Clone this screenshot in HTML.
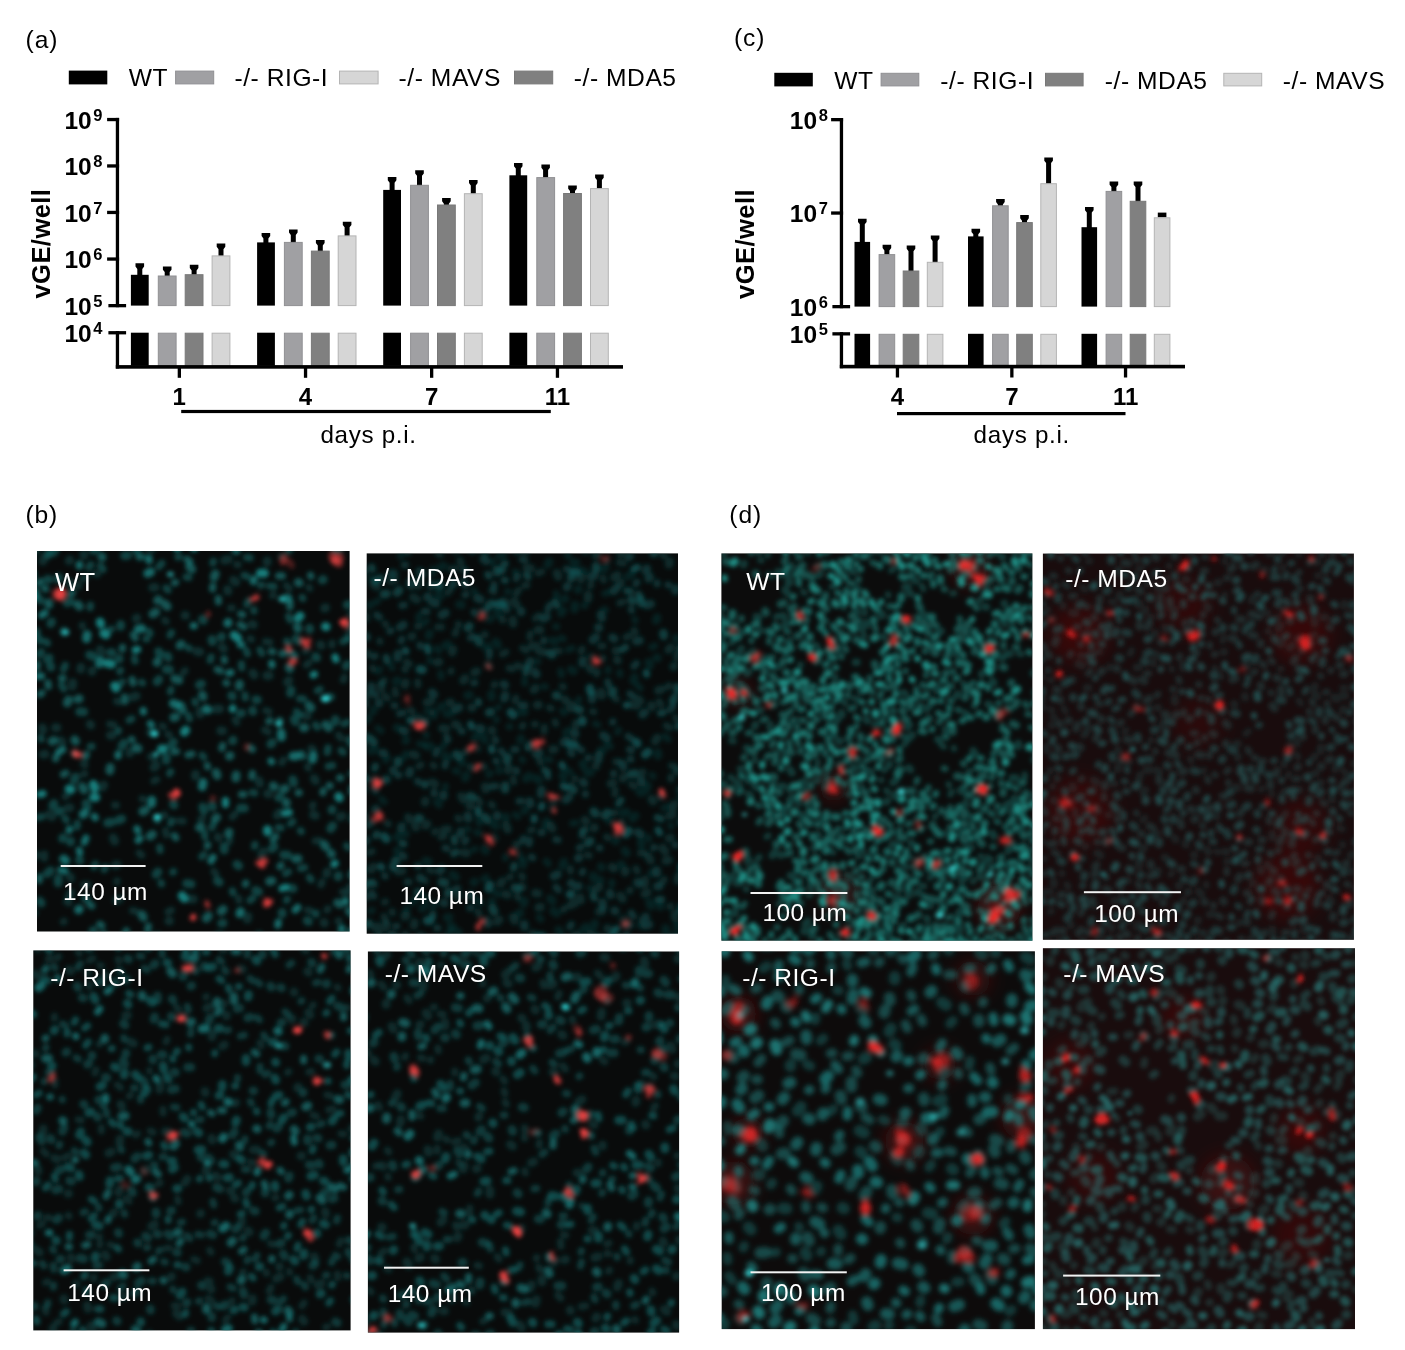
<!DOCTYPE html>
<html lang="en">
<head>
<meta charset="utf-8">
<title>Figure</title>
<style>
html,body{margin:0;padding:0;background:#fff;}
svg{display:block;}
svg text{font-family:"Liberation Sans", Arial, Helvetica, sans-serif;}
</style>
</head>
<body>
<svg width="1405" height="1350" viewBox="0 0 1405 1350">
<defs>
<filter id="f20" x="-5%" y="-5%" width="110%" height="110%"><feGaussianBlur stdDeviation="2"/></filter>
<filter id="f22" x="-5%" y="-5%" width="110%" height="110%"><feGaussianBlur stdDeviation="2.2"/></filter>
<filter id="f23" x="-5%" y="-5%" width="110%" height="110%"><feGaussianBlur stdDeviation="2.3"/></filter>
<filter id="f25" x="-5%" y="-5%" width="110%" height="110%"><feGaussianBlur stdDeviation="2.5"/></filter>
<filter id="f90" x="-5%" y="-5%" width="110%" height="110%"><feGaussianBlur stdDeviation="9"/></filter>
</defs>
<rect width="1405" height="1350" fill="#fff"/>
<rect x="68.8" y="70.6" width="38.5" height="13.8" fill="#000000"/>
<rect x="175.6" y="71.1" width="38.1" height="12.8" fill="#a0a0a3" stroke="#909093" stroke-width="1"/>
<rect x="339.5" y="71.1" width="38.6" height="12.8" fill="#d6d6d6" stroke="#b4b4b4" stroke-width="1"/>
<rect x="514.5" y="71.1" width="38.2" height="12.8" fill="#808080" stroke="#787878" stroke-width="1"/>
<text x="128.8" y="86.2" font-size="24.6" font-weight="normal" text-anchor="start" fill="#000" letter-spacing="0.55">WT</text>
<text x="234.5" y="86.2" font-size="24.6" font-weight="normal" text-anchor="start" fill="#000" letter-spacing="0.55">-/- RIG-I</text>
<text x="398.6" y="86.2" font-size="24.6" font-weight="normal" text-anchor="start" fill="#000" letter-spacing="0.55">-/- MAVS</text>
<text x="573.8" y="86.2" font-size="24.6" font-weight="normal" text-anchor="start" fill="#000" letter-spacing="0.55">-/- MDA5</text>
<text x="25.6" y="48.3" font-size="24.6" font-weight="normal" text-anchor="start" fill="#000" letter-spacing="0.9">(a)</text>
<polygon points="135.5,263.3 144.1,263.3 144.1,266.5 142.3,268.9 142.3,275.8 137.3,275.8 137.3,268.9 135.5,266.5" fill="#000"/>
<rect x="130.9" y="274.8" width="17.8" height="30.8" fill="#000000"/>
<rect x="130.9" y="332.7" width="17.8" height="33.1" fill="#000000"/>
<polygon points="162.9,266.5 171.5,266.5 171.5,269.7 169.7,272.1 169.7,276.5 164.7,276.5 164.7,272.1 162.9,269.7" fill="#000"/>
<rect x="158.3" y="276" width="17.8" height="29.6" fill="#a0a0a3" stroke="#909093" stroke-width="1"/>
<rect x="158.3" y="333.2" width="17.8" height="32.6" fill="#a0a0a3" stroke="#909093" stroke-width="1"/>
<polygon points="189.8,264.8 198.4,264.8 198.4,268 196.6,270.4 196.6,275.2 191.6,275.2 191.6,270.4 189.8,268" fill="#000"/>
<rect x="185.2" y="274.7" width="17.8" height="30.9" fill="#808080" stroke="#787878" stroke-width="1"/>
<rect x="185.2" y="333.2" width="17.8" height="32.6" fill="#808080" stroke="#787878" stroke-width="1"/>
<polygon points="216.7,243.6 225.3,243.6 225.3,246.8 223.5,249.2 223.5,256.4 218.5,256.4 218.5,249.2 216.7,246.8" fill="#000"/>
<rect x="212.1" y="255.9" width="17.8" height="49.7" fill="#d6d6d6" stroke="#b4b4b4" stroke-width="1"/>
<rect x="212.1" y="333.2" width="17.8" height="32.6" fill="#d6d6d6" stroke="#b4b4b4" stroke-width="1"/>
<polygon points="261.6,232.9 270.2,232.9 270.2,236.1 268.4,238.5 268.4,243.4 263.4,243.4 263.4,238.5 261.6,236.1" fill="#000"/>
<rect x="257.1" y="242.4" width="17.8" height="63.2" fill="#000000"/>
<rect x="257.1" y="332.7" width="17.8" height="33.1" fill="#000000"/>
<polygon points="289,229.4 297.6,229.4 297.6,232.6 295.8,235 295.8,242.9 290.8,242.9 290.8,235 289,232.6" fill="#000"/>
<rect x="284.4" y="242.4" width="17.8" height="63.2" fill="#a0a0a3" stroke="#909093" stroke-width="1"/>
<rect x="284.4" y="333.2" width="17.8" height="32.6" fill="#a0a0a3" stroke="#909093" stroke-width="1"/>
<polygon points="315.9,239.9 324.6,239.9 324.6,243.1 322.8,245.5 322.8,251.6 317.8,251.6 317.8,245.5 315.9,243.1" fill="#000"/>
<rect x="311.4" y="251.1" width="17.8" height="54.5" fill="#808080" stroke="#787878" stroke-width="1"/>
<rect x="311.4" y="333.2" width="17.8" height="32.6" fill="#808080" stroke="#787878" stroke-width="1"/>
<polygon points="342.8,221.7 351.4,221.7 351.4,224.9 349.6,227.3 349.6,236.4 344.6,236.4 344.6,227.3 342.8,224.9" fill="#000"/>
<rect x="338.2" y="235.9" width="17.8" height="69.7" fill="#d6d6d6" stroke="#b4b4b4" stroke-width="1"/>
<rect x="338.2" y="333.2" width="17.8" height="32.6" fill="#d6d6d6" stroke="#b4b4b4" stroke-width="1"/>
<polygon points="387.8,177.1 396.4,177.1 396.4,180.3 394.6,182.7 394.6,190.9 389.6,190.9 389.6,182.7 387.8,180.3" fill="#000"/>
<rect x="383.2" y="189.9" width="17.8" height="115.7" fill="#000000"/>
<rect x="383.2" y="332.7" width="17.8" height="33.1" fill="#000000"/>
<polygon points="415.2,170.2 423.8,170.2 423.8,173.4 422,175.8 422,185.8 417,185.8 417,175.8 415.2,173.4" fill="#000"/>
<rect x="410.6" y="185.3" width="17.8" height="120.3" fill="#a0a0a3" stroke="#909093" stroke-width="1"/>
<rect x="410.6" y="333.2" width="17.8" height="32.6" fill="#a0a0a3" stroke="#909093" stroke-width="1"/>
<polygon points="442.1,198.1 450.7,198.1 450.7,201.3 448.9,203.7 448.9,205.5 443.9,205.5 443.9,203.7 442.1,201.3" fill="#000"/>
<rect x="437.5" y="205" width="17.8" height="100.6" fill="#808080" stroke="#787878" stroke-width="1"/>
<rect x="437.5" y="333.2" width="17.8" height="32.6" fill="#808080" stroke="#787878" stroke-width="1"/>
<polygon points="469,179.9 477.6,179.9 477.6,183.1 475.8,185.5 475.8,194.2 470.8,194.2 470.8,185.5 469,183.1" fill="#000"/>
<rect x="464.4" y="193.7" width="17.8" height="111.9" fill="#d6d6d6" stroke="#b4b4b4" stroke-width="1"/>
<rect x="464.4" y="333.2" width="17.8" height="32.6" fill="#d6d6d6" stroke="#b4b4b4" stroke-width="1"/>
<polygon points="514,163 522.5,163 522.5,166.2 520.8,168.6 520.8,176.3 515.8,176.3 515.8,168.6 514,166.2" fill="#000"/>
<rect x="509.4" y="175.3" width="17.8" height="130.3" fill="#000000"/>
<rect x="509.4" y="332.7" width="17.8" height="33.1" fill="#000000"/>
<polygon points="541.4,164.5 549.9,164.5 549.9,167.7 548.1,170.1 548.1,178.1 543.1,178.1 543.1,170.1 541.4,167.7" fill="#000"/>
<rect x="536.8" y="177.6" width="17.8" height="128" fill="#a0a0a3" stroke="#909093" stroke-width="1"/>
<rect x="536.8" y="333.2" width="17.8" height="32.6" fill="#a0a0a3" stroke="#909093" stroke-width="1"/>
<polygon points="568.2,185.5 576.8,185.5 576.8,188.7 575,191.1 575,194 570,194 570,191.1 568.2,188.7" fill="#000"/>
<rect x="563.6" y="193.5" width="17.8" height="112.1" fill="#808080" stroke="#787878" stroke-width="1"/>
<rect x="563.6" y="333.2" width="17.8" height="32.6" fill="#808080" stroke="#787878" stroke-width="1"/>
<polygon points="595.1,174.5 603.7,174.5 603.7,177.7 601.9,180.1 601.9,189.1 596.9,189.1 596.9,180.1 595.1,177.7" fill="#000"/>
<rect x="590.5" y="188.6" width="17.8" height="117" fill="#d6d6d6" stroke="#b4b4b4" stroke-width="1"/>
<rect x="590.5" y="333.2" width="17.8" height="32.6" fill="#d6d6d6" stroke="#b4b4b4" stroke-width="1"/>
<rect x="115.8" y="117.9" width="3.3" height="189.3" fill="#000"/>
<rect x="115.8" y="331.1" width="3.3" height="37.4" fill="#000"/>
<rect x="107.1" y="117.9" width="12" height="3.3" fill="#000"/>
<text x="64.4" y="128.9" font-size="24.5" font-weight="bold" text-anchor="start" fill="#000">10<tspan font-size="16.5" dy="-8.2" dx="1.6">9</tspan></text>
<rect x="107.1" y="164.3" width="12" height="3.3" fill="#000"/>
<text x="64.4" y="175.3" font-size="24.5" font-weight="bold" text-anchor="start" fill="#000">10<tspan font-size="16.5" dy="-8.2" dx="1.6">8</tspan></text>
<rect x="107.1" y="210.8" width="12" height="3.3" fill="#000"/>
<text x="64.4" y="221.8" font-size="24.5" font-weight="bold" text-anchor="start" fill="#000">10<tspan font-size="16.5" dy="-8.2" dx="1.6">7</tspan></text>
<rect x="107.1" y="257.4" width="12" height="3.3" fill="#000"/>
<text x="64.4" y="268.3" font-size="24.5" font-weight="bold" text-anchor="start" fill="#000">10<tspan font-size="16.5" dy="-8.2" dx="1.6">6</tspan></text>
<rect x="108.4" y="304" width="17.7" height="3.3" fill="#000"/>
<text x="64.4" y="314.9" font-size="24.5" font-weight="bold" text-anchor="start" fill="#000">10<tspan font-size="16.5" dy="-8.2" dx="1.6">5</tspan></text>
<rect x="108.4" y="331.1" width="17.7" height="3.3" fill="#000"/>
<text x="64.4" y="342" font-size="24.5" font-weight="bold" text-anchor="start" fill="#000">10<tspan font-size="16.5" dy="-8.2" dx="1.6">4</tspan></text>
<rect x="115.8" y="365.1" width="507.2" height="3.6" fill="#000"/>
<rect x="177.7" y="366.8" width="3.3" height="11" fill="#000"/>
<text x="179.3" y="405" font-size="24" font-weight="bold" text-anchor="middle" fill="#000">1</text>
<rect x="303.9" y="366.8" width="3.3" height="11" fill="#000"/>
<text x="305.5" y="405" font-size="24" font-weight="bold" text-anchor="middle" fill="#000">4</text>
<rect x="430" y="366.8" width="3.3" height="11" fill="#000"/>
<text x="431.6" y="405" font-size="24" font-weight="bold" text-anchor="middle" fill="#000">7</text>
<rect x="555.8" y="366.8" width="3.3" height="11" fill="#000"/>
<text x="557.4" y="405" font-size="24" font-weight="bold" text-anchor="middle" fill="#000">11</text>
<rect x="181.2" y="409.9" width="369.6" height="3.2" fill="#000"/>
<text x="368.6" y="442.6" font-size="24.2" font-weight="normal" text-anchor="middle" fill="#000" letter-spacing="0.7">days p.i.</text>
<text transform="translate(50.1 243.6) rotate(-90)" font-size="25.6" font-weight="bold" text-anchor="middle" letter-spacing="0.4">vGE/well</text>
<rect x="774.3" y="72.8" width="38.5" height="13.6" fill="#000000"/>
<rect x="881.1" y="73.3" width="37.7" height="12.6" fill="#a0a0a3" stroke="#909093" stroke-width="1"/>
<rect x="1045.5" y="73.3" width="37.6" height="12.6" fill="#808080" stroke="#787878" stroke-width="1"/>
<rect x="1223.8" y="73.3" width="37.9" height="12.6" fill="#d6d6d6" stroke="#b4b4b4" stroke-width="1"/>
<text x="834.3" y="88.6" font-size="24.6" font-weight="normal" text-anchor="start" fill="#000" letter-spacing="0.55">WT</text>
<text x="940.3" y="88.6" font-size="24.6" font-weight="normal" text-anchor="start" fill="#000" letter-spacing="0.55">-/- RIG-I</text>
<text x="1104.8" y="88.6" font-size="24.6" font-weight="normal" text-anchor="start" fill="#000" letter-spacing="0.55">-/- MDA5</text>
<text x="1282.8" y="88.6" font-size="24.6" font-weight="normal" text-anchor="start" fill="#000" letter-spacing="0.55">-/- MAVS</text>
<text x="734" y="45.8" font-size="24.6" font-weight="normal" text-anchor="start" fill="#000" letter-spacing="0.9">(c)</text>
<polygon points="858,218.7 866.6,218.7 866.6,221.9 864.8,224.3 864.8,242.9 859.8,242.9 859.8,224.3 858,221.9" fill="#000"/>
<rect x="854.5" y="241.9" width="15.6" height="64.7" fill="#000000"/>
<rect x="854.5" y="333.8" width="15.6" height="31.7" fill="#000000"/>
<polygon points="882.6,244.8 891.2,244.8 891.2,248 889.4,250.4 889.4,255.1 884.4,255.1 884.4,250.4 882.6,248" fill="#000"/>
<rect x="879.1" y="254.6" width="15.6" height="52" fill="#a0a0a3" stroke="#909093" stroke-width="1"/>
<rect x="879.1" y="334.3" width="15.6" height="31.2" fill="#a0a0a3" stroke="#909093" stroke-width="1"/>
<polygon points="906.7,245.6 915.3,245.6 915.3,248.8 913.5,251.2 913.5,271.5 908.5,271.5 908.5,251.2 906.7,248.8" fill="#000"/>
<rect x="903.2" y="271" width="15.6" height="35.6" fill="#808080" stroke="#787878" stroke-width="1"/>
<rect x="903.2" y="334.3" width="15.6" height="31.2" fill="#808080" stroke="#787878" stroke-width="1"/>
<polygon points="930.8,235.4 939.4,235.4 939.4,238.6 937.6,241 937.6,262.8 932.6,262.8 932.6,241 930.8,238.6" fill="#000"/>
<rect x="927.3" y="262.3" width="15.6" height="44.3" fill="#d6d6d6" stroke="#b4b4b4" stroke-width="1"/>
<rect x="927.3" y="334.3" width="15.6" height="31.2" fill="#d6d6d6" stroke="#b4b4b4" stroke-width="1"/>
<polygon points="971.5,228.7 980.1,228.7 980.1,231.9 978.3,234.3 978.3,237.4 973.3,237.4 973.3,234.3 971.5,231.9" fill="#000"/>
<rect x="968" y="236.4" width="15.6" height="70.2" fill="#000000"/>
<rect x="968" y="333.8" width="15.6" height="31.7" fill="#000000"/>
<polygon points="996.1,198.9 1004.7,198.9 1004.7,202.1 1002.9,204.5 1002.9,206.3 997.9,206.3 997.9,204.5 996.1,202.1" fill="#000"/>
<rect x="992.6" y="205.8" width="15.6" height="100.8" fill="#a0a0a3" stroke="#909093" stroke-width="1"/>
<rect x="992.6" y="334.3" width="15.6" height="31.2" fill="#a0a0a3" stroke="#909093" stroke-width="1"/>
<polygon points="1020.2,215.1 1028.8,215.1 1028.8,218.3 1027,220.7 1027,223.1 1022,223.1 1022,220.7 1020.2,218.3" fill="#000"/>
<rect x="1016.7" y="222.6" width="15.6" height="84" fill="#808080" stroke="#787878" stroke-width="1"/>
<rect x="1016.7" y="334.3" width="15.6" height="31.2" fill="#808080" stroke="#787878" stroke-width="1"/>
<polygon points="1044.3,157.5 1052.9,157.5 1052.9,160.7 1051.1,163.1 1051.1,184.2 1046.1,184.2 1046.1,163.1 1044.3,160.7" fill="#000"/>
<rect x="1040.8" y="183.7" width="15.6" height="122.9" fill="#d6d6d6" stroke="#b4b4b4" stroke-width="1"/>
<rect x="1040.8" y="334.3" width="15.6" height="31.2" fill="#d6d6d6" stroke="#b4b4b4" stroke-width="1"/>
<polygon points="1085,207 1093.6,207 1093.6,210.2 1091.8,212.6 1091.8,228.2 1086.8,228.2 1086.8,212.6 1085,210.2" fill="#000"/>
<rect x="1081.5" y="227.2" width="15.6" height="79.4" fill="#000000"/>
<rect x="1081.5" y="333.8" width="15.6" height="31.7" fill="#000000"/>
<polygon points="1109.6,181.5 1118.2,181.5 1118.2,184.7 1116.4,187.1 1116.4,191.9 1111.4,191.9 1111.4,187.1 1109.6,184.7" fill="#000"/>
<rect x="1106.1" y="191.4" width="15.6" height="115.2" fill="#a0a0a3" stroke="#909093" stroke-width="1"/>
<rect x="1106.1" y="334.3" width="15.6" height="31.2" fill="#a0a0a3" stroke="#909093" stroke-width="1"/>
<polygon points="1133.7,181.5 1142.3,181.5 1142.3,184.7 1140.5,187.1 1140.5,201.8 1135.5,201.8 1135.5,187.1 1133.7,184.7" fill="#000"/>
<rect x="1130.2" y="201.3" width="15.6" height="105.3" fill="#808080" stroke="#787878" stroke-width="1"/>
<rect x="1130.2" y="334.3" width="15.6" height="31.2" fill="#808080" stroke="#787878" stroke-width="1"/>
<rect x="1157.8" y="212.6" width="8.6" height="4.7" fill="#000"/>
<rect x="1154.3" y="217.8" width="15.6" height="88.8" fill="#d6d6d6" stroke="#b4b4b4" stroke-width="1"/>
<rect x="1154.3" y="334.3" width="15.6" height="31.2" fill="#d6d6d6" stroke="#b4b4b4" stroke-width="1"/>
<rect x="839.8" y="118" width="3.3" height="190.2" fill="#000"/>
<rect x="839.8" y="332.2" width="3.3" height="36" fill="#000"/>
<rect x="831.1" y="118" width="12" height="3.3" fill="#000"/>
<text x="789.8" y="129" font-size="24.5" font-weight="bold" text-anchor="start" fill="#000">10<tspan font-size="16.5" dy="-8.2" dx="1.6">8</tspan></text>
<rect x="831.1" y="211.4" width="12" height="3.3" fill="#000"/>
<text x="789.8" y="222.4" font-size="24.5" font-weight="bold" text-anchor="start" fill="#000">10<tspan font-size="16.5" dy="-8.2" dx="1.6">7</tspan></text>
<rect x="832.4" y="305" width="17.7" height="3.3" fill="#000"/>
<text x="789.8" y="315.9" font-size="24.5" font-weight="bold" text-anchor="start" fill="#000">10<tspan font-size="16.5" dy="-8.2" dx="1.6">6</tspan></text>
<rect x="832.4" y="332.2" width="17.7" height="3.3" fill="#000"/>
<text x="789.8" y="343.1" font-size="24.5" font-weight="bold" text-anchor="start" fill="#000">10<tspan font-size="16.5" dy="-8.2" dx="1.6">5</tspan></text>
<rect x="839.8" y="364.8" width="345.2" height="3.6" fill="#000"/>
<rect x="895.8" y="366.5" width="3.3" height="11" fill="#000"/>
<text x="897.4" y="404.7" font-size="24" font-weight="bold" text-anchor="middle" fill="#000">4</text>
<rect x="1010.2" y="366.5" width="3.3" height="11" fill="#000"/>
<text x="1011.9" y="404.7" font-size="24" font-weight="bold" text-anchor="middle" fill="#000">7</text>
<rect x="1123.9" y="366.5" width="3.3" height="11" fill="#000"/>
<text x="1125.6" y="404.7" font-size="24" font-weight="bold" text-anchor="middle" fill="#000">11</text>
<rect x="897" y="412" width="228.5" height="3.2" fill="#000"/>
<text x="1021.8" y="443.2" font-size="24.2" font-weight="normal" text-anchor="middle" fill="#000" letter-spacing="0.7">days p.i.</text>
<text transform="translate(754.2 244) rotate(-90)" font-size="25.6" font-weight="bold" text-anchor="middle" letter-spacing="0.4">vGE/well</text>
<clipPath id="cbwt"><rect x="37" y="551" width="312.6" height="380.5"/></clipPath>
<rect x="37" y="551" width="312.6" height="380.5" fill="#090b0b"/>
<g clip-path="url(#cbwt)">
<g filter="url(#f20)"><rect x="7" y="521" width="1" height="1" fill="#090b0b"/><rect x="379.6" y="961.5" width="1" height="1" fill="#090b0b"/>
<g fill="none" stroke="#1c9896" stroke-linecap="round" stroke-width="7.2">
<path opacity="0.26" d="M338.6 735.1l2.4 3M322.1 882l-1.2 2.8M307.5 766.6l0.9 1.4M235 719.7l1.7 2.7M229.8 839.4l-0.5 2.5M185.1 670.5l-1.8 2.2M283.1 556.1l-1.9 0.5M164.2 814.6l0.5 0.9M95.3 573.6l2.1 0.8M116.6 701.1l2.2 0.9M167.9 734.3l1.5 0.6M264.5 729.9l3.7 2M265.6 641.4l4.2 0.9M153.8 732.1l-4.3 0.3M328 908.7l-1.1 1.3M309 662.8l-2.7 2.2M150.5 756.6l4 1.7M78.3 585.4l0.1 0.7M142.2 798.7l1 0.5M236.9 564.7l1.3 0M234.9 814.4l-2.6 2.5M82.3 625.2l0.2 1M84.7 773.6l-1.1 0.7M114.7 805.1l1.6 0.2M250.1 638.5l1.4 1M344.3 677.1l-1 2.9M88.1 884.7l-4.3 0M332.1 643l-0.1 2.2M259.3 933.9l-0.9 0.8M66.7 901.5l2.1 1.4M265.8 710.5l3.2 1.2M307.5 910l3.4 1M319.7 840.6l-4.4 0.2M44.5 854.2l-0.2 4.2M164.6 620.2l1.6 1.3M283.5 759.8l-1.8 2.9M117.1 881.1l-0.3 0.7M171.3 910.2l-3.2 1.5M306.6 649.9l-1 1.4M32.9 911.5l1.8 1.4M165.4 830.6l0.9 4.2M232.2 607.9l-1.6 0.2M309 587.4l0.7 0.9M179.4 820.8l3.8 0.3M139.2 853l2.5 2.2M202.8 818.2l-2.2 1.2M156.7 779.6l-2.9 1.4M312.9 804.8l-0.4 1.6M353.3 613.2l-2.9 1.3M339.1 920.8l-1.1 0.3M213.9 871.4l1.9 2.5M109.7 724.2l4 0.6M238.5 898.2l0.5 2.4M132.6 910.6l2.8 0.6M342.4 891.7l0.8 0.8M83.3 764l1.8 0.6M64 921.3l-0.6 0.5M273.2 594.8l-0.5 0.7M162 725.9l1.6 0.8M66.8 795.8l-1.8 0.9M86 576.9l-3.7 2M286.4 585.6l2.9 3M157.8 934.9l-1.8 1.4"/>
<path opacity="0.4" d="M92 746.4l-1.7 0.1M65.3 665.3l-1.8 3.9M173.5 871.5l-0.7 0.7M299.8 698.7l3.9 0.3M37.1 631.1l-2.5 0.5M288.5 616.2l1.6 3.7M90.5 605.2l-0.4 2.5M166.1 588.1l1.9 2M287.2 899.1l-0.7 1.3M347.5 722.2l-3.6 1.6M179.2 556.7l-1.3 0.3M122.2 681.8l-2 2.4M203.9 854.7l-2.1 1.9M341.1 750.5l2.1 1.9M118.5 730.3l-0.4 1.1M103.8 933.5l-0.9 2.4M296.6 711.5l2.6 3.2M252.8 898.2l-2.8 2.1M255 844.4l-0.5 2M346.8 639.7l-4 1.8M171 689.5l-0.7 2.3M304.6 867.5l-4.1 1M261.6 584.9l-1 0.4M77.3 823.4l-0.3 3.5M241.4 663.9l0.3 3.9M248.3 601.1l-1.4 3.2M194.8 701.1l0.5 1.7M286.7 641.2l1.4 1.8M148.9 631.2l1.2 2.3M46.4 641.9l1.1 1.3M315.6 724.9l1.6 2.4M131.8 718.8l-2.6 1.4M259.9 649.9l1.9 3.5M278.2 827.6l2.9 0.3M65 818.3l1.3 1.9M288.4 871.7l-2.8 1.8M232.3 890.6l0.7 2.3M161 882.7l0.5 1.2M353.5 815.6l-0.8 3.9M329 696.3l2.6 0.7M61.4 685l2.3 3.8M202.1 755.4l1.7 1.8M269.7 586l4.3 0.5M244 575.4l3.2 1M186.2 577l2.7 0.3M40.5 737.8l0.8 1.4M141.6 682.3l0.9 0.6M111.4 629.2l-3.3 1.6M41.5 816.8l-3.6 0.8M156.6 819.1l0.8 1.4M100.5 565.9l2.5 3.5M346.7 845.8l1.8 1.7M316.1 913.3l-0.2 0.9M159.7 847.3l0.4 3M170.7 771.6l-1.1 2M351.3 773.6l2.1 0.7M252.3 792.5l2.4 0.5M211.2 656.9l-1.1 3.4M332.5 765.5l-4.2 0.8M145.9 639l1 0M320.1 689.2l-2.7 1.4M309.4 877.3l1.6 2.2M328 747.9l-0.7 4.4M213.4 824.1l-1.7 3.5M161.9 563.4l-2.9 3.3M171.8 820.6l-1 2.7M213.4 561.1l-0.6 1.9M292.8 821.5l-2.3 2.1M246.6 557.4l3.6 0.5M245 695.2l0.3 2.6M302.2 597.6l0.6 0.9M90.8 564.6l-2 2.6M171.5 632.6l-1.5 2.6M134.5 658.4l0.5 2.6M246.2 650.4l1.2 3.5M204.3 833l0.6 4.1M188.4 715.4l1.1 3.5M120.5 670.4l-0.8 1M300.4 830.6l0.9 0.9M188.2 647.8l0.9 0.5M48 552.7l0.3 2.4M253.9 609.8l0.1 1.3M105.3 867.3l-1.1 2.2M95.4 864l-1.5 2.9M290 549l-1.2 1.8"/>
<path opacity="0.53" d="M133.3 634.9l2 3.2M285 653l-3 0.6M61.6 678.1l1.4 0M65.8 773l-2.4 1.4M224.2 659.1l0.2 1.5M218.2 598.7l0.3 3.1M252.4 773.5l-0.6 3.2M56.3 756.4l-0.7 2.5M217.2 669.5l3.4 1.4M240.2 624.6l3.6 2.2M207.8 844.8l-0.5 1.2M186.9 559.4l2.9 2.1M278.6 575.8l3.8 0.1M207.2 765.5l0.4 1.3M191.9 754l-3.9 0.9M44.4 588.2l1.2 0.7M281 865.3l-1.1 1.2M340.6 777.8l-1 0M275.7 836.4l-2.7 3.2M245.9 883l-0.5 1.2M131.5 739.3l0.6 0.5M176.6 751.5l-2.8 0.1M250.8 747.9l1.6 1.5M141.6 556.8l-2.3 0.3M290.2 603.2l-0.4 3.9M39.5 877l-0.3 3.3M86.4 754.4l-0.9 2.2M72.3 593l-1.3 1M222.6 745.5l-0.9 2.9M37.2 664l-0.2 3.5M148.4 926.1l-0.6 3.8M212.8 586.2l-0.3 2.7M226 682.7l0.8 0.5M352.3 787.8l-0.6 3.8M291.3 653.2l3.3 2.5M279.9 720.5l-0.6 3.1M301.4 753.9l1.3 2.2M240.8 614l1.9 0.6M310.5 575.2l0.4 1.2M323.3 790.8l-0.5 1.8M122.5 647.3l-0.3 1.7M126.4 930.8l-1.2 2.5M47.9 683l0.5 3.3M132.1 679.4l0.9 3.8M174.4 835.7l1.5 2.1M271.3 651.4l1.4 0.4M99.8 924.2l2 1.5M175.7 582.4l-1.3 0.4M89.8 904.4l2 1.5M329.3 785.4l0.8 0.4M41.9 693.1l-2.1 1.2M124.5 697.1l0.5 4.1M241.6 794.3l2.2 0.1M299.2 792.6l-1 0.2M270 720.8l-1.3 0.5M40.4 581.5l-1.9 1.5"/>
<path opacity="0.67" d="M150.3 723.7l1.2 1.4M79.5 564.5l-0.2 1.4M69.5 829.2l-0.4 1.2M86 838.1l-1.7 4M241.7 644.6l-1.4 0.1M118.2 754l-0.2 2M41.5 676l-3.6 0.3M271.7 663.4l0.3 1.6M74.6 753.6l1 0.5M213.1 857.4l-2.1 3.5M143.2 710.5l0.2 1.4M139.8 838.5l-1.7 1.9M45 613l-3.4 2.3M271 761l0.5 0.7M193.3 625.8l0.8 0.1M79.2 850.3l0.6 2.4M136.9 828.8l1 2M278.3 922.3l-0.5 2.8M254 579.3l-0.7 2.2M345.6 900.4l0.4 1.3M94.3 816.6l1 1M297.8 907.4l-2.6 2.5M230.9 672.5l-2.2 0.6M60.7 869.9l4.3 1.2M62.7 749.7l-3.9 2.1M341.7 928l-0.2 2.1M148.9 558.2l0.2 2.4"/>
<path opacity="0.81" d="M43 793.7l-3.2 0.6M137.6 649.4l-2.4 0.6M32.1 572.8l0.3 1.5M335 657.1l1 2.4M285.9 887.3l-3.9 1.1M232.7 708.1l-0.2 0.9M225.5 800.6l0 3.7M194.5 545.7l-0.5 2.8M314.4 674.3l-1.2 0.6M289.2 812.4l-4.3 0.9M335.2 863.4l-1.3 0.9"/>
</g>
<g fill="none" stroke="#1c9896" stroke-linecap="round" stroke-width="8.8">
<path opacity="0.26" d="M195.6 774.2l-0.3 2.1M83.8 553.9l0.1 1.8M42.4 727.8l0.6 2.2M100.2 649.4l1.1 2.8M314.1 778.4l1.4 2.4M117.2 864.7l-2.1 0.6M349.9 887.4l-0.6 4.1M252.1 624.1l1.4 0.7M184.9 615.5l0.7 0M156.2 765.5l-2.4 2M136.3 695.9l-3.8 1.3M228.5 559.3l-4.1 1M252.8 673l1.3 2M199.7 711.4l0.4 2.7M90.1 724.1l0.6 1.1M119.2 899.2l-2.8 0.9M155.2 587.4l-2.6 0.2M227.5 589.3l0.4 2M219.9 708.8l-4.2 0.3M70.8 893l-1.6 3M258.6 780.3l1.2 3.1M311.6 748.9l1.3 1.4M266.7 675.6l2.7 0M196.7 651.4l3.3 0.6M48.7 814.7l3.2 2.2M323.9 922.4l0.5 0.7M110.2 735.4l1.9 0.1M80.9 667.1l-0.3 2M248 916.4l-0.7 2.9M233.5 580.1l2.4 2M220.6 730.7l2.2 0.1M136.9 617.9l-0.8 0.7M168.9 920.9l0.7 0M320.5 644.7l0.6 0.8M57 727.7l-1.7 0M190.6 899l2.8 0.1M44.6 557.2l-1.8 4M60.9 740.6l1.2 1.9M217.9 837l0.5 0.9M103.8 785l-1.2 2.2M113.2 837.7l1.5 3.6M267.2 560.9l-0.1 1.4M72.8 682.6l-0.5 3.7M92.3 670.6l-0.3 0.8M69.7 559.9l-0.4 0.9M327.2 872l-0.6 1.9M148.4 547.8l3.4 1.3M36.4 855l-3.3 0.9M45.2 754.1l-2.3 0.4M342.1 816l-2.1 0.9M325.7 607.7l-1.2 0.6M70.1 807.6l-2.4 0.5M63.8 630.6l0.1 1M279.5 812.4l-2.4 3M313.3 814.8l2.1 0.8M304.9 715.7l2.6 0.2M70.3 877l0.4 1.2M263.5 851.7l-2.1 2.9M267.4 793.7l1.2 0.4M222.1 647.1l1.6 1.9M288.9 680.3l-1.6 1.8M349.4 633.7l-0.8 3.3M130.7 751.5l-1.2 1.9M219.6 935.1l-1.7 0.7M69.9 582.4l0.6 2.5"/>
<path opacity="0.4" d="M338.4 875.5l-0.3 1.2M217.4 880.9l1.9 1.3M111.3 822.2l-3.8 0.7M40.8 652.4l-1.5 1.7M39.6 901l1.6 2.1M231.6 695.5l0.8 1M63 837.7l-0.5 0.8M233 740l-0.4 0.9M39.2 598.9l1.1 1.4M296.1 638.8l2.8 2.2M323.3 579.5l-1.1 0.4M332.6 825.9l-2 2.8M274.1 846.6l-2.1 2M51.6 621.8l-0.9 1.8M127.6 555.4l-3.1 0.3M173.3 804.1l0.6 1M60.2 811.1l-1.8 0.1M291.1 690.1l-0.7 3.1M58.9 577.5l-1 1.6M315.6 656.7l1 1.1M158.9 679.5l-1.8 2.1M50.4 665.8l0.5 1.5M221.7 636.5l-0.5 0.7M89.5 654.9l3.7 1.5M292.8 779.6l0.8 3.3M339.1 548.9l-3.9 0.5M283.5 854.8l4.2 0.4M350.2 604.6l-3 0.1M157.9 872l-1.9 2.3M309.6 628.1l0.1 1.2M347.6 664.5l-1.4 1.5M86 803.4l1.4 4.2M252.6 710.2l0.3 1.2M70.2 601.7l-3.1 1.2M307.1 920.6l1.4 0.9M50.4 870.7l-3.1 2.8M119.3 658.4l-0.3 0.8M124 743.1l-2.2 3.1M202.6 619.1l0.8 1.3M201.5 683.8l-2.1 1M280 796.1l-1.4 1.5M244.5 808.1l-4.2 0.1M211.8 639.4l0.6 2.2M58.3 878.5l-0.2 4.5M35.2 549.9l-2.1 1.1M166.1 669.3l3.5 0.3M79.6 711.7l4.2 0.1M352.2 624.7l-1.1 1.4M166.2 756.9l-0 3.4M272.3 742.6l-1.6 1.6M75.5 777.1l-1.4 3.2M120.7 624.4l-0.1 2.2M223 923l-1.4 0.3M255.6 890.3l3 1.4M332.1 809.3l-0.2 0.7M202.6 807l1.3 3.6M70.7 841.2l-0.3 0.9M291 888l2.2 0.5M86.2 898.6l-0.8 0.2M241.5 713.1l-1.1 0.3M349.5 739.8l2.2 3.7M49.2 658l-1.8 1.5M93.4 930.5l-0.6 0.5M236.9 864.4l1.8 1.5M294.1 719.2l1.3 2.5M55.1 549.7l-1.6 2.8M224 846.7l0.3 3.3M212 805.4l0.6 1.6M255.9 699.7l1.6 0.1M186.7 883.5l4.4 0.5M53.9 803.4l-1.3 2.4M167.3 655.8l1 1.8M282.1 912.4l-0 1.4M110.6 652.5l1.4 0.2M121.8 818.8l-3.5 1.5M158.5 651.6l1.6 2.3M335.4 719.5l-0.3 2.3M37.6 637.7l2.1 2.6M79.3 860.1l0.5 0.6M135.6 546.9l1.1 4.3M47.6 579.4l1.2 0.1M173.6 742.1l-2.2 2.8M95.9 548.6l-2.4 2.1"/>
<path opacity="0.53" d="M325.7 724.6l3 3M352 930.9l-0.9 0.8M145.4 810.1l-2.7 1.4M74.7 739.7l0.9 1.5M77.9 604.7l1.6 1.7M200.8 826.7l-1.5 0.7M337.6 902.9l2.3 1.1M285.1 788.6l-1.3 0.5M289 667.4l0.8 1.2M164.6 603.8l2.7 2.6M155.8 612.1l-3 1.8M208.4 915.8l-2.1 2.5M297.2 626.6l0.7 2.1M68.5 699.8l-1.3 3.2M298.3 582.4l0.9 0.4M216.8 817.5l-1.3 0.9M110.2 767.3l-0.4 3.5M349.2 910.9l2.9 2.7M79.3 698.6l-1.6 0.5M181.2 705.8l1.2 4.2M157.5 661.4l-0.6 1.1M53.9 740.4l-1.8 0.9M82.4 786.7l1.5 3.2M223.2 909.3l-2 2.1M175.8 717l-2.1 0.6M230.2 755.6l-0.8 0.6M158.3 599.6l-0.8 0.8M304.8 727.6l-1.4 0.2M101.7 556.5l0.5 0.7M141.9 914.7l1.4 2.7M272 880.8l-2.5 0.6M353.2 872.8l-1.1 2.5M273.2 785.9l1.1 0.8M215.4 573.8l-1.3 3.4M229.1 832.1l-0.6 1.9M235.2 546.9l1 4M181.2 644.1l-1.4 1.3M239.6 683.9l-0.4 2.2M136 747.7l2.2 0.8M174.7 678.8l4.2 1.4M331 853.2l0.5 0.9M152.5 834.3l-2.5 2M48.7 602.8l0.2 1.9M308.9 705.5l2.1 2.3M236.2 774.9l-0.4 3.2M298.2 858.7l-2.8 0.2M286.2 802.2l0.2 1.2M202.4 694.9l0.7 2M216.1 772.5l1.1 3M189.4 566.7l2.5 2.4M324.2 844.6l1.5 2.1"/>
<path opacity="0.67" d="M63.6 858.9l2.1 1.8M206.3 708.8l1.3 1.1M288 598.3l-2.5 0.4M151.8 800.1l-0.3 3.5M84.4 813.3l-1.4 1M281.1 732.7l0.4 4.3M240.5 911.7l-0.7 1.9M228 622.4l-0.3 0.8M87.1 634.6l-0.6 4.1M173.2 703.3l3.8 1.5M150.6 572l-2.9 1.4M79.2 909.2l-0.7 0.6M296.4 756l-3.6 0.2M203.1 782.5l-0.9 4.2M34.8 592.2l-1 4.2M141.7 628.5l-3.5 0.5M313.2 755.8l-0.6 3.5M100.2 660.7l-0.9 2.9"/>
<path opacity="0.81" d="M325.4 626.6l0.8 0.2M93.4 784.3l1.2 4M260.2 573.1l4.3 0.1M114.6 685.8l1.4 2.4M338.5 796.5l0.9 1.3M185.8 730.1l-1.5 1.9M107.3 663.3l4.2 0.8M100.1 622l0.6 2.1M163.5 748.8l-2.2 0.4M267.4 829.6l0.2 2.2M300.2 615.9l-2.2 2M69 788.9l2.1 0.6M93.5 797.3l2.3 0.1M234.1 635.2l3.5 2.7M103.6 633.4l2.4 1.4M182.1 895.6l2.2 2.8M177 546l0.2 1.4"/>
</g>
<g fill="#ee4444">
<ellipse cx="58.7" cy="593.6" rx="6.5" ry="5.9" opacity="0.64" transform="rotate(158 58.7 593.6)"/>
<ellipse cx="60.7" cy="595.1" rx="6.2" ry="5.4" opacity="0.64" transform="rotate(117 60.7 595.1)"/>
<ellipse cx="61.3" cy="593.4" rx="5.5" ry="5.1" opacity="0.64" transform="rotate(83 61.3 593.4)"/>
<ellipse cx="290.1" cy="563.3" rx="6.3" ry="3.8" opacity="0.28" transform="rotate(55 290.1 563.3)"/>
<ellipse cx="283.7" cy="559.3" rx="5.9" ry="4.1" opacity="0.28" transform="rotate(96 283.7 559.3)"/>
<ellipse cx="283.2" cy="560.3" rx="5.2" ry="3.7" opacity="0.28" transform="rotate(106 283.2 560.3)"/>
<ellipse cx="338.3" cy="558.6" rx="6.3" ry="5.2" opacity="0.48" transform="rotate(139 338.3 558.6)"/>
<ellipse cx="336.9" cy="561.9" rx="6.8" ry="4.7" opacity="0.48" transform="rotate(36 336.9 561.9)"/>
<ellipse cx="333.6" cy="557.9" rx="6.7" ry="5" opacity="0.48" transform="rotate(66 333.6 557.9)"/>
<ellipse cx="253" cy="599.1" rx="3.6" ry="2.6" opacity="0.6" transform="rotate(171 253 599.1)"/>
<ellipse cx="256.4" cy="597.3" rx="3.5" ry="3.3" opacity="0.6" transform="rotate(13 256.4 597.3)"/>
<ellipse cx="345.4" cy="623.5" rx="4.8" ry="4" opacity="0.68" transform="rotate(103 345.4 623.5)"/>
<ellipse cx="342.9" cy="621.7" rx="4.1" ry="2.7" opacity="0.68" transform="rotate(168 342.9 621.7)"/>
<ellipse cx="343.9" cy="621.8" rx="4.5" ry="3.1" opacity="0.68" transform="rotate(131 343.9 621.8)"/>
<ellipse cx="306.9" cy="645.7" rx="4.1" ry="2.8" opacity="0.64" transform="rotate(0 306.9 645.7)"/>
<ellipse cx="303.3" cy="641.2" rx="3.7" ry="3.2" opacity="0.64" transform="rotate(94 303.3 641.2)"/>
<ellipse cx="307.8" cy="641.3" rx="4.3" ry="2.6" opacity="0.64" transform="rotate(142 307.8 641.3)"/>
<ellipse cx="288.2" cy="648.3" rx="3.7" ry="2.8" opacity="0.56" transform="rotate(42 288.2 648.3)"/>
<ellipse cx="289.8" cy="649.9" rx="3.1" ry="1.8" opacity="0.56" transform="rotate(101 289.8 649.9)"/>
<ellipse cx="291.4" cy="662.3" rx="3.9" ry="3.4" opacity="0.6" transform="rotate(76 291.4 662.3)"/>
<ellipse cx="294.5" cy="661.1" rx="3.4" ry="2.9" opacity="0.6" transform="rotate(172 294.5 661.1)"/>
<ellipse cx="78.2" cy="754.8" rx="4.2" ry="3.4" opacity="0.68" transform="rotate(168 78.2 754.8)"/>
<ellipse cx="75" cy="753.4" rx="3.9" ry="3.3" opacity="0.68" transform="rotate(82 75 753.4)"/>
<ellipse cx="176.9" cy="792.8" rx="4.7" ry="3.8" opacity="0.68" transform="rotate(76 176.9 792.8)"/>
<ellipse cx="176.4" cy="792.9" rx="4.2" ry="3.4" opacity="0.68" transform="rotate(23 176.4 792.9)"/>
<ellipse cx="172.6" cy="795.8" rx="4.8" ry="3.1" opacity="0.68" transform="rotate(24 172.6 795.8)"/>
<ellipse cx="262.2" cy="864.6" rx="4.2" ry="3.8" opacity="0.64" transform="rotate(75 262.2 864.6)"/>
<ellipse cx="259.2" cy="863.8" rx="4.4" ry="2.8" opacity="0.64" transform="rotate(30 259.2 863.8)"/>
<ellipse cx="264" cy="860.6" rx="4.7" ry="3" opacity="0.64" transform="rotate(10 264 860.6)"/>
<ellipse cx="265.9" cy="903.4" rx="4.4" ry="3.2" opacity="0.64" transform="rotate(90 265.9 903.4)"/>
<ellipse cx="269.5" cy="902.7" rx="4.7" ry="3" opacity="0.64" transform="rotate(131 269.5 902.7)"/>
<ellipse cx="267.4" cy="901.2" rx="4.1" ry="2.5" opacity="0.64" transform="rotate(68 267.4 901.2)"/>
<ellipse cx="193.8" cy="917.1" rx="3.5" ry="2.6" opacity="0.6" transform="rotate(85 193.8 917.1)"/>
<ellipse cx="192.6" cy="917.7" rx="3.4" ry="3.1" opacity="0.6" transform="rotate(114 192.6 917.7)"/>
<ellipse cx="207.8" cy="905.2" rx="3.8" ry="2.8" opacity="0.36" transform="rotate(74 207.8 905.2)"/>
<ellipse cx="206.9" cy="903.4" rx="4" ry="2.8" opacity="0.36" transform="rotate(81 206.9 903.4)"/>
<ellipse cx="208.5" cy="613.8" rx="3.4" ry="2.6" opacity="0.35" transform="rotate(75 208.5 613.8)"/>
<ellipse cx="246.5" cy="746.9" rx="4" ry="2.6" opacity="0.3" transform="rotate(94 246.5 746.9)"/>
<ellipse cx="212.9" cy="798.1" rx="3.3" ry="2.8" opacity="0.3" transform="rotate(12 212.9 798.1)"/>
</g>
<ellipse cx="325.5" cy="698.6" rx="4.7" ry="3.7" fill="#30d8d8" opacity="0.9"/>
<ellipse cx="154.3" cy="733.7" rx="4.1" ry="3.3" fill="#30d8d8" opacity="0.85"/>
<ellipse cx="155.8" cy="754.2" rx="2.9" ry="2.3" fill="#30d8d8" opacity="0.7"/>
<ellipse cx="157.3" cy="817.1" rx="3.8" ry="3" fill="#30d8d8" opacity="0.9"/>
<ellipse cx="65.1" cy="632.2" rx="4.1" ry="3.3" fill="#30d8d8" opacity="0.7"/>
<ellipse cx="278.7" cy="723.5" rx="3.5" ry="2.8" fill="#30d8d8" opacity="0.7"/>
<ellipse cx="170.4" cy="574.3" rx="3.5" ry="2.8" fill="#30d8d8" opacity="0.6"/>
<ellipse cx="281.6" cy="599.1" rx="3.5" ry="2.8" fill="#30d8d8" opacity="0.6"/>
</g>
</g>
<text x="54.9" y="590.8" font-size="25.6" font-weight="normal" text-anchor="start" fill="#fff" letter-spacing="0.5">WT</text>
<rect x="60.7" y="865" width="84.9" height="2" fill="#f2f2f2"/>
<text x="63" y="900.4" font-size="24.4" font-weight="normal" text-anchor="start" fill="#fff" letter-spacing="0.5">140 µm</text>
<clipPath id="cbmda"><rect x="366.7" y="553.4" width="311.3" height="380.3"/></clipPath>
<rect x="366.7" y="553.4" width="311.3" height="380.3" fill="#080b0b"/>
<g clip-path="url(#cbmda)">
<g filter="url(#f22)"><rect x="336.7" y="523.4" width="1" height="1" fill="#080b0b"/><rect x="708" y="963.7" width="1" height="1" fill="#080b0b"/>
<g fill="none" stroke="#166c6e" stroke-linecap="round" stroke-width="7">
<path opacity="0.23" d="M476 747l2.4 2.1M377.8 728.2l3.3 2.5M429.8 659.9l-0.1 1.1M405.6 753.5l-1.3 4.2M440.7 673.3l0.4 3.6M435.1 903.4l-1.8 3.6M476.7 832.4l2.9 0.6M569 730.1l-3.7 1.9M498.7 707.3l-0.6 0.4M552 807.1l-0.1 2.2M575.9 822.7l-3.4 0.7M612.2 821.3l-3.5 0M406.9 908.8l-1.7 2.6M419.3 743.8l4.2 0.9M514.7 571.8l1.8 0.3M467.7 828.7l0.6 0.6M372.3 910.2l-2.1 0.8M586.1 551.2l-0.5 0.6M506 856.5l-0.7 1.7M611.8 881.9l-0 2.3M491 900.6l1.6 0.6M560.6 671l0.9 3.9M607.2 560.5l-0.1 0.8M498.9 768.9l0.3 2.5M524.5 680.1l0.2 3.1M555.9 593.4l1 1.7M380.1 669.1l-2.2 2.5M561 638l2.4 1M515.2 814.6l2.5 2M509.1 726.4l1 0M370 578.3l3.9 1.8M381.7 799.3l2.6 2.4M445.4 786l0.3 0.7M638 685.6l2.2 2.7M654.9 645.9l-3.2 1.1M634.7 619.3l0.6 1.5M436.5 648.5l2.1 2.5M598.7 936.2l0.8 1.4M639.5 925.3l1.8 0.7M496.6 719.4l-0.3 0.7M432.7 569.1l0.2 4.2M546.7 759.2l3.6 0.7M426.7 620.8l-1.7 2M507.3 591.3l1.2 0.3M595.3 723.7l2.5 1.2M368.4 604.3l1.3 2.2M450.9 930.9l-3 2.7M555.6 626.5l1.1 0.1M426 734.4l0.4 1.1M474.9 849.1l-1.2 0.4M455 770.7l2.7 0.8M495.3 892.4l3 2.1M519.4 854.2l1.6 3.5M608.2 669.1l-0.1 1.9M456.3 550.8l-0.5 0.5M546.3 861.3l2 2.4M608.8 592.1l-4.1 1.4M401.3 552.6l-0.7 4M667.3 806.5l-3.8 1.6M652 775.3l1.2 0.9M490.5 773.3l-1.9 1.4M521.9 759.1l0.8 1.2M486.4 877.5l-2.8 1.4M567.5 770.5l2.7 1.4M390.5 664.8l1.7 3.4M478.6 819.7l0.7 3.7M377.8 601.1l-3.3 1.6M459.2 931.9l-0.3 1.2M589.4 888.1l2.3 1.6M670.6 825.1l0.3 1.4M387.9 758l-2.2 2.4M619.7 672.3l0.3 2M572.1 648.4l-4 1.4M567.8 553.7l0.5 2.6M543.9 686.4l1.6 0.3M444.9 743.9l-2.1 2.7M579 699.2l-0.3 1M607.5 744.3l3 2M562.3 710.6l1.5 2.4M603.8 609.4l1.9 0.5M406.6 833.5l-0.4 1.3M539.2 917.2l1.7 2M537.9 661.2l-0.5 0.6M618.7 729.9l-1.2 2.1M426.8 711l4.1 1.1M419.1 615.2l-0.4 3.6M648.6 837.6l0.2 1.7M473.7 590.4l0.8 1.2M493.1 561.2l-0.7 1.4M584.2 605.7l0.8 0.1M665 736.2l3.2 2.9"/>
<path opacity="0.33" d="M367.6 695.6l-2.2 0.1M385.5 901.7l-1.2 0.4M526.8 585.1l-2.1 0.4M404.4 669l1.1 0.8M438.1 553l1.9 1.5M595.1 766l1.4 0.8M502.6 619l0.1 1.3M662.8 554.8l1.6 1.4M635.9 868.7l1.3 2.5M671.3 765.5l3.8 1.2M597.3 671.6l-0.7 2.5M631.4 784.1l2.5 2.1M555.8 650.7l3.6 0.4M372.6 667.8l0.5 1.2M365.9 615.8l0.5 3M458.3 624l0.3 1M535.5 724.2l-1.2 0.3M523.1 725.2l-1.1 1.4M437.5 626.9l4.1 0M666.2 725.7l3.6 1.9M659 701.4l1.9 3.2M459.9 560.2l1.2 3.2M539.4 759.8l1.1 2.9M602.8 658.1l-0 0.7M562.3 686.2l1.2 0.8M533.3 933.2l-1.7 0.2M517.2 896.7l1.1 1.2M538.7 615.7l-3.5 2.6M392 911.4l0.5 1.5M517.4 550.3l-0.7 1.2M532.4 829.6l-2 0.8M421 764.8l-2.2 1.4M384 916.5l1.5 3.9M483.4 766.1l0.9 1M487.5 664.7l1.7 1.5M592.4 711.4l1.5 0.3M509.1 668.3l3.7 0.4M433.1 765.1l1.2 1M541.8 571.8l-3.6 1.3M530.3 633.8l-0.5 3.3M522.6 648.2l3.4 2.1M521.3 875.6l1.5 1.8M405.5 934.1l-0.3 1.8M384.8 695.9l2.6 2.3M587.4 854.6l1.9 1M450.1 589.8l-2.3 2.9M505.9 652.2l-3.6 1.9M621.6 821.6l1 4M384.3 680.3l-1.9 2.2M494.8 684.3l-0.8 0.8M429.2 869.6l2.5 1.2M582.3 649l-1.2 2.2M375.3 778.8l-3.2 0.9M642.4 771.7l0.8 0.3M435.3 831.1l-0.8 1M363.5 815.2l1.9 1.7M516 844.3l0.4 2.4M630.2 890l-0.7 1M549.5 707.7l1.8 0.7M385.1 623.6l0.6 0.9M590.9 585.1l-0.6 0.7M419.3 626l-1.8 0.2M443.9 836.6l-2.9 0.5M676.7 655.2l0.2 2.7M491.1 804.2l1.7 1.5M606.6 837l1.6 0.9M456 631.2l-0.9 2.6M372.3 851.3l-4 1.4M622.7 601.9l-3.1 1.1M602.9 577.8l0.8 2.3M516 697.9l-1.1 2.9M603.2 646l-2.5 0.1M478 911.8l1.2 2.1M564.2 908.8l-0.8 0.9M570.4 868.5l0.1 2.7M451.1 670.7l-0.2 0.9M387.1 823.2l1.2 0.8M544.4 727.2l-0.3 4M424.9 880.1l0.7 0.9M555.1 721.5l0.7 2.3M407.4 551.8l0.4 1M466.4 751.3l-1.6 1.6M634.2 630.1l1 2.1M379.7 640.9l0.3 0.8M575.6 722.8l-0.1 3.8M615.4 790.2l-0.8 3.7M621.9 553.7l-1.7 0.9M366.9 735.8l-2.3 0.8M619.3 562.4l4.1 1M395 690.1l0.7 4M518.4 590.2l-2.2 3.3M491.7 590.7l2.2 1.3M406.5 662l3 2M379.4 933.4l-0.9 2M457.8 817.9l1.4 1.3M670.6 906.2l-0.7 0.3M664.3 879.3l-2.2 3.3M410.4 710.1l1.8 1.3M478.3 799.4l1.8 3.2M513.2 778.8l0.7 3.1M640.3 853.1l3.8 0M455.2 568.8l-4.1 0.3M510.7 876.7l-1.4 0.5M417.7 681.8l0.3 3M614.9 812.6l-1.8 0.3M670.9 776.9l0 2.2M614.9 698l1.7 1.2M517.3 665.3l2.4 1.2M675.8 717.6l0.3 1.2M618.4 761.5l-2.6 0.3M668.8 685.7l-1.2 1.2M458.7 894.7l-1.2 2.6M589.9 933l3.7 2.1M629.1 635.7l-3.1 1.6M681.5 789l-2.1 0.2M574.8 778.1l-0.2 0.8M470 766.9l3.3 1.1M484.7 634.1l0.5 0.8"/>
<path opacity="0.42" d="M403 712.9l-3.5 0.7M418.6 865.9l-1.2 0.1M401.9 639l-0.8 2M501.1 750.6l1.7 2.5M375.2 656l-1.1 0.5M607.5 681.7l1.4 4M374.3 787.8l1.2 3.3M522 559.2l2.9 0.6M437.2 750.2l-1.6 3.5M457.6 888.3l-2.3 0.8M613.6 773.2l-0.1 0.8M371.8 822.5l-3.1 2.5M531.4 857l1.3 0.8M555.7 839.5l2.4 0.4M675 845l0.9 0.1M654.2 847.4l-0.8 0.3M629.9 693.8l3 2.5M404.3 565l1.2 0M463.6 570l1.7 0.3M578 747.7l3.6 2.4M630 759.1l1.1 0.1M417.4 781.2l1.4 1M445.1 847.9l1.9 0.7M391 630.6l-1.4 0.7M599.2 847.9l0.8 0.1M446.6 736.8l1.3 2.8M494 584.6l-0.1 2.9M372 893.2l1.8 3M626.5 934.9l-0.5 0.7M588.8 757.7l-0.7 0.2M637 582.1l-1 1.6M436.9 927.9l0.9 0M473.3 550.1l-1.4 0.6M424.5 611.2l2.5 0.2M404.4 605l-2.7 0.6M466.2 839.7l-1.6 2M434.1 791.9l-0.1 1.8M661 796.2l-0.2 0.8M472 636.1l-1.6 1.8M529.7 840.3l-0.5 3.5M556 887.2l2.5 2.8M419.7 645l0.7 1.3M571.1 882.1l-0.9 1.5M667.9 584.9l0.8 0.2M489.6 651.9l-0.4 4M396.9 926.1l-1.2 0.3M636.5 663.4l-2.6 2.9M486.3 609.9l-4 1.3M516.4 770.3l0.1 1.2M672.6 707.3l-2.8 2.4M631.1 609.1l0.5 1.2M408.7 881.9l-1.6 0M517.4 576.5l-1.2 2.1M547.7 776.1l0.4 0.6M474.9 682.6l-1.2 0.3M516.4 749.5l-2.6 0.1M495.7 786l-3.9 0.4M466 594.4l-0.9 0.5M612.8 721.5l-0.2 0.8M631.2 912.9l2.1 3.4M518.9 800.9l2.5 0M542.3 832.5l-1.4 0.1M582.9 871.1l-0.7 1.6M571.4 924.4l-1.5 2.3M580.8 847l-1.6 1M549.5 605.4l-1.7 3.7M445.5 763.4l-0.5 2.5M376.6 614.9l2.9 2.2M471.2 907.5l-1.3 0.4M474.1 612l1 1.5M570.4 752.3l1.5 1.7M581.8 834.9l0.6 0.7M543.9 640l-0.2 1.2M402.7 855.1l1.4 1.6M523.7 838.4l-1.7 2.8M495.8 760.7l0.7 0.8M374.9 694.9l0.9 0M384.5 875.6l0.8 0.6M461.5 731.3l0.9 0.2M365.2 701.9l0.2 2.3M495.1 739.4l0.7 1.3M628.1 736.3l3.3 2.3M520.7 705.1l4.3 0.2M394.1 705.6l0.8 0M566.5 568.9l2.8 1.7M585.4 793.4l-0 1M657.1 582.7l-0 1.3M629.4 749.5l2.1 0.9M399.2 775.1l-1.1 0.5"/>
<path opacity="0.52" d="M657.2 817.6l3.9 1.5M570.2 577.7l1.7 0.8M554.9 601.7l2 3.5M526.7 668.4l-0.8 4M372.8 882.2l1.4 1.8M585 829.9l-2.2 0.7M663.1 712.6l-2.7 0.7M478.3 701.4l0.4 1.4M375.5 766.1l-0.9 2.3M514.1 865.5l-0.6 2.7M487.8 574.4l0.9 1.5M505.3 563.6l-1.6 1.1M661.6 899.6l-3.7 0.1M626.8 590.8l3.6 0.6M620.9 800.2l-2.4 3.3M402 843.4l2 0.5M386.3 657.5l0.5 3.1M454 838.3l0.7 3.6M418.5 891.4l-1.4 0.7M680.6 724.4l-2.6 2.1M371.6 567l0.9 2.3M638.6 594.2l1.7 3M432.7 914.6l0.2 1.6M625.6 647.2l-3.1 2.2M376.8 833.8l-1.1 1.9M502.8 570l-1 0.4M544.6 770.1l2.8 1.9M456.1 852l-2.5 1.7M593.2 895.7l1.1 2.4M504.2 580.2l1.3 0.3M526.5 575.2l1.7 1.6M364.5 777.2l1 2.2M425.1 783.8l-0.2 1.3"/>
<path opacity="0.62" d="M542 805.4l-0.7 2.1M409.8 720.3l1.6 0.5M380.6 866.3l1 1.1M646.2 672.6l0.5 1.8M427.2 646.9l0.9 4.1M491.6 748.1l0.3 2.3M637.3 567.3l-3.4 1.7M616.7 928.7l-1.9 2.5M561.9 764.7l1 1.7M478.1 810.1l0.2 2.9M627.1 704.9l-0.8 0.4M405.3 650.5l0.7 0.7M658 830l1.6 2.8M681.6 906.1l-0.3 4.2M470.6 724.1l1.1 2.6M563.3 785.9l2.2 1.4M542.4 935.7l-4.2 0.1M534.2 817.8l-0.1 2"/>
</g>
<g fill="none" stroke="#166c6e" stroke-linecap="round" stroke-width="8.6">
<path opacity="0.23" d="M575 605l-0.5 4.2M414.7 899.6l-1.9 2M562.9 610.5l-1.8 2.6M582.4 570.5l2.3 1.4M594.7 923.3l-0.5 2.9M434.3 712.5l-0.4 3.2M484.5 848.5l1.1 2.1M677.4 936.4l-3.5 0M449.3 917.3l-2.4 0.2M495.7 641.7l2.2 3.3M550.1 898.6l2.4 2.5M649.4 902.2l1.5 4M441.5 706.6l-0.4 0.6M459.3 604.4l2.3 0.5M443.4 565.8l-3.2 1.5M491.4 694l0.1 3.1M590.8 656.6l1.1 0.6M635.4 815.8l-2.8 2.6M399.3 835.3l-2.5 1.7M535.7 778.2l3.3 1.8M578.8 589l-0.9 0.8M452.5 874.5l3.3 2.7M483.3 736.4l1.6 3.8M553.3 910.9l3.2 2.6M657.8 752.4l0.2 3.3M444.9 755.6l3.7 1.9M558.7 930.1l1.9 3.3M616.8 837.4l-1.2 3.8M546.3 821.4l-1.3 3.9M601.1 866.6l0.4 0.8M626.7 812.1l-3.9 0.7M429.5 633.2l-0.9 2.6M466.3 775.4l-1.2 2.6M505.7 816.8l0.2 1.3M562.4 775.4l1.4 2.4M396.8 727.6l1.6 0.5M647.7 785.6l-1.5 4M406.3 740.1l-0.6 0.6M573.7 562.4l2.4 0.3M563.9 861.9l-1.4 3.9M494 824.8l2.1 1.1M524.3 712.2l-2.7 0.1M601 750.1l2 0.1M659.8 906.2l0.7 0.4M494.2 837.1l0.5 1.1M461.1 761.2l0.9 1.8M424.9 906.2l-2.9 2.4M624.8 850.5l1.9 2.6M621 864.3l1.3 1M397.6 680.3l-1.9 1M497.2 611.8l1.3 3M641.1 842.3l0.4 3M437.3 802.3l1.6 2.1M631.2 574.6l-3.2 1.6M586.1 926.8l-3.1 2.7M624.1 918.7l-1.8 0.3M593.3 875.7l0.1 3M363.9 787.2l-0 2.7M582.5 763.7l1.4 3.1M373.3 710.1l0.2 0.7M503 555.1l-3.3 0.9M368.6 717.9l-1.6 1.8M651.5 872.9l-0.1 0.7M665.6 928.3l0.3 3.9M374.6 749.4l-3.4 1.6M656.5 657.9l1.1 0M524.6 900.8l-0.8 3.1M520.8 738.6l-0.2 1.7M477.3 900.3l3.1 2.6M657.2 617.5l-1.1 2.9M676.3 638.1l0.2 0.9M485.1 551.7l0.1 2M525.5 810l-1.1 0.8M587.2 772.4l3.4 0.3M549.3 561.6l-1.6 2.9M424.6 898l1.7 0.9M529.2 776l-3.3 2.6M469.6 695l-2.1 0.3M488.1 646.6l-2.4 0.9M474.6 881.8l-0.9 0.6M648.6 662.3l1.3 3.1M634.5 677.2l-1.1 3.6M565.2 598.5l-1.3 0.8M447.9 644l-3 1.7M363.5 869.3l-1.2 3.9M425.5 860.8l3.1 0.8M677.6 925l-0.4 2.3M450.7 925.8l2.7 1.9M396.9 850.7l0.4 0.8M680.6 796.5l1.2 3.5M605.6 567.2l-1.3 1.8M450.7 713.3l-3.9 0.7M487.3 618.2l3 0.5M571.1 669.6l2.6 1.4M430.2 745.8l-2.6 0.8M598.7 879.6l1.8 0.8M523.6 862.1l-0.7 2.9M477.5 735.4l-2.9 2.7M438.1 594.6l2.1 1.9M552.4 640.6l2.4 0.7M639.5 792.1l2.6 0.7M520.2 912.9l-2.1 1.2M555.2 800l-1.5 0.9"/>
<path opacity="0.33" d="M471.5 707.6l0.9 0M675.1 913.7l-0.1 4.1M674 804.4l-0.8 3.9M373.1 866.9l-1.9 2.7M513 917.4l1.7 3.3M366.7 653.2l1.1 1M463.8 852.6l2.9 0.6M453 649.2l-0.9 3M648.4 856.5l2.2 3.8M476.7 671.3l-2.3 1.2M661 689.6l-2.8 0.8M442.3 728.3l3.7 0.4M617 660l0.8 0.4M415.1 825.5l0.8 1.9M564.9 699.5l1.5 1.5M657.2 737.9l-2.1 3.3M670.7 837.9l-1.7 0.3M485.1 786.5l0.6 2.8M402.3 870.8l-4.1 0.8M412.3 636.2l-0.7 0.4M419.3 718.3l-3.5 0.3M678.4 876.3l-0.5 4.2M651.7 799l1.4 2.4M502.2 881.3l-1.8 2.7M447.9 829.2l-4.3 0.9M599 887.2l-2.5 1.7M394.5 580.1l-3.8 1.1M514.1 601.2l2.4 3.5M538.7 704.8l-1.7 0.3M662.6 847.9l2.4 3.4M432.5 782.3l2.5 1.7M615.7 650.5l0.7 0.3M601.1 692l0.6 3.6M620.8 582.6l-0.5 1M408.2 817.4l1.2 1.8M414.6 922.6l-0.8 2.9M670.8 647.5l-2.2 2.2M535.2 893.1l2.9 0.4M580.3 897.5l0.4 2.7M620.5 895.9l2 3M617.3 575.1l-3.3 2.3M612 867.1l1.9 1.3M535.6 688l-1.8 1.9M540.8 907l-2.2 0.5M450.7 702.5l-1.3 0.3M427.2 824l-1.5 1.6M540.3 629.9l-2.5 0M539 650.7l3.7 1.2M556.9 573.1l1.3 3.5M526.7 568l4 0.2M669.8 561.5l-0.9 2.9M455.2 724.2l2.7 1.5M550.6 825.5l1.7 3.1M521.4 886.8l1.1 0.4M594.5 827.4l-0.5 0.9M418 581.5l0.6 4.2M430.9 701.3l-4.1 1.1M535.9 646l-4.3 0M503.4 601l2 1.8M386.6 924.7l-1.5 2.6M461.2 796.2l2.3 3.2M597 553.5l-1 2.1M674.4 666l-1 0.6M607.4 928.4l2.8 1.7M508.8 767.9l-0.9 2.5M601.9 911.1l-2.8 0.6M676.7 771.3l1.8 0.1M506 825.4l1.7 4M420.3 935.8l2.2 1.6M491.8 730.1l0.6 0.8M465.1 678.4l-1.9 2.2M668.8 860l-3.2 0.7M651.3 705.4l0.6 1.5M625.8 871l-0.9 1.3M499.3 919.6l-2.3 2.1M624.2 776.8l-1.4 1.7M405.7 682.6l-0.8 2.3M554.6 749.2l-2.2 0.4M413.2 597.3l3.6 2.4M638.8 699.4l1.5 1.6M588 594.9l-0 3.8M584.8 820l1.3 1.2M589.8 667.7l1.1 1.8M577.1 935.1l-1.9 0.3M612.9 783l-2.2 0.7M365.9 896.4l0.6 0.8M647.5 892.5l-2.7 1.4M412.8 754.2l3.1 1.2M439.2 661.9l-2.3 0.5M469.5 805.5l1.2 0.4M425.4 800.8l-0.4 1.6M644.6 879.8l0.2 4.2M633 705.2l4 0.2M406.4 915.6l-1.9 1M572.8 705.4l-2.7 2.9M381.3 684.9l-0.1 3.6M574.4 903.4l-3.9 1.8M512.8 619.8l0.3 3.8M377.6 926.3l-2.7 1.2M373.5 584.2l2.9 2.4M581.2 577.4l-0.3 1.8M672.7 814.5l-3.3 1.1M505.5 894l1.9 1"/>
<path opacity="0.42" d="M583 782.1l1.2 1.1M629.9 556l-1.1 1.2M483.7 559.1l2.3 1.8M602.4 902.4l0.5 4.1M541.4 789.8l-0.4 4.1M467.6 815.7l0.6 2.7M410.1 582.4l0.9 3.4M557.6 874.4l-3.7 1.8M529.7 801.3l0.7 2.5M391.2 573.5l2.7 0M534.8 671.9l1.7 2.4M366.2 636.1l0.7 1.2M568.9 797.2l-3.1 2.6M486.5 920.5l1.4 3.2M578.6 886.1l-2.3 0.4M453.3 582.7l-0.3 1.3M427.8 596.4l-0.5 0.8M574.4 733.7l0.9 0.1M505.7 607.6l0.7 1.5M403.5 624.8l-3.4 2.2M419.8 571.6l2.4 2.9M398 653.8l-0.5 4M644.6 712.6l-2.1 1.8M600.8 614.6l1.1 3.2M598.3 627.5l0.8 0.2M393.1 770.2l0.5 0.9M637.8 832.3l2.9 2.2M657.2 886.3l1.8 0.3M470.5 895l-0.8 0.7M682.1 820.7l-1 1.6M410 770.8l-0.7 2.9M441.5 869l-1.9 2M445.5 612.9l-3.7 2M637.3 882.3l1.4 1.5M639.6 640.5l-3.4 0.5M371.3 686.4l-0.4 3.6M622.4 764.1l0.9 2.8M609.9 893.1l0.5 2M521.2 611.1l-0 0.8M675.8 588.5l-0.3 2.1M612.4 637.6l1.9 1.1M443.8 902.6l0.6 0.4M432.3 584.2l-1 1.8M505.2 695.4l-1 3.1M546.7 616.8l-3.2 1.8M382.4 753.1l1.6 0.2M566.2 740.4l-2.5 1.9M582.8 660.2l-0.4 3M401.7 826.5l-0.5 1.8M579 857.6l-0.8 0.6M522.8 549.4l3.3 0.8M645.7 917l-2.6 3.2M616.2 588.3l-2.1 2.6M477.2 598.1l3 1.2M366.3 840.3l-1.4 1.5M614.5 910.6l0.7 0.3M432.1 692.5l1.8 2M503.9 684.2l0.9 1M459 707.5l-3.3 1.8M649.7 576.6l-0.9 2M420.1 877.6l0.1 0.9M530.1 661.2l-1.3 3.2M603.3 735.6l3.4 2.4M403.3 730.7l1.5 0.5M656.6 870.2l0.3 3M463.7 582.2l1.5 2.4M376.1 809.1l-0.7 0.4M567.6 586.1l-0.9 1.1M641.2 779.2l0.2 3.3M611.7 936.4l1.3 2.1M362.6 741.4l0.1 2.8M539.4 752.6l-3.2 1.3M443.6 794.5l-0.2 1.5M524.2 924.4l0.2 2.2M361.2 569l2.9 2M592.4 695.2l-0.4 4.2M432 601.7l3.9 1.8M625.7 924.7l3.8 0.3M649 924.5l-3.4 0.8M596 637.2l-3.2 2.7M391.5 934.7l3 1.9M479.5 728.2l1.8 0.4M646.8 568.6l-0.8 2.4M460.8 831.5l-0.4 2.3M378.9 702.6l0.2 0.8M593.9 576l-2.7 1.2M650.8 603.8l-3.9 1.3M497.1 815.2l0 0.9M598.7 755.4l-0.4 4.2"/>
<path opacity="0.52" d="M490.7 712.1l-1.6 0.3M398 760.9l0.1 1.8M418.2 818.2l1.8 0.3M470 796.2l2.7 1.1M370.8 739.1l2.8 3.1M631.3 599.8l0.9 1.1M386.5 593.7l-2.6 0.6M439.8 584.5l-0.3 2M477.8 638.9l1.2 3.2M590.3 841l-2.2 1.9M570.9 787.2l2.7 2.8M496.9 569.7l0.1 2.6M441.7 882.1l3.4 0.7M448.5 892.2l-0.4 1M596.1 566.3l-0 3.1M635 773.4l-3.8 0.6M368.6 923.3l-3 1M613.2 690.8l-1.2 2.2M505.1 785.9l0 3.2M491.3 603.6l-2.1 1.8M399.1 590.4l-2.1 2.2M380.2 578.5l-3.5 1.9M425 721.6l-0.5 1.7M396.3 860.5l-1 0.3M578 709.6l1.8 0.2M530.2 745l-1.6 2.3M492.4 908l1.7 3.6M386.4 779.4l-0.9 0.4M663.4 633l0.3 2.9M593.7 811.4l1.9 2.1M674.4 698.1l-1.4 3.1M485.1 817.2l2.2 2.7M507.8 757.5l-1.1 2.9M393 866.6l0.4 0.7M640.6 600.6l0.8 2.5M677.2 687.2l0.3 2.9M607.3 812.8l-2.3 2.6M367.8 883.2l-2.9 2.5M514.8 887.7l3 1.1M681 648.1l-0.2 1.1M654.7 552.2l-1 1M456.5 754.2l2.2 2.4M549.8 653.2l2.1 1.4M469.4 626.2l-1.5 1.6M556.1 695.4l1.1 0.4"/>
<path opacity="0.62" d="M489.7 885l-0.9 3.3M419.8 669.4l2.8 0.3M589.9 688.1l0.7 3.4M427.2 920.6l3 0.1M574 572.2l2.6 0.1M510.8 712.4l2.4 2.3M636.3 742.3l1.1 1.1M384.2 836.5l2.1 2.4M648 752l-2.8 2.4M628.3 830.8l-2.4 3.2M582.3 720.2l0.2 1.7M570 894.4l1 0.1M682 866.6l0.9 3.1M574 744.3l-4.2 0.3M497.6 604.3l3.9 0.2"/>
</g>
<g fill="#ee4444">
<ellipse cx="603.1" cy="558.9" rx="3.5" ry="2.3" opacity="0.32" transform="rotate(58 603.1 558.9)"/>
<ellipse cx="607" cy="558.2" rx="3.2" ry="2.4" opacity="0.32" transform="rotate(98 607 558.2)"/>
<ellipse cx="482.6" cy="614.5" rx="3.5" ry="2.2" opacity="0.56" transform="rotate(44 482.6 614.5)"/>
<ellipse cx="480.9" cy="617.8" rx="3.1" ry="2.3" opacity="0.56" transform="rotate(154 480.9 617.8)"/>
<ellipse cx="597.7" cy="662.2" rx="3.5" ry="2.6" opacity="0.68" transform="rotate(176 597.7 662.2)"/>
<ellipse cx="595.2" cy="660" rx="4" ry="2.8" opacity="0.68" transform="rotate(104 595.2 660)"/>
<ellipse cx="488" cy="665.6" rx="3.2" ry="2.7" opacity="0.28" transform="rotate(91 488 665.6)"/>
<ellipse cx="489.3" cy="667.6" rx="3.6" ry="2.6" opacity="0.28" transform="rotate(24 489.3 667.6)"/>
<ellipse cx="407.2" cy="700.9" rx="4.1" ry="3.2" opacity="0.28" transform="rotate(46 407.2 700.9)"/>
<ellipse cx="407.4" cy="697" rx="3.2" ry="2.8" opacity="0.28" transform="rotate(176 407.4 697)"/>
<ellipse cx="417" cy="725.5" rx="4.6" ry="3.9" opacity="0.56" transform="rotate(77 417 725.5)"/>
<ellipse cx="420.9" cy="726" rx="4.8" ry="4.1" opacity="0.56" transform="rotate(139 420.9 726)"/>
<ellipse cx="420.5" cy="725.7" rx="5.1" ry="3.8" opacity="0.56" transform="rotate(159 420.5 725.7)"/>
<ellipse cx="470.4" cy="749.4" rx="3.5" ry="2.3" opacity="0.56" transform="rotate(24 470.4 749.4)"/>
<ellipse cx="472" cy="746.5" rx="4.3" ry="2.9" opacity="0.56" transform="rotate(167 472 746.5)"/>
<ellipse cx="541.9" cy="741.8" rx="3.7" ry="3.5" opacity="0.48" transform="rotate(132 541.9 741.8)"/>
<ellipse cx="536.1" cy="743.2" rx="4.1" ry="3.7" opacity="0.48" transform="rotate(73 536.1 743.2)"/>
<ellipse cx="536.5" cy="743.9" rx="5" ry="4.3" opacity="0.48" transform="rotate(110 536.5 743.9)"/>
<ellipse cx="478.3" cy="765" rx="3.1" ry="1.9" opacity="0.6" transform="rotate(175 478.3 765)"/>
<ellipse cx="477.1" cy="768.5" rx="3.8" ry="2.4" opacity="0.6" transform="rotate(130 477.1 768.5)"/>
<ellipse cx="376.7" cy="784.7" rx="4.9" ry="4.3" opacity="0.56" transform="rotate(174 376.7 784.7)"/>
<ellipse cx="378.1" cy="783" rx="4.5" ry="3.3" opacity="0.56" transform="rotate(60 378.1 783)"/>
<ellipse cx="377.4" cy="782.4" rx="5.3" ry="4.1" opacity="0.56" transform="rotate(36 377.4 782.4)"/>
<ellipse cx="555.6" cy="796.9" rx="3.7" ry="2.4" opacity="0.64" transform="rotate(172 555.6 796.9)"/>
<ellipse cx="551" cy="796.1" rx="3.9" ry="3.3" opacity="0.64" transform="rotate(48 551 796.1)"/>
<ellipse cx="554.1" cy="809.7" rx="2.6" ry="2.4" opacity="0.44" transform="rotate(135 554.1 809.7)"/>
<ellipse cx="554.7" cy="811.7" rx="2.5" ry="2.3" opacity="0.44" transform="rotate(138 554.7 811.7)"/>
<ellipse cx="661.7" cy="792.2" rx="3.6" ry="3.2" opacity="0.48" transform="rotate(95 661.7 792.2)"/>
<ellipse cx="663.2" cy="794.9" rx="4" ry="2.5" opacity="0.48" transform="rotate(37 663.2 794.9)"/>
<ellipse cx="661.8" cy="791.9" rx="4.3" ry="2.9" opacity="0.48" transform="rotate(56 661.8 791.9)"/>
<ellipse cx="375.9" cy="818.2" rx="4.2" ry="4" opacity="0.52" transform="rotate(177 375.9 818.2)"/>
<ellipse cx="379.3" cy="815" rx="3.7" ry="2.5" opacity="0.52" transform="rotate(45 379.3 815)"/>
<ellipse cx="379.9" cy="816.1" rx="5" ry="4" opacity="0.52" transform="rotate(79 379.9 816.1)"/>
<ellipse cx="617.5" cy="826.7" rx="4.9" ry="4.4" opacity="0.6" transform="rotate(25 617.5 826.7)"/>
<ellipse cx="618.8" cy="831.5" rx="5" ry="3.5" opacity="0.6" transform="rotate(164 618.8 831.5)"/>
<ellipse cx="618.3" cy="826.6" rx="5" ry="3.2" opacity="0.6" transform="rotate(29 618.3 826.6)"/>
<ellipse cx="491.4" cy="842.2" rx="4.2" ry="2.8" opacity="0.52" transform="rotate(70 491.4 842.2)"/>
<ellipse cx="488.7" cy="839.6" rx="3.7" ry="2.3" opacity="0.52" transform="rotate(120 488.7 839.6)"/>
<ellipse cx="488" cy="837.8" rx="4.5" ry="3.2" opacity="0.52" transform="rotate(40 488 837.8)"/>
<ellipse cx="513.8" cy="852.7" rx="3.1" ry="2.6" opacity="0.48" transform="rotate(49 513.8 852.7)"/>
<ellipse cx="511.5" cy="851.5" rx="3.6" ry="2.3" opacity="0.48" transform="rotate(44 511.5 851.5)"/>
<ellipse cx="481.9" cy="921.4" rx="3.2" ry="2.9" opacity="0.6" transform="rotate(159 481.9 921.4)"/>
<ellipse cx="478.4" cy="926.6" rx="4.2" ry="3.1" opacity="0.6" transform="rotate(98 478.4 926.6)"/>
<ellipse cx="625.8" cy="923.6" rx="4.2" ry="3.8" opacity="0.32" transform="rotate(115 625.8 923.6)"/>
<ellipse cx="625.4" cy="923.7" rx="3.9" ry="2.7" opacity="0.32" transform="rotate(165 625.4 923.7)"/>
</g>
</g>
</g>
<text x="373.6" y="586.3" font-size="24.6" font-weight="normal" text-anchor="start" fill="#fff" letter-spacing="0.5">-/- MDA5</text>
<rect x="396.6" y="865" width="85.7" height="2" fill="#f2f2f2"/>
<text x="399.4" y="904.2" font-size="24.4" font-weight="normal" text-anchor="start" fill="#fff" letter-spacing="0.5">140 µm</text>
<clipPath id="cbrig"><rect x="33.3" y="950.4" width="317.3" height="380"/></clipPath>
<rect x="33.3" y="950.4" width="317.3" height="380" fill="#090b0b"/>
<g clip-path="url(#cbrig)">
<g filter="url(#f20)"><rect x="3.3" y="920.4" width="1" height="1" fill="#090b0b"/><rect x="380.6" y="1360.4" width="1" height="1" fill="#090b0b"/>
<g fill="none" stroke="#1a8a8a" stroke-linecap="round" stroke-width="7">
<path opacity="0.26" d="M76.1 1283.3l0.9 0.9M289.4 1271.3l0.2 1.2M94.1 1276.8l-0.5 2.3M221.8 949.7l2.5 0.5M130.6 1095.3l-1.3 0.8M43.2 1150.9l3.1 3.1M70.7 1256.4l0.5 3.2M206.5 996.5l-0.7 0.6M313.2 1004.9l-0.8 1.1M50.6 958.4l-2.5 0.7M352.1 1127.1l-1.2 2.1M150.2 1130.8l3 1.6M89.1 984.1l0.2 3M99.6 1236.8l-0.5 0.9M100.1 965.3l1.1 0.6M167.1 1039.3l-1.1 2.6M208 1298.4l3.4 1.9M59.1 1321.5l-2.6 1.1M337.2 987l0.7 1.1M54.5 1016.3l-0.2 2.2M162.9 1109.2l0.2 3.8M118.2 959l0.7 2.4M47.6 1281.7l-2.1 0.8M227.7 1317.7l-2.5 2.8M177.5 1198.8l0.8 3M232.2 1300.4l-0.3 0.7M160.1 1182.7l-1.8 1M100.4 1043l-1.3 1.4M44.6 1308.7l1.4 3.6M117.4 1084.9l3.2 2.8M46.7 1217.5l2.2 0.1M341 1133.6l2.7 0.5M288.8 1071.5l-1.3 1M312.8 1114.9l3.8 1.6M92.9 958.4l-3.6 1.9M276.3 1197.4l-1.8 0.6M54.9 1081.6l0 3.5M126.2 1198.1l2.8 3.2M110 1244.6l1.8 0.8M310.2 1277.6l1.1 2.7M311.5 1071.5l-2.7 0.4M183.9 1016l1.9 3.1M332.8 1108.8l-4.3 1M101.3 1127.5l0.1 3.3M30.8 1233.1l-2.3 0.6M266.5 1272.3l-0.1 1.3M327.4 1326.7l-1.7 0.8M149.6 1070.4l-0.2 0.8M250.7 1161.9l2.4 1M223.4 1002.6l0.9 1.9M347.8 1007.4l-0.3 0.7M259.7 1042.8l1.6 3M337.4 1274.1l0.4 3.7M78.2 1119.6l3.1 0.6M137.4 1133.8l-1.6 1.3M176.4 1006.8l2.3 3.1M304.1 1302.9l-2.3 3M169.3 1248l-3.5 0.4M42.5 1223.7l-3.2 1.8M340.8 1240.5l-1.7 3.7M38.4 945.2l-0.6 4M193.7 1259.3l3.6 1.3M96.2 1069.9l-1.4 3.1M88.4 973l-0.6 0.5M209.6 1250.2l1.3 2M271 1287.4l-1.8 3.7M58.7 956.5l-1.3 1.3M326.9 1094.9l3.5 0.9M78.2 951.9l1.2 1.6M31.6 1064.7l-2 2.7M149.7 1333.2l-0.9 0.4M207.4 1280.3l2.8 1M67.9 1155.7l-3.3 1.8M174.2 1305.8l3.3 0.2M270.3 1243.4l2.1 0.9M123.7 1295.8l-0.3 1.8M68.4 1215.3l0.7 0.9M100.2 1243.7l-0.7 1.5M243.3 1271.7l-0.7 0.3"/>
<path opacity="0.38" d="M335.3 1255.5l2.4 1M187.2 1235.8l2.7 2.8M85.3 1211.5l-2.2 1M28.3 1332.4l3 2.7M199.6 1300.8l-1.1 0.5M74.3 1150.5l1.4 2M42.2 1263.4l1.7 2.5M332.9 1259.7l-1.4 3M300.7 1209.9l-3.8 0.6M224.3 969.4l1.8 2.2M163.7 1261.5l1.7 0.7M173.4 1107l3.4 0.5M257 1255.3l-2 3.8M318.3 982.2l-2.8 0.7M106.3 1111.5l0.3 2.9M44.3 1081l-0.2 0.8M270.3 1124.2l-1.3 1.9M245 1138.8l-0.4 2.3M248 1259.3l-1.1 1.6M228.5 1029.8l-1.6 0.7M247.6 950.9l-0.6 4.3M124.1 1212.5l0.6 2M219.1 959.5l2.4 2M159.5 1250.2l-0.9 1.1M62.1 1099.1l0.3 0.7M271.7 1142.1l-1.1 0.8M283.6 1298.7l-3 2.9M182.5 1221.9l-2.3 0.7M243.4 1237.3l-1 1M190.2 1330.2l1.6 0M337.4 1217.9l-0.9 3M164.3 1156.6l-2.4 0.3M72.9 1331.9l-0.6 0.7M263.7 1035l1.8 3M230 1286.9l3.1 1.4M250 978.5l2.6 2.2M212.8 1201.4l0.9 3.6M139 955.7l3 0.7M53.9 966.1l1.1 2M187.4 1006.2l0.9 3.8M250.3 1101.3l1.1 2.2M303.9 1284.8l1.5 2.2M98.3 1206.4l0.7 2.1M153.7 1164.4l1.3 0.5M322.2 1123.4l-2.7 1.3M237.5 1077.4l0.1 1.5M291.7 963l-2.8 2M80.3 963.6l-2.4 3.6M244.4 1035.1l-4 1M59.8 1144.1l-0.7 1.7M122.8 1285.9l-2.6 2.5M62.5 1023.9l2.8 1.6M201.1 1119.4l-2.6 0.5M119.4 970.2l1.7 1.6M47.9 1302.6l-0.5 2.5M52.5 1248.8l1.2 1.8M327 1275l-1.5 0.4M140.4 1097.9l0.2 2.4M313.8 1217.6l-1.6 2.8M76.2 1057.8l2.1 1.3M267.8 1073.2l-2.9 1.4M260 1066.3l-0.1 4.1M301.8 1000.5l-0.9 1M161.9 951l0.3 3.8M191 1031l-0.5 3.2M46.2 1047.3l-0.8 1.2M257 981.8l2.9 2.2M244.3 1169.4l3.2 0.2M334.7 949.8l-0.9 2.1M99.7 1265.4l-3.8 0.9M120.9 1149.4l0.7 0.8M296.5 1278.8l1.3 2.8M53.6 1285.3l-0.3 1.9M261.8 1153l1.9 0.9M215 1222.3l-0.9 0.6M48.1 1072.6l3.3 0M53.3 1265.5l0.6 4M123.7 1037.6l0.3 1.6M147.8 1247.4l-1.2 0.3M197.8 1234.4l3.5 0.5M257.1 1017.7l2.4 2.2M153.3 1281l-2.2 0M285.1 1011.7l3 3.1M346.5 1275.5l0.9 0.3M295.9 1331.4l-2.4 3.1M133.5 1087.7l1.6 0.3M216 1305.6l2.3 1.3M172.9 1289l0.3 1.1M144.2 968.2l2.8 1.7"/>
<path opacity="0.49" d="M251.3 1276.4l1.9 1.7M128.7 993.4l2 1.2M111.3 1121.8l2.3 2.3M67.3 1031.6l-0.3 2.4M120.3 1178.4l-2.6 0.2M302.5 1221.3l-1.8 3.2M117.3 1247.8l1.2 1.3M188.7 1047l0.2 0.9M256.4 1110.8l0.4 1.2M238.4 1183l-2.8 1.6M97.5 1308.9l3.2 0.2M48 1185.1l-2.5 2.8M168.1 1218.9l0.1 1.5M161.6 1023.8l4.3 0.8M288.4 1235.3l-0.8 1M282.7 1206.4l-3.4 1.3M163.7 1144.8l1.4 2.3M172.7 1058.4l0.3 1M112.7 1297.8l2.9 0.2M313.3 1148.1l-1.2 2.6M336.7 1052l-2.1 2.3M245.8 1201.3l1.1 3.7M346.7 1063.4l0.1 2.3M328.2 1081l-0.9 0M235.8 1085.8l-1.1 0.1M326.7 1012.5l-0.7 0.8M29.7 1262.3l3.8 1M211 1330.3l0.8 0.4M332.4 1284.4l-0.7 0.7M201 1104.3l1.4 2.9M85.2 1274.8l-1.4 1.7M331.6 1035.1l-1.2 0.3M272.7 1331.9l1.6 1M273.3 950.9l2 3.6M252.4 1184.5l-0.7 2M353.7 1299.6l1.6 2M149 1047.2l-2 0.6M207 951.9l-1.7 0.4M272 1100.7l-1.1 3.3M352.1 1078.2l-1.2 1.4M311.7 1209.2l-0.7 0.5M75.7 1019.7l-1.5 2.7M228.4 987.4l0.7 2.4M353.9 1177.1l-1.5 1.8M91.3 1199.1l2.9 1.8M87.6 1025.8l-3 2.2M199.8 1178.5l-0.4 0.6M39.3 1093.2l-3.5 1.7M330.5 1300.6l-1.8 2.4M347.9 1094.5l2 1.3M298 1245.1l-1.1 3.4M214.8 1052.9l-0.2 0.8M354 1030.6l-3.9 0.2M239.4 986.4l-0.9 0.1M332 998.1l-2.5 3.3M88.2 1042l-2.6 3.4M66.3 1311.6l-2.8 2.4M209.3 1177.2l0.2 1M196.1 950.1l-1 0.3M349.4 956.5l0.3 2.8M354.5 1164l-1.5 1.4M82.5 1329.6l0.8 1.7M120.4 1124.3l0.5 2M86.5 1289.9l-0.1 2.1M185.8 1312.6l-0.6 1.8M177 1264.7l1 0.1M177.3 1051l-1.1 1.3M121.2 944.3l-2.7 3.2M283.9 1225.2l-0.3 1.2M36 1319l0.9 2.7M69.5 1234.3l-0.2 3.4M340.9 1113.2l-2.9 0.7M112.2 1048.3l-0.8 0.4M94.2 1215.6l-3.1 2.9M219 978.7l2.7 1.9M44.2 978.9l3.7 1.8M54.3 1176.2l1.1 3.2M242.1 1213.5l-1.8 0.7M193.6 1112.1l-0.1 0.8M185.5 948.2l0.6 2.5"/>
<path opacity="0.6" d="M210.5 1112.7l1.5 0.8M163 1279.9l0.7 1.2M32.9 1076.8l-1.5 1.9M50.5 1096.8l-0.8 0.2M46 1037.9l-0.8 0.6M264.1 1183.3l1.2 3.2M254.4 1317.1l0.4 3.6M254.2 1051.9l2.6 2M237.9 951.5l-3.7 0M33.1 1162.6l2.2 0.2M286.2 1101.8l-1.9 1.3M155.2 1171.2l3.1 3.1M340.1 1185.7l3.6 1.5M271.9 1258.4l-0.2 1.2M30.4 1012.1l2.8 2.4M147.8 1141.4l1 1.7M289.3 1316.9l0.3 2M343.6 1015.4l-0 2.3M46 968.2l-1.4 2M303.6 1058.2l0 2.9M108.1 1192.4l-2 3.9M87.8 1244.6l-3.1 0.8M180.9 1240.9l-2 2.6M321.9 966.8l-1.8 3.4M244.1 1249.5l-2.6 1.9M68.2 1246.6l1.2 0.2M280 1170.1l1.3 1.5M220.1 1010.5l-3 2.3M349.8 967.7l-0.7 2.3M220.6 1110.3l3 0.1M108.4 1218.7l-0.5 1.6M153.6 1259.2l-2.5 1.9M57.5 977.7l0.6 0.9"/>
<path opacity="0.71" d="M75.7 1035.9l0.3 0.7M75.3 1322l-1.6 2.3M293.5 1138.1l0.8 4.1M283.8 1326.3l-1.8 3.5M99.9 1008.8l-2.4 3.2M257.8 1170.3l-0.9 2.4M110 989.1l-2.9 2.5M263.4 1319.6l0.9 0.5M155.9 1078.1l1 1.6M49.8 1232.8l-1.5 0M105.7 1096.9l0.4 2.7M349.4 1169.2l-2.6 0.9M355.9 1136.1l-2.1 2.2M191.5 1123.6l0.2 0.9"/>
</g>
<g fill="none" stroke="#1a8a8a" stroke-linecap="round" stroke-width="8.6">
<path opacity="0.26" d="M113.9 1212.6l-1.2 1M32.2 1053.5l3.1 0.2M116.6 1276.3l-3.1 0.9M314.3 1256.5l1 3.4M154.7 1224.2l-3.3 2.1M215.9 1175.6l1.7 1.8M187.3 1179.1l-2.3 3.3M111.4 1151.8l-2.8 1.3M63.8 1298.6l0.4 1.6M224.5 1044.7l-2.2 1.5M210.8 1288.3l0.4 0.9M241.9 1221.2l-1 1.7M36.2 1250.1l3.4 2.2M280.1 1276.8l-3.9 1.8M160 1085.4l-0.3 4.2M230 1190.5l1.5 0.9M146.9 1169.2l-2.9 1.7M302.2 1318.9l1.8 2.5M104.9 975.2l0.9 0.3M240.7 968.8l1.9 0.5M325.1 1211.2l0.7 2.8M256.6 1149.4l-3.6 0.4M226.8 1015l-0.4 1.3M211.5 1138.1l0.6 2.2M293.9 991.7l0.3 0.8M119.9 1189.1l-1.5 3.4M69 969.6l1.5 1.7M279.5 1266.4l-0.1 0.8M87.3 1305.5l0.8 3.2M91.2 1325.6l1.2 3.8M212.6 1034.2l-0.7 2.9M130 1041.6l3.7 1.9M304.1 947.8l1.6 2.4M165.3 1131.6l3.8 0.7M298.2 1086.7l-0.9 1.2M171.7 1276.3l-1.2 1.3M292.3 1018.7l-0.6 0.8M207.5 1168l-1.8 2.6M176.3 1313.7l3.4 2.5M252.6 1298.5l-0.3 2.8M307.4 971.4l1.2 1.1M248 1230.6l1.4 1.5M120.7 1104.2l1.2 2.5M35 973.7l2.5 2.6M308.3 1012.6l1.9 2.4M204.9 1091.2l0.5 1.8M52.9 1328.1l-0.1 2.1M234.2 1197.6l0.9 1M235.9 1102.5l-0.5 0.6M200.8 1213.2l-0.5 0.5M37.6 1168.2l0.6 3M208.4 1007l-1.9 1.1M120 1139l-0.5 4.1M301.8 1155.7l-1.1 0.2M68.8 1193.4l-0.7 0.3M321.3 1283.3l-3.5 1.7M127.7 1015.2l-2.2 0.4M54.5 1158.2l2.6 0.9M43.3 1128.7l-0.8 4.3M105.1 1254.4l1.4 2.4M233.1 1154.3l2.1 2M303.6 1022l0.8 0.7"/>
<path opacity="0.38" d="M210.1 1233.7l2.8 1.2M171.3 1016.2l0.8 1M239.8 1008l-2.8 0.7M208.5 1157.7l2.5 3.1M39.4 1137.5l2.4 3.5M282 1022.3l-1.3 0.7M172.1 998.8l0.8 1.3M136.7 1291.9l-2.4 1.3M126.8 979.4l-1 0.8M355.7 1256.3l-2.3 3M349.1 1240.1l1.4 0.7M316.7 1137.9l1.5 0.4M252.9 1090.7l0.9 0.2M123.3 1023.5l1.8 1.6M37.7 1215.3l-0.5 0.9M105.3 1077.3l1.8 0.4M149.3 945.4l-1.1 2.2M145.6 1236l2.1 1.9M270.4 986.1l1 1M289.5 1175.8l-1.1 2.6M265.8 1232.9l-2.1 3.1M318.6 1163l1 1.4M210.1 1017.8l-1.3 2.8M332.3 1145l-2.5 0.3M192.9 968.4l2.6 2.4M262.5 953.6l-0.1 1.5M242.9 1291l1 3.7M337.6 1005.9l3.9 1.7M155.3 963.5l-1.8 1.6M270.7 1112.2l0.4 2.8M335.5 1321.7l1.8 1.2M184.4 973.9l-1.5 2.8M175.6 1088.8l-4.3 0.8M92 1055.2l0.2 0.8M152.7 1058.7l0.1 1.4M141.6 1280.8l-3.3 2.2M61.1 1169.4l-2.8 1.3M137.5 1156.3l-2.9 2.5M123.1 1060.7l1.7 3.4M77.1 986l0.8 1.6M59.1 1189l-3.7 0.9M253.5 1210.6l2 0.5M69.4 1180.6l2.1 0.7M36.3 1180.9l-0.5 0.9M99.6 1099.6l-1.2 0.4M185.4 1266.9l0.8 0.3M176.5 1252.4l1 0.1M211.6 1316.3l0.1 1.5M157.5 995.8l0 4.1M303.2 1092.1l-0.3 0.8M79.7 1258.1l4.1 0.6M280.8 987.5l0.7 0.5M201.4 1285.2l1 0.6M171.8 1210.4l-1.4 0.6M167.7 1233.7l2.4 2.3M126 1052.9l-0.4 1.3M191.8 985.6l-1 0.6M281.4 1242.9l-2.2 0.8M106.7 1282.8l-2.6 1.6M225.2 1261.6l2.4 1.5M131.3 1190.1l1.4 2.6M174.3 1071.7l1.3 0.8M115.4 981.8l0.7 1.3M311.4 962.2l0.7 1.2M318.6 1058.6l1.2 0.4M155.9 1211.7l0.2 2.4M33.6 1306l0.7 0.3M83.5 1104l0.8 0.8M250.2 1017.1l-2.6 0.7M307.5 1138.6l0.1 2.5M90.9 947l-2.3 1.4M309 1164.7l2.9 0.5M349.1 1084.4l-4.4 0.3M283.7 1045.6l1.5 0.7M150.4 1308.9l0.1 1.4M127.6 958.5l1 0.8M157 1233.8l1 0.5M183.9 1132.4l3.3 1.1M187.5 1067.2l3.5 0M58.7 1217.9l-2.4 1.9M66.8 1051.8l-1 0.7M161.1 1054.6l2.2 0M101 981.9l-2.1 0.2M326.7 983.3l-0.3 1M137.5 1242.6l0.5 0.6M91.7 1234.7l-2.4 0.3M143.5 1080.5l1.5 3.6M234.6 1131.7l-2.1 3.1M154.6 1016.7l-0.7 2.8M292.8 1112.3l-1.8 0.6M283.2 1253.8l1.3 2.5M325.7 1192.2l-1.6 0.3M118.2 1232.3l0.6 1.3M314.6 1264.3l-2 1.3M82.1 997.6l1.2 0.5M334.3 1198l-2.4 1M204.3 965.9l0.1 1.3M237.5 1227.8l-2.2 1.3M200.8 1157l1.1 0.7M265.4 1191.7l-0.3 1.4M348.6 1251.7l1.4 2.3M225.3 1304.6l-1.4 1.4M102.9 1102.6l0.5 2.5M216.4 1187.3l3.4 1.5M118.4 1167l-4.3 0.7M246.9 1191.3l-1 1.2M60.9 1259.1l-1.1 0.2M88.8 1063.3l-1.3 1.1M270.9 1299.7l2.5 0.7M278.8 1126.4l-2.3 2.2M64.1 1127.7l-1.7 3.8M116.5 1320.6l0.8 0.6M29.6 1244.1l0.1 1.2M37.5 1108l-1.5 2.3M97.3 1116.4l0.2 1.2M187.1 1302.3l-0.8 0.9M50.5 1138.3l0.8 1.5"/>
<path opacity="0.49" d="M293.4 1259.5l1.7 1.7M196.7 1131.2l2.3 1.8M246 1058.3l0 3.3M222.3 1084.4l-0.1 2.8M55.7 1240l0.8 0.7M95.5 1224.7l3.9 1.3M242.9 1307l1.5 0.5M174.6 1167.4l-2.3 1.9M229.6 1268.1l-1.4 3.2M182.3 1291.9l-2.4 3.2M274.8 1077.9l1 2.3M333.8 1118.9l-1.7 2.5M54.9 1029.5l-0.9 1.3M201.9 1149.5l-4 0.4M234.4 1309.6l-0.6 0.4M222.5 1164l2.7 0.2M283.7 1117.6l-1.6 2.4M166.8 962.6l1 0.4M311.2 1126.8l-1.1 0.3M212.8 966.8l-3.5 0.8M148.6 1187.4l1.9 0.5M314.5 1175l-3.9 1.1M163.1 1065.6l0.6 3.9M85.3 1139.7l2.1 2.4M220.1 1094.8l-1.3 0.7M124.6 1072.7l-0.5 2.4M183 1116.5l1.5 1.7M173 1161l-2.2 0M255.5 959.6l1.5 1.4M277.9 1309.3l-2.6 2M316.8 1232.9l0.2 0.8M240.1 1158.8l1.5 1.2M343.1 1158.5l0.2 3.5M93.5 996.4l1.7 3.5M321.4 1293.3l-1.4 0.8M146.9 1089.5l-2.4 3.4M305.6 1193.3l0.9 2.8M184.8 956.3l3.2 1.6M95.6 1255.6l-0.6 2.9M52.4 1065.8l-1.1 0.5M178 1188.5l-1.4 0.1M348.6 1053.1l0.3 4.2M323.4 1180.7l1.6 0.7M102.5 1085.3l-2.7 1.3M248.5 994.4l-0.4 2.6M152.6 1195.9l0.4 1.5M78.9 1174.4l0.7 2.2M349.3 945.2l-2.5 3.1M259.9 1266.5l-0.9 0.2M274.9 1184.9l0.3 2.8M140.6 1321.6l0.1 0.9M304 1252.9l-0.4 2.7M275.4 1061.8l0.4 0.7M127.2 1003.3l0.9 1.3M91 1111.9l-2.4 0.8M166.8 1077.1l1.5 2.2M135.3 1074.4l2.7 3M83.9 1152.8l2 2.2M236.5 1119.9l-0.9 2.8M68.3 1166.6l2.5 1.5M47.6 947.1l1.6 2.6M279.2 1095l-3 1M217.9 1028.3l2.2 0.1M323.1 1223.5l2.6 1.1M114.3 1066.7l2.1 1.1M119.2 1203.4l0.1 1.1M148.9 1155l-2.5 0.9M272 1042.2l2.5 0M229.6 1177.4l-2.7 0.3M149.8 1000.4l2.6 2.1M126.7 1131.3l1.7 0.3M80.8 1131.6l-1.5 3.4M110 1180.6l-0.4 3.5"/>
<path opacity="0.6" d="M125.3 1115.8l-3.6 0.5M104.8 1038l0 1.2M337.8 1099.2l2 0.4M307.9 1105.6l-2.4 1.2M339.7 953.8l-0.5 1.1M289.4 1194.9l-1.1 1M170.5 971.1l2.1 2.6M241.8 1279l-0.7 1.6M135 1329.6l2.3 1.8M294 1129.3l1.4 1.8M142 995l0.2 1.7M287.9 1310.3l1.6 2.4M48.8 1058.2l-3.5 0.3M233.7 996.5l0.2 4.3M256.5 1128.7l0.7 0.2M175.7 1143.6l-2.2 2.6M319.8 1197.9l2.3 2.4M239.1 1145.2l0.8 1.9M331.3 1186.8l3.7 2.1M62.5 1120.5l0.8 0.5M137.5 1266.4l-1.2 1.2M122.5 1273.6l1.3 1.5M217 1001.4l-0.2 2.9M289.7 1213.8l-0.3 0.9M232.7 1240.7l-1.9 1.9M178.4 1231.9l-1.5 0.6M195.2 956.6l-1.1 2.3M191.7 1021.7l-1 1.3M98.1 1322.1l4 1.6M259.2 1333l-1.1 0.5M206.5 1307.5l-0.1 2.4M353.4 1151.5l-0.3 1.4"/>
<path opacity="0.71" d="M206 1028.4l-4 0.4M227.6 1101.6l1.1 0.6M226 1225.8l-3.3 2.7M128.5 1169.5l2.2 2.6M41.5 985.3l-2.9 2.5M223.7 1137l-1.3 1.8M67.6 1268.3l-3.8 2.1M228.6 1328.5l-3.3 1M354.9 989l-0.7 2.2M277.5 1030.8l0.9 0.5M136.8 1178.9l-1.7 0.8"/>
</g>
<g fill="#ee4444">
<ellipse cx="185.4" cy="968.7" rx="4.4" ry="2.6" opacity="0.64" transform="rotate(24 185.4 968.7)"/>
<ellipse cx="189.8" cy="968" rx="4.1" ry="3.8" opacity="0.64" transform="rotate(0 189.8 968)"/>
<ellipse cx="187.6" cy="968.2" rx="4.8" ry="3.4" opacity="0.64" transform="rotate(4 187.6 968.2)"/>
<ellipse cx="237.5" cy="970.3" rx="3.5" ry="2.7" opacity="0.24" transform="rotate(178 237.5 970.3)"/>
<ellipse cx="237.1" cy="970.7" rx="2.7" ry="2.3" opacity="0.24" transform="rotate(140 237.1 970.7)"/>
<ellipse cx="324.5" cy="956.3" rx="3.5" ry="3.2" opacity="0.48" transform="rotate(5 324.5 956.3)"/>
<ellipse cx="323.8" cy="955.8" rx="3.2" ry="2.1" opacity="0.48" transform="rotate(51 323.8 955.8)"/>
<ellipse cx="181.5" cy="1018.5" rx="4.9" ry="3.4" opacity="0.6" transform="rotate(19 181.5 1018.5)"/>
<ellipse cx="180.7" cy="1018.4" rx="3.8" ry="2.3" opacity="0.6" transform="rotate(128 180.7 1018.4)"/>
<ellipse cx="181.3" cy="1018.7" rx="4.5" ry="2.9" opacity="0.6" transform="rotate(142 181.3 1018.7)"/>
<ellipse cx="297.4" cy="1029.9" rx="3.8" ry="2.5" opacity="0.72" transform="rotate(37 297.4 1029.9)"/>
<ellipse cx="297.1" cy="1030.5" rx="4.6" ry="3.8" opacity="0.72" transform="rotate(178 297.1 1030.5)"/>
<ellipse cx="298.5" cy="1029.6" rx="4" ry="3.3" opacity="0.72" transform="rotate(11 298.5 1029.6)"/>
<ellipse cx="328.2" cy="1035.5" rx="4.2" ry="2.9" opacity="0.44" transform="rotate(105 328.2 1035.5)"/>
<ellipse cx="326.7" cy="1034.5" rx="4.1" ry="3.3" opacity="0.44" transform="rotate(76 326.7 1034.5)"/>
<ellipse cx="316.6" cy="1081.6" rx="4.2" ry="3.5" opacity="0.56" transform="rotate(99 316.6 1081.6)"/>
<ellipse cx="317" cy="1080.5" rx="4.7" ry="4.4" opacity="0.56" transform="rotate(8 317 1080.5)"/>
<ellipse cx="319" cy="1081" rx="4" ry="2.5" opacity="0.56" transform="rotate(171 319 1081)"/>
<ellipse cx="50.7" cy="1079.7" rx="2.9" ry="2.6" opacity="0.56" transform="rotate(45 50.7 1079.7)"/>
<ellipse cx="52.8" cy="1076.1" rx="3.7" ry="3.1" opacity="0.56" transform="rotate(117 52.8 1076.1)"/>
<ellipse cx="174.4" cy="1134.8" rx="4" ry="3.8" opacity="0.72" transform="rotate(122 174.4 1134.8)"/>
<ellipse cx="170.6" cy="1135.9" rx="4.7" ry="3.8" opacity="0.72" transform="rotate(135 170.6 1135.9)"/>
<ellipse cx="173.5" cy="1136.5" rx="3.9" ry="2.5" opacity="0.72" transform="rotate(140 173.5 1136.5)"/>
<ellipse cx="262.3" cy="1162" rx="4.6" ry="4.3" opacity="0.68" transform="rotate(8 262.3 1162)"/>
<ellipse cx="268.8" cy="1164.4" rx="4.5" ry="3.1" opacity="0.68" transform="rotate(151 268.8 1164.4)"/>
<ellipse cx="267.6" cy="1165.2" rx="4.4" ry="4.1" opacity="0.68" transform="rotate(113 267.6 1165.2)"/>
<ellipse cx="145" cy="1172.6" rx="3.3" ry="2.6" opacity="0.24" transform="rotate(107 145 1172.6)"/>
<ellipse cx="142.6" cy="1169.6" rx="2.9" ry="2" opacity="0.24" transform="rotate(56 142.6 1169.6)"/>
<ellipse cx="155.6" cy="1194.8" rx="3.3" ry="2.1" opacity="0.68" transform="rotate(16 155.6 1194.8)"/>
<ellipse cx="152.4" cy="1195.7" rx="4.3" ry="3.1" opacity="0.68" transform="rotate(55 152.4 1195.7)"/>
<ellipse cx="310.1" cy="1237.7" rx="4.4" ry="3.8" opacity="0.64" transform="rotate(56 310.1 1237.7)"/>
<ellipse cx="307.5" cy="1232.3" rx="4.4" ry="3.7" opacity="0.64" transform="rotate(45 307.5 1232.3)"/>
<ellipse cx="307.6" cy="1233.5" rx="4.8" ry="3.1" opacity="0.64" transform="rotate(174 307.6 1233.5)"/>
<ellipse cx="125.1" cy="1184.9" rx="3.6" ry="3.1" opacity="0.25" transform="rotate(179 125.1 1184.9)"/>
</g>
<ellipse cx="327" cy="1065" rx="4.1" ry="3.3" fill="#30d8d8" opacity="0.6"/>
<ellipse cx="278.7" cy="1045.9" rx="3.8" ry="3" fill="#30d8d8" opacity="0.55"/>
<ellipse cx="75.3" cy="1160" rx="3.5" ry="2.8" fill="#30d8d8" opacity="0.5"/>
<ellipse cx="207" cy="1163" rx="3.2" ry="2.6" fill="#30d8d8" opacity="0.5"/>
</g>
</g>
<text x="50.2" y="985.6" font-size="24.6" font-weight="normal" text-anchor="start" fill="#fff" letter-spacing="0.5">-/- RIG-I</text>
<rect x="63.6" y="1269.3" width="85.8" height="2" fill="#f2f2f2"/>
<text x="67.3" y="1301.2" font-size="24.4" font-weight="normal" text-anchor="start" fill="#fff" letter-spacing="0.5">140 µm</text>
<clipPath id="cbmav"><rect x="367.9" y="951.5" width="311.2" height="381.1"/></clipPath>
<rect x="367.9" y="951.5" width="311.2" height="381.1" fill="#090b0b"/>
<g clip-path="url(#cbmav)">
<g filter="url(#f20)"><rect x="337.9" y="921.5" width="1" height="1" fill="#090b0b"/><rect x="709.1" y="1362.6" width="1" height="1" fill="#090b0b"/>
<g fill="none" stroke="#1a8a8a" stroke-linecap="round" stroke-width="7.2">
<path opacity="0.26" d="M649.8 1085.9l-1.6 0.5M434.4 1006.9l-1.1 0.3M378 1104.4l1.5 3.2M437.9 1048.1l0.5 2.6M453.1 1296.7l-1.5 3.7M485.3 1319.9l-2.7 1.3M477 1265.3l2.5 0.6M608.8 1243.1l-2 1M386.9 1268.7l1.9 0.9M626.5 1041.3l-1.9 1M622.3 946.8l0.9 1.5M524.6 1170.8l0.8 2M592.1 1124.2l2.8 1.4M458.3 1140.7l-4.1 1.2M369.8 972.8l0.9 2.1M458.5 1162.3l1.3 1.9M454.9 1071.2l-0.3 1.7M376.8 1165.7l-1.3 0.5M413.6 1247.4l0.9 2.4M420.5 1057.6l2.2 0.7M465.7 1301.9l0.8 0.5M555.9 1260.1l-1.8 3.2M539.5 1142.5l-0.4 2.7M536.7 1257.4l-0.3 1.1M524.2 1137.5l0.5 0.8M437.2 1148.4l-0.1 2.8M473.7 951.2l3.3 2.4M387.5 1150.2l1.2 1.6M585.7 1305.8l-4.3 0.8M655.4 1105.7l-1.7 2.3M440.3 1014l2.9 0.6M381.3 984.1l2.4 3.3M538.7 1267.4l1.3 2.1M560.4 1241.7l0.5 4.4M504.1 1090.7l0.8 2.8M636.7 1225l-0.2 2.2M572.3 1018.8l0.3 2M405.5 1055.9l-0.9 1.4M430.7 1059.6l-0.2 0.8M609.5 1270.2l-1 0.9M552 1072.2l3.2 0.2M524.6 1127.8l0.5 3.7M581.5 1205.9l0.9 0.4M602.4 1060.1l2.4 1.6M559.2 993.4l-1.5 3.6M542.9 982.6l0.8 3.3M563.4 1234.6l2.3 0.7M562.7 1065.8l2.8 3.3M652 1291.2l0.8 1.5M387.8 1176.5l0.4 1M407 997.8l2 3M597.4 973l2.7 2.8M384.3 1250.7l-3.3 2.7M502.9 1078.7l1.8 2.6M651.1 1074.8l2.9 2M469.8 1208.2l-0.3 3.9M455.4 1224.6l0.8 2.6M482.9 982.5l-0.4 1.6M441.6 964.6l-1.2 0.4M497.2 1256.6l1.7 2.4M557.7 1295.2l3 2.9M505.2 1102.1l1.2 2M658.3 1162l-0.2 1.5M446 1139l0.8 0.9M521.7 1227.6l-1 4.1M634.7 1319.5l0.8 0.7M677.9 1155.4l-0.8 0.4M630.3 1260.1l-0.1 0.8M366.8 1051.2l1.5 2.3M464.1 1147.1l2.2 2.6M642 1083.4l-2.1 0.9M369.1 1290.1l2 1.9M608.4 1253.7l-1.4 0M419.3 1115.3l1.3 1"/>
<path opacity="0.38" d="M489.7 1245.5l0.6 3.4M584.2 989.4l-2 1.2M625.5 985.1l1.2 0.5M564.8 1128.5l0.5 1M640.3 1049.8l0.8 0.1M500.2 997.5l0.7 0.8M441.8 1211.6l2.6 1.1M680 1037.7l-0.8 2.1M664.8 1260.2l3.6 1.7M540 958.6l1.1 0.6M602.4 1192.3l-0.6 1M474.5 1139.6l-0.8 1.7M553 1027.3l-2.8 3.2M393.4 1236.3l-4.2 1M437.7 1295.6l-1.2 3.6M528.2 1301.6l-3.7 0.8M495.9 1061.6l2.6 2.1M640.5 987.4l-0.3 1M581.4 1250.7l-0.4 1.4M515.7 965.5l-2.7 2.3M579.8 1075.8l-0.8 0.6M532.8 1068.3l2 2.6M615.8 1304l0.1 2.3M394.4 1321.5l0.1 2.2M385.2 1321.2l-1.3 3.6M549.9 975.1l0.3 3.4M406.5 1303.7l-0.7 1.2M530.4 997.2l2.6 0.9M450.3 1083.3l-0.2 4.3M616.8 1256.3l0.3 1.1M399.7 1189.3l-1.9 0.2M593.3 1216.8l-2.2 3.5M429.4 1301.4l-3.3 0.6M478.7 1191.1l-1.3 2.5M397.4 1065.9l-0.8 1.6M677.7 1007.2l0.6 1M565.6 1093.3l1.9 0.5M409.7 951.5l2.4 3.5M571.4 1048.8l-3.4 1.2M678 1224.6l-1.7 2.3M636.5 1304.6l-2.9 1.2M444.2 952l-0.8 1.8M661.5 1194.2l-1.4 3.6M611.7 1179.1l0.8 0M646.5 1071.9l-2 0.8M652.2 1212.6l-1 2.2M503.2 1115.2l1.6 0M657.8 1093.8l-0.1 1.2M411 1290.4l3.4 1.1M593.8 1297.1l1.3 2.6M581.5 1262l-1 4M602.8 1172.4l-0.4 1M424.9 1324.5l-0.8 1.4M646.5 1176.7l3 3.3M680.8 1164.9l0.5 0.6M653.8 953.5l2.1 0.6M382.7 1298.1l0.8 1.2M669.8 1022.3l0.8 1M605.6 998.8l1.7 2.1M628.5 1233.4l0.4 0.9M683.6 978.2l-2.1 0.8M365.2 1322l-0.2 1.5M528.4 954.6l-2.5 1M383.3 1311.2l0 2.7M569.2 1184.8l0.6 3.2M466.2 1134.6l1.4 1.3M423.8 949.3l2.6 2.6M536.5 1188.4l-2.4 0.3M420.3 993.6l-3.3 1.9M377.2 949.9l-0.4 0.9M378.6 1334.4l1 0.6M405.6 960l0.8 1.2M476.9 1334.5l-2.8 0.1M392.6 1103l-1.1 0.2M564.3 1215.8l-2.2 0.2M520 1264.9l-1.1 2.8M594.1 1148.4l1.6 3.9M418 1298.1l0.7 2.7M548.8 1199.7l-0.9 3.6M479.5 1106.4l2.8 2M468.3 1060.1l0.9 1.5M471.2 1290.3l0.3 1.1M443.4 1108.3l-3.5 0.1M443.9 1276l2.7 3M449 1239.3l-2.5 0M552.1 1062.4l2.1 1.8M544.8 1152.2l-2.8 2.2M665.7 1270.4l0.7 0.1M645.6 1220.4l-0.5 2.9"/>
<path opacity="0.49" d="M453.6 958l3.6 2.4M459.7 1022.5l0.9 1.6M426.1 1037.2l0.6 1.9M645.6 1269.8l-2.3 1.7M505.5 1249.8l0.7 3M459.8 1325.5l1.6 1.9M502.5 1297.5l1.6 0.2M499.2 1212.7l-2.7 1.5M428.7 961.2l-0.1 2M489.8 1151.1l-2.9 0.5M500.1 1036l2.7 0.5M506.5 1225.1l3.1 0.9M566.7 1328.9l3.4 0.6M494.2 1287.5l1 3.3M621.8 1189.1l0.6 1.5M626.5 1320.8l-2.7 1.9M407.4 1164l-2.4 0.8M583.6 1009.2l-2.9 1.6M536.1 1132.5l2.2 0.5M673 1127.9l-3.6 1.7M598.1 1114.7l0.8 3.7M663.7 1329.2l3.2 1.7M429.1 1102.6l2.5 0.9M591.1 1135.1l0.2 0.8M514.1 1269.6l-3 0.5M381.9 1190.1l1.4 2M587.2 1238.9l0.9 0.1M607.5 1315.9l-0.6 1.7M544.9 1005.6l2.9 2.3M471 1010.8l-2.3 2.3M620.2 1225l3.2 2.8M379.1 1032.4l-3.4 2.6M651.9 1115.5l1.7 0.3M527.2 1036.3l1 2.1M378 1234.4l3.6 2.1M371 1094.4l-1.5 0.7M629.7 1292l0.4 1.4M471.3 1219l1.4 0.9M552 1324.2l-4 0M413.5 1075.1l0.5 3.6M641.8 946.5l-1.9 2.2M612.7 1165.3l1.6 1M624.5 1248.8l2 3.2M631.4 1123.9l1.8 3.7M532.1 1047.9l1.4 0.5M459.7 1090.9l0.8 0.3M623.6 1166.4l1 1.5M431.6 1175.3l2.2 1M610 1025.5l-1.6 0.5M391.3 1204.6l2.8 2.9M414.6 1232.2l-1.3 2.2M671.4 1302.5l-0.4 0.8M507.8 1180.4l-1.9 0M535.4 951.2l-1.5 2M436 945.6l-2.4 2.9M628.1 1091.1l-2.2 3.3M603.6 1049.4l-0.7 0.9M570.9 1224.1l-2.1 0.4M628.7 1010.7l-1 0.2"/>
<path opacity="0.6" d="M548.6 1256.2l0.5 2.3M397.3 1130.9l1.7 1.7M460.9 995.8l-1 0.1M468.4 1153.9l-0.7 1.2M459.6 1283.7l2.2 1.9M575.7 1118.9l-2.4 1.4M631.9 1186.8l1.6 0.4M490.2 1315.9l-1.4 0M553.2 1141.9l-0.3 4M505.2 1281.8l-1.7 0.2M468.6 1276.6l-0.2 3.8M423.3 1045.9l-2.4 0.7M411.9 1113.1l0.2 4.1M583.1 1178.5l-0.6 1.7M559.4 1334.1l-1.6 0.8M464 1075.4l-0.7 2.5M514.1 1170.6l-3 1.1M633.2 1175.4l-0.9 0.4M434.7 1091.4l2.1 3.8M610.1 1184.4l1.5 3.8M366.3 1334.3l0.6 1M646.3 1299.2l-1.2 1.7M563.5 1196.1l0.4 2"/>
<path opacity="0.71" d="M567.2 1007.5l-1.6 0.6M481.3 1042.4l-1.1 3.5M366.9 1233.4l-1.8 3.5M454.2 1174.2l-3.9 1.8M577 1043.5l2.6 1.3M629.4 1153.5l3.4 2.8M487.1 1023.8l1.9 2.7"/>
</g>
<g fill="none" stroke="#1a8a8a" stroke-linecap="round" stroke-width="8.8">
<path opacity="0.26" d="M570.2 1310l0.3 0.9M391.8 1026.2l1.5 3M423.4 983.8l-0.1 3.8M434.4 1258.2l1.4 1.1M553.3 983.7l-2.7 1.6M386.2 1003l-0.1 1.8M477.5 1168.4l-1.3 0.4M662.9 1240.7l0.8 1.9M442.8 1310.9l1.9 0M534.7 1009l0.8 1.3M420.6 1257.2l-2.1 1.1M674 1075.8l1.8 0.5M504.8 1312.3l4 1.2M664.1 1309.4l2.7 2.2M526.5 1025.4l-0.1 3.1M677.7 958.8l1.2 0.6M487.6 997.6l-0.5 0.7M618.6 1283.3l-1.3 3.8M387 954.7l-2.6 2.1M427.8 1149.5l0.8 3M680 996.6l-0.6 1.6M677.2 1276.1l-0.9 0.1M582.1 1099.3l-3.5 2.5M598.3 1256.5l-3.8 1.2M678.2 1063.4l-0.3 0.8M425.9 1013l2.1 2.9M508.2 971.9l-3 2.8M406.8 1261.7l1.9 3.8M576.9 1172.7l1.3 0.3M373.7 1059.8l1.7 1.8M458.1 1235.9l-0.9 2M533.8 1161.6l-2.5 1.3M679.2 1239.7l1.5 1.4M364.4 1016.5l-1.3 3.2M521.5 1017.9l0.9 0.7M538.4 965.5l-2.7 2.2M486.4 1057.9l-3 1.6M601.6 1012.1l-0.7 4.4M420.3 1024.3l-0.8 0.9M489.8 1190l0.1 4.4M561.4 1034.1l1.8 1.6M676.2 1324.4l0.6 1.5M644.2 960.3l0.8 4.3M397.3 1093.5l-1.8 4M445.1 1022.7l-0.1 3.6M627.4 1002.9l-0.9 0.1M565.7 1259.3l-1.3 0.6M510.2 1144.5l2.5 1.7M506.6 982.6l1.9 1.1M616.2 975.8l-1.4 2.2M381.5 1227l1 0.4M677.9 1188.1l1 1.1M659.5 1023.9l-3.6 0.8M495.3 1071.4l1 0.6M670.4 1045.7l1.7 3.5M443.1 1219.8l-2.3 2.6M636 1100.1l-0.3 2.4M464.3 1165.4l-1.1 3.8M596.8 1316.7l-1.2 1.5M438.6 1133.6l-1.2 3.7M400.8 1119.4l-0.6 3.4M602.5 1145l0.2 1M592 1230.3l3 0.3M519.7 1324.7l1.9 3M479 1116.4l-0.5 0.9M603.7 957.2l2.1 0.3M577.8 976.6l-3.1 0.7M541.7 1279l0.3 2.9M465.4 1224.8l-2.9 0.5M645.4 1124.1l0.5 1.2M531.4 1284.6l-1.3 3.7M396.3 984.5l0.5 0.6M536.5 1299.5l-1 4M420.6 961.9l-1.7 1.4M382.1 1165.6l0.7 0.9"/>
<path opacity="0.38" d="M680 1119.3l-2.6 0.7M557.7 1285.8l4.3 0.1M588.3 1166.8l-2 2.4M663.5 1049.2l-1.3 0.2M679 1175.4l-3.5 1.5M656.8 1057.4l-2.3 3.3M654.1 1185.9l2.6 2.2M552.4 950.1l1.6 3.2M517 1192.6l1.3 1.3M475.5 1082.6l-3.6 2.7M648.9 1015.5l0 2.1M392.3 1164.4l0.8 2.4M411.7 1314.9l3 1.2M667.8 994.6l3.8 0.1M444.5 1037.7l0.9 0.1M648.3 1166.6l2.1 1.3M480.2 1281.6l-0.5 3.5M464.5 964.4l3.4 0.9M663.8 980l1.9 2.6M400.7 1106.4l1 1.2M619.3 1017.4l-0.7 3.8M596.5 1029.1l-3.2 0.8M563 1224.2l-2.1 0.4M439 1165.1l-1.5 1.2M437.8 1026.8l-3.1 3.1M543.3 1024.1l-2.1 0.2M559.4 1019.7l2 1.2M480 1025.3l-3.3 0.5M605.8 1292.9l1.4 1.1M563.1 1052.5l-3.8 1M432.7 1283.4l4 1.2M614.3 1052.9l-3.9 0M522.1 1107.1l2.4 0.5M463.2 1262.4l-1.4 0.2M417.9 1033.1l0.7 3.2M368.5 1258.6l1.2 2.2M616.1 1039.1l-2.4 0.1M595 1331.5l-1.1 0.1M634.3 1193.8l-2.7 2.2M374.3 1041.9l-1.2 1.2M518.9 977.8l2 0.3M552.7 964l0.9 1.9M660.2 1040.5l-0.9 0.9M399.9 1313.5l0.6 2.3M598.3 1286.7l-1.8 0.5M466.2 953.1l-1.7 1.2M657.8 992.4l1.6 1M487.2 1136.1l1.8 2.2M563.3 1111.4l-1.7 1.4M663.6 1066.6l0.8 1.2M367.2 1247.8l-0.8 0.1M490.7 1333.6l-2.2 1.1M393.8 1056.2l0.6 2.6M662.5 1216.9l1.1 1.5M455.2 1007.5l3.4 0.7M433.1 1309.3l-1.6 3.9M590.9 1114.4l-2.4 1.5M404.2 1294.5l-3.2 0.7M538.2 1218.9l2.3 0.3M666.6 1226.8l-2.7 1.8M647.4 1026.8l-1.6 0.5M457.4 1150.4l2 3.1M648.5 1200.9l-0.2 2.4M639.1 970.1l-0.1 2.5M370.5 1177.4l-2.9 0.3M680.1 948.2l0.2 1.2M413 982.6l2.2 0.2M645 973.4l3.8 0.3M438.1 1333.4l-0.9 0.9M582.2 952.5l-2.5 0.8M555.9 1133.8l-2.9 2.1M406.5 1319.2l2.2 2.7M504.5 1041.7l-1.9 1.7M455.2 1033.5l1.3 1.2M482 1242.2l4 1M481.6 1129.5l-2 2.3M381.9 1200.6l0.9 0.7M629.4 1129.2l-0 1.5M512 1129.4l0.7 2.1M682.2 1096.6l-0.7 0.5"/>
<path opacity="0.49" d="M551.7 1195.5l4.2 0.8M516.4 1211.1l4.3 0.8M512.8 1037.4l2.2 3.1M492.6 1122.7l0.6 0.8M484.6 1215l0.3 0.8M487.1 1181l-3.3 0.3M374.1 1142.9l-2.2 3.3M635.8 1164.8l3.7 0M673.5 1088.7l1.3 2.5M672.5 1249.1l-0.9 0.9M651.9 1331.6l-1 0.7M422.8 1104.8l-3.2 1.4M656.3 1249.2l3.4 1.8M440.6 1084.1l2.6 3.4M532.3 1322.1l0.7 1M662.3 1025.8l2 3.3M664.8 1146.8l0.1 2.3M678.1 1199.4l-1.6 0.1M605.1 1328l1.1 0.8M587.3 981.5l-4.1 0.8M648.2 1234.2l-0.8 2.6M605 1035.2l-0.8 2.5M607.8 980.9l-2.4 2.4M446.1 1156.5l-0.9 2.5M378.4 1260.5l1.2 0.5M393.8 1249.6l-0.7 0.9M511.3 1060.7l0.4 1.2M576.5 1189.2l-1.2 2.5M483.5 958l0.4 4.3M439.6 1246.1l-2.5 0.1M618.6 1120.2l3.7 0M497.5 1050.5l1.5 1.2M419.6 1280.6l1.1 1.9M491.2 953.1l-2.5 0.3M417.6 1175.8l-2.5 1.8M656.7 1320.6l-3 2.4M640.7 1000.2l-0.8 0.2M598.5 1236l-0.1 2.4M656.3 1268.6l2.5 1.9M372.7 1275.5l-1.7 0.2M424.8 1232.2l3.4 2M374.3 1315.1l-1.2 1M648.7 1154l2 3.2M638.1 1085.9l0.2 3M490.5 1219.1l0.9 0.6M634.1 1278.3l0.9 1.4M548.7 1014.7l0 0.8M426.8 1244.3l0.1 2.7M489.9 1045.3l-0.8 0.6M511 1318.5l1.7 3.9M650.8 1309.7l0.4 2.4M417.6 1237.6l1.6 3.9M520.4 1072.5l-3.1 2.1M379.3 960l0.9 2.6M587.5 1208.1l0.1 2.6M477.7 1156.6l3.6 2.3M597.6 1183.1l-3 0.3M577.3 1322.1l1.2 1.6"/>
<path opacity="0.6" d="M459.5 1213.6l1.9 0.2M402 1035.8l-0.2 1.4M386.7 1116.9l-0.3 2.5M466.1 1102.9l-2.2 0.2M596.3 1271.3l0.9 1.5M548 1270.8l1.4 2.8M411.3 968.7l-0.7 0.8M607.8 1226.2l-0.2 1.1M578 1333.8l1 2.8M546 1212.7l1.3 1.3M505.6 1006.7l1.4 2.5M370.5 1107.9l-3.4 0.6M512 996.6l2.9 3.3M423 1169.7l-1.1 0.7M452.7 1287.5l-3.9 2.2M493.9 990.7l-1.9 1.1M567.7 976.2l-2.6 1.1M575.2 1108.8l0.6 3.4M477.4 1069.1l-3.3 0.7M402.6 1022.3l3.4 1.1M476.2 1007.8l2.9 0.7M391.5 993.7l-0.4 1M520.8 1287.8l3.8 1.3M616.4 1328.7l0.2 1.1M371.5 982.6l-0.7 0.5M515.6 1302.5l0.3 1.1M576.2 995.4l-1.7 3.9"/>
<path opacity="0.71" d="M446.6 1097.2l-1 1.3M570.2 1200.9l-0.8 3.6M586.4 1056.6l0.8 1.9M522.1 1052.8l-2.3 2M423.3 969.8l3.4 1.5M634.9 982.3l-0.4 1.6M410.2 1133.7l-2.4 2.6M419.1 1160.3l0.4 0.8M596.8 1051.1l-0.1 2.3M678.1 1216.5l3 0.1"/>
</g>
<g fill="#ee4444">
<ellipse cx="529.3" cy="957.3" rx="4.1" ry="2.8" opacity="0.24" transform="rotate(46 529.3 957.3)"/>
<ellipse cx="527.2" cy="959.4" rx="4.6" ry="2.9" opacity="0.24" transform="rotate(156 527.2 959.4)"/>
<ellipse cx="526.8" cy="958.3" rx="4.9" ry="3.3" opacity="0.24" transform="rotate(48 526.8 958.3)"/>
<ellipse cx="599.9" cy="993.9" rx="6.2" ry="5.2" opacity="0.32" transform="rotate(16 599.9 993.9)"/>
<ellipse cx="606.8" cy="998.2" rx="7.3" ry="5.4" opacity="0.32" transform="rotate(168 606.8 998.2)"/>
<ellipse cx="601.1" cy="992.9" rx="8" ry="7.3" opacity="0.32" transform="rotate(71 601.1 992.9)"/>
<ellipse cx="612.3" cy="964.8" rx="3.1" ry="2.2" opacity="0.24" transform="rotate(125 612.3 964.8)"/>
<ellipse cx="613.6" cy="966.2" rx="3.1" ry="2.5" opacity="0.24" transform="rotate(134 613.6 966.2)"/>
<ellipse cx="579.2" cy="1032.6" rx="4.1" ry="2.5" opacity="0.32" transform="rotate(105 579.2 1032.6)"/>
<ellipse cx="579" cy="1033.1" rx="3.9" ry="3.4" opacity="0.32" transform="rotate(28 579 1033.1)"/>
<ellipse cx="577.2" cy="1028.9" rx="4.3" ry="4" opacity="0.32" transform="rotate(10 577.2 1028.9)"/>
<ellipse cx="528.8" cy="1039.4" rx="4.8" ry="3.2" opacity="0.56" transform="rotate(143 528.8 1039.4)"/>
<ellipse cx="529.9" cy="1044.9" rx="4" ry="2.6" opacity="0.56" transform="rotate(11 529.9 1044.9)"/>
<ellipse cx="528.2" cy="1040.5" rx="5.4" ry="4.1" opacity="0.56" transform="rotate(13 528.2 1040.5)"/>
<ellipse cx="629" cy="1037" rx="3.7" ry="2.7" opacity="0.24" transform="rotate(177 629 1037)"/>
<ellipse cx="628.2" cy="1037.9" rx="3.8" ry="2.3" opacity="0.24" transform="rotate(66 628.2 1037.9)"/>
<ellipse cx="656.4" cy="1053.8" rx="5.7" ry="4.3" opacity="0.36" transform="rotate(156 656.4 1053.8)"/>
<ellipse cx="662.3" cy="1056.4" rx="5.5" ry="4.3" opacity="0.36" transform="rotate(178 662.3 1056.4)"/>
<ellipse cx="657" cy="1053.4" rx="5.8" ry="5.1" opacity="0.36" transform="rotate(49 657 1053.4)"/>
<ellipse cx="413.3" cy="1069" rx="5.1" ry="4.4" opacity="0.64" transform="rotate(80 413.3 1069)"/>
<ellipse cx="412.5" cy="1071.5" rx="3.9" ry="2.8" opacity="0.64" transform="rotate(108 412.5 1071.5)"/>
<ellipse cx="416.4" cy="1072.5" rx="4.9" ry="3.5" opacity="0.64" transform="rotate(86 416.4 1072.5)"/>
<ellipse cx="557.9" cy="1080.7" rx="4.1" ry="3.6" opacity="0.64" transform="rotate(70 557.9 1080.7)"/>
<ellipse cx="555.9" cy="1078.3" rx="3.7" ry="2.5" opacity="0.64" transform="rotate(91 555.9 1078.3)"/>
<ellipse cx="648.7" cy="1089.6" rx="5.1" ry="4.1" opacity="0.48" transform="rotate(178 648.7 1089.6)"/>
<ellipse cx="650.4" cy="1088.3" rx="5.8" ry="4" opacity="0.48" transform="rotate(15 650.4 1088.3)"/>
<ellipse cx="649.4" cy="1094.2" rx="4.8" ry="3.1" opacity="0.48" transform="rotate(124 649.4 1094.2)"/>
<ellipse cx="583.3" cy="1116.9" rx="5.3" ry="4.9" opacity="0.64" transform="rotate(92 583.3 1116.9)"/>
<ellipse cx="581.2" cy="1114.4" rx="5.2" ry="4.9" opacity="0.64" transform="rotate(13 581.2 1114.4)"/>
<ellipse cx="584" cy="1115.4" rx="5.1" ry="3.9" opacity="0.64" transform="rotate(147 584 1115.4)"/>
<ellipse cx="584.2" cy="1132.5" rx="4.2" ry="3.8" opacity="0.64" transform="rotate(133 584.2 1132.5)"/>
<ellipse cx="584.6" cy="1134.7" rx="4.9" ry="3.7" opacity="0.64" transform="rotate(119 584.6 1134.7)"/>
<ellipse cx="583.8" cy="1131.7" rx="4.8" ry="2.9" opacity="0.64" transform="rotate(32 583.8 1131.7)"/>
<ellipse cx="536.3" cy="1130.9" rx="3.2" ry="2.8" opacity="0.24" transform="rotate(120 536.3 1130.9)"/>
<ellipse cx="531.5" cy="1132.2" rx="3.6" ry="2.4" opacity="0.24" transform="rotate(79 531.5 1132.2)"/>
<ellipse cx="417.3" cy="1173.7" rx="4.2" ry="3.7" opacity="0.56" transform="rotate(101 417.3 1173.7)"/>
<ellipse cx="414.9" cy="1175.4" rx="4" ry="2.8" opacity="0.56" transform="rotate(64 414.9 1175.4)"/>
<ellipse cx="414.8" cy="1174" rx="4.3" ry="3.6" opacity="0.56" transform="rotate(159 414.8 1174)"/>
<ellipse cx="430.8" cy="1167.4" rx="3.5" ry="2.3" opacity="0.24" transform="rotate(28 430.8 1167.4)"/>
<ellipse cx="433.3" cy="1168.5" rx="3.3" ry="2.9" opacity="0.24" transform="rotate(153 433.3 1168.5)"/>
<ellipse cx="644" cy="1178.3" rx="5.1" ry="3.7" opacity="0.64" transform="rotate(147 644 1178.3)"/>
<ellipse cx="640.8" cy="1176.8" rx="4.7" ry="3" opacity="0.64" transform="rotate(60 640.8 1176.8)"/>
<ellipse cx="641" cy="1180.4" rx="4.4" ry="2.8" opacity="0.64" transform="rotate(139 641 1180.4)"/>
<ellipse cx="567.7" cy="1192" rx="4.1" ry="2.6" opacity="0.56" transform="rotate(18 567.7 1192)"/>
<ellipse cx="568.1" cy="1190.7" rx="4.1" ry="3.8" opacity="0.56" transform="rotate(83 568.1 1190.7)"/>
<ellipse cx="570.2" cy="1195.2" rx="4.5" ry="3.3" opacity="0.56" transform="rotate(21 570.2 1195.2)"/>
<ellipse cx="518.7" cy="1233.1" rx="4.6" ry="3.4" opacity="0.8" transform="rotate(87 518.7 1233.1)"/>
<ellipse cx="517.3" cy="1230.4" rx="4.4" ry="3" opacity="0.8" transform="rotate(34 517.3 1230.4)"/>
<ellipse cx="516.3" cy="1230.7" rx="4.9" ry="4.3" opacity="0.8" transform="rotate(87 516.3 1230.7)"/>
<ellipse cx="551.6" cy="1254.5" rx="3.4" ry="2.3" opacity="0.6" transform="rotate(95 551.6 1254.5)"/>
<ellipse cx="552.7" cy="1258.6" rx="3.2" ry="2.4" opacity="0.6" transform="rotate(29 552.7 1258.6)"/>
<ellipse cx="503.4" cy="1274.8" rx="4.5" ry="4.2" opacity="0.6" transform="rotate(146 503.4 1274.8)"/>
<ellipse cx="503.5" cy="1276.7" rx="5.3" ry="3.9" opacity="0.6" transform="rotate(74 503.5 1276.7)"/>
<ellipse cx="505.9" cy="1279.6" rx="4.9" ry="3.7" opacity="0.6" transform="rotate(56 505.9 1279.6)"/>
<ellipse cx="373.8" cy="1329.3" rx="3.5" ry="2.8" opacity="0.8" transform="rotate(55 373.8 1329.3)"/>
<ellipse cx="370.7" cy="1330.9" rx="3.3" ry="2" opacity="0.8" transform="rotate(68 370.7 1330.9)"/>
<ellipse cx="385.5" cy="1318.3" rx="4" ry="3.1" opacity="0.28" transform="rotate(87 385.5 1318.3)"/>
<ellipse cx="388.5" cy="1317.7" rx="4" ry="3.8" opacity="0.28" transform="rotate(71 388.5 1317.7)"/>
<ellipse cx="388.1" cy="1317.9" rx="4" ry="3.4" opacity="0.28" transform="rotate(95 388.1 1317.9)"/>
</g>
<ellipse cx="564.8" cy="1006.4" rx="3.5" ry="2.8" fill="#30d8d8" opacity="0.85"/>
<ellipse cx="412.7" cy="1225.9" rx="3.5" ry="2.8" fill="#30d8d8" opacity="0.6"/>
<ellipse cx="421.4" cy="1325.3" rx="4.1" ry="3.3" fill="#30d8d8" opacity="0.7"/>
</g>
</g>
<text x="384.8" y="981.8" font-size="24.6" font-weight="normal" text-anchor="start" fill="#fff" letter-spacing="0.5">-/- MAVS</text>
<rect x="384" y="1266.7" width="84.8" height="2" fill="#f2f2f2"/>
<text x="387.7" y="1302.3" font-size="24.4" font-weight="normal" text-anchor="start" fill="#fff" letter-spacing="0.5">140 µm</text>
<clipPath id="cdwt"><rect x="721.4" y="553.4" width="311" height="387.3"/></clipPath>
<rect x="721.4" y="553.4" width="311" height="387.3" fill="#0c0c0c"/>
<g clip-path="url(#cdwt)">
<g filter="url(#f90)"><rect x="691.4" y="523.4" width="1" height="1" fill="#0c0c0c"/><rect x="1062.4" y="970.7" width="1" height="1" fill="#0c0c0c"/>
<circle cx="969.7" cy="568.7" r="18" fill="#a01818" opacity="0.35"/>
<circle cx="999.4" cy="906.4" r="22" fill="#a01818" opacity="0.4"/>
<circle cx="839.4" cy="894.5" r="18" fill="#a01818" opacity="0.3"/>
<circle cx="738.7" cy="693.1" r="14" fill="#a01818" opacity="0.3"/>
<circle cx="833.5" cy="787.9" r="14" fill="#a01818" opacity="0.3"/>
</g>
<g filter="url(#f20)"><rect x="691.4" y="523.4" width="1" height="1" fill="#0c0c0c"/><rect x="1062.4" y="970.7" width="1" height="1" fill="#0c0c0c"/>
<g fill="none" stroke="#1f9c92" stroke-linecap="round" stroke-width="6.2">
<path opacity="0.32" d="M788.7 788.5l0.7 1.7M777 616.1l-1.1 1.3M935.5 816.1l-0.6 0.7M1001.9 927.1l2.9 1.3M848 937.7l0.2 1.4M800.1 664.5l0.7 0.7M986.2 861.9l-3.4 1.5M724.7 783.3l0.3 2.8M921.8 885.6l2.6 0.6M847.8 926.7l0.4 0.8M894 568.6l-2.9 1.9M818.6 565.6l-1.7 0.8M885 769.9l-0.9 0.3M843.1 606.4l0.6 1.4M780.3 785.7l3.8 0.1M893.4 638.9l-0.9 0.3M973.6 880.6l-0.7 0.9M941.4 744.7l2.5 2.1M760.3 560.1l1 0.3M853.9 698.1l3.5 1.4M904.6 865l1.2 2.3M988.8 899l-2.1 1.9M948.6 784.2l0.5 1.2M888.1 594.3l0.3 1M839.9 933.7l-0.3 0.8M862.5 849.9l0.4 2.2M754.6 759l0.6 1.7M783.7 752.2l1.2 0.9M1003.5 622.9l1.5 1.9M930.8 906.2l-3.3 0M973.5 705.9l0.9 0.5M746.4 778.3l1.9 3M768.2 552.3l-0.7 3.2M731.1 740.6l2.6 0.5M740.3 630.7l2.9 2.3M1031.1 860.8l3.6 0.7M746 888.9l0.8 0.6M886.2 790.4l2 2M761.2 630l0.2 0.7M1003 658.2l-2.4 0.1M753.8 785.3l2.4 2.4M768.6 574.2l2.7 2M970.8 770.8l-2.6 2M980.6 599.1l-1.9 2M1018.6 653.5l3 0.7M954.1 593.1l-1.6 0.2M730.5 777.1l2.6 2M982.3 581.2l0.5 1.7M717.5 840.9l0.4 1.6M790.3 639.8l-3.2 2.1M1024.6 774.4l0.5 2.1M864.1 635.1l-0.2 2.5M931.2 877.1l-1.4 0.8M770.6 724l-1.5 3.2M921.8 585.9l1.6 3.4M878.7 550.1l0.8 2.5M981.3 673.2l0.2 2.5M871 879.3l-0.6 1M843.5 701.8l1.8 1.6M803.2 591.6l1.3 1.4M981.5 792.2l2.9 1.5M964.1 712.1l2.6 1.7M720.6 810l-1 0.5M817.8 761.8l-0.3 1.5M987.4 588.1l-1.7 0.8M910.2 857.2l-1.6 1.1M831.5 586.5l1.4 0.2M987.8 857.4l3 2.2M866.7 909.7l-1.1 0.7M944.9 833.1l-2.6 2M857.3 587.4l1.3 1.8M835.5 676.5l-0.7 2.7M815.4 644.7l2.1 1.7M1007.8 863.2l-1.7 2.8M901.1 735.7l3.4 1M796.9 800.8l1.9 3.1M829.9 850.7l3.2 1.9M1035.2 716.1l0.6 1.6M764.4 657.5l1.8 0.1M881.5 780l-0.9 0.2M865.1 611.8l-0.7 1.7M721.8 615.4l-1.4 1.2M733.5 640.9l-2 2.1M872.5 551.6l-0.5 1.2M749.7 860l-2.8 1.8M861.9 786.5l-0.1 1.4M965.4 802.1l1.4 2.4M1034 750.9l1.6 2M963 683l1.5 1.5M759.6 856.9l-2 2.1M906.1 742.3l-1.8 2.2M813.4 847.2l0.8 2.7M875 942.6l1.3 0.4M806.8 552l1.4 0.8M953.8 747.9l0.3 1M1034 794.6l-0.6 0.7M750.3 694.2l1.7 2.4M903.8 924.8l-2.5 1.4M902.7 789.6l1.5 1.8M871.5 890l1.6 0.5M951.8 791.9l-1.5 2.6M956.4 892.8l-1.8 2.4M914.9 866.7l-2.8 0.2M1034.5 891.4l1.7 0.7M753.8 651l-2.4 0.4M724.6 553.4l-2 0.8M1036 573l-2.2 0M810.9 893.9l-2.2 1.7M883.1 636l1.9 2.2M845.2 828.1l-0.7 0.2M1035.1 626.9l0.9 1.5M768.5 835.6l-1.9 1.2M954.8 653.5l2.2 1.1M889.9 617.4l1.1 1.9M809.6 885.6l1.1 3.2M995.2 889.7l-1.8 2.8M741.7 768.4l-2 0.4M1034.5 691.9l0.6 2.2M858.1 856.1l0.7 0.7M986.6 651.8l2.3 0.7M979 876.9l2.8 0.8M980.6 856.1l0.6 0.3M718.8 935.6l-1.3 3.2M1035.9 848.9l-3.7 0.6M785.8 944.5l-0.8 0.4M781.2 901.9l-2.3 2.3M870.9 916.9l-2.8 0.6M821.3 821l-0.6 0.5M818.3 833.8l0.5 2.4"/>
<path opacity="0.46" d="M1032 840.6l3.2 0.5M861.9 765.8l1.4 1.9M827.5 738.7l1 3.3M1024.1 900.1l1.3 2.7M957.5 850l2.6 1.2M847.8 694.3l-0.1 1.4M838.3 647l-0.5 3.4M838.1 828.8l-0.5 0.6M798.8 823.5l1.9 2.9M816.4 824l1.7 1.5M806.9 619.2l-0.4 1.9M841.5 656l-0.1 1.1M776.8 927l0.8 0.4M744.6 903.7l-1.9 3M973.1 682.7l-2.6 2.7M813.9 797.5l-0.1 0.9M917.2 617l1.6 3.3M1025.3 703.5l1.7 2.6M776.5 760.8l-2.3 2.1M924.8 650.5l0.5 1.1M910.1 823.2l-2.5 1.1M993.5 846.7l-1 0.1M786.5 631.1l1.6 0.6M724.2 803.2l2.7 2.6M846.6 849.2l2.2 2.7M840.8 836.3l3.2 2M719.7 682.3l-1.2 3.4M785.9 558.4l-1.9 3.3M856.7 893l-0.2 3.1M913.2 935.3l2.5 3M911.7 705.4l-1.6 1.9M887.8 823.2l2.6 2.2M794.4 719.5l-1.3 0.8M737.7 691.9l-0.9 1.9M790.7 852.6l-3.4 1.4M773.2 784.6l-1.5 1.3M990.4 786.1l-1.5 1M1024.5 927.4l1.6 2.9M952.9 671.2l0.4 0.7M797.2 740.6l1 3.3M819 888.6l-0.2 1.6M882.8 720.4l-0.4 3.3M994.6 752.3l-1.2 1.4M1019 935.7l0.6 1.3M948.4 685.4l3.3 0.8M741.4 790.9l-2.8 1.9M760.6 819.7l-2 2.7M922.6 684.4l1.5 1.9M927.7 866.8l1.3 3.2M869.6 677.5l0.6 2.8M749.6 869.2l0.3 2.7M872.4 562.5l2.9 1.3M1028.9 564.2l1.8 0.7M905.8 670.7l-0.4 0.5M1029.8 868.3l-1.3 0.6M1014.9 646.9l2.6 0.5M827.3 869.2l-1.7 1M943.7 588.8l1.1 0.8M1001.2 782.4l0.2 1.8M992.5 776.8l-1.2 1M979.5 910.5l3.6 1.5M940.5 862.9l-1.4 1.6M725.1 703.1l-1.1 2.5M841.6 771l1.4 1.2M967 784.3l-2.5 2.4M768.3 755.2l-1.6 1.9M1029 617.2l2.7 1.9M749.5 770.1l0 1.7M751.3 640.3l0.1 0.6M999 702.8l-0.7 0.5M1027.5 714.1l1.5 0.1M771.1 657.3l1.5 0.2M818.8 660.4l-2.6 1.5M917.4 779.5l-1 2.5M857.8 758.9l-1.5 0M835.5 901.5l-1.4 0.1M931.6 574.2l-1.4 3.2M810.9 784.4l0.3 2.7M801.4 719.9l2.9 0.8M784.2 689.8l-0.5 2.5M758.1 805.2l0.7 0.8M800.4 556.6l-2.4 0.7M868.2 759.5l-2.2 0.9M999.4 711.3l1.4 3.1M829.8 934.2l2 3.3M833 840.3l0.6 2.5M788.9 741.7l0.7 3.8M849.1 582.6l3.5 1.2M824.3 714.5l0.8 2.4M882.2 758.4l-0.9 1.4M717.5 790.5l1.3 1.8M890.3 605.9l-1.2 0.3M996.6 821.2l1.6 0.9M1004.4 903.3l-1.5 0.9M949.7 827l1.3 2M954.4 876l-1.4 0.5M785.5 701.5l-2.7 0.8M1007.6 707.5l3 1.4M727.2 882.2l-1.2 3.3M722.3 607.3l1.8 0.4M1014 550.7l1.7 0.9M941 720.2l-2.1 2.1M765.8 719.1l-3.1 0.8M769.2 639.9l-0.2 2.2M1003.6 644.2l-0.2 2.3M990.3 813.2l2.4 1M735.7 702l-0.8 0M861.3 876.7l0.6 0.4M718 706l0.1 1.2M928.6 787.1l-0.8 2.4M951 916.9l-3 1M950.3 807.2l-0.6 3.6M773.5 742.1l-1.7 3.5M828.5 550.6l-3 2.1M991.2 554.3l-2.3 1.4M725.9 661.3l0.8 2.4M930.8 841.4l-0.9 0.1M789.4 725.4l-0.6 2.8M959.7 618.3l0.1 1.4M956.8 566.7l2.6 1M858.6 578.8l0 1.1M974.6 605.8l2.2 2.7M764.8 940l0 1.9M791 710.8l-2.2 1.4M856.7 725.7l-0.3 0.8M853.9 707.5l-3.5 1.4M943.7 768.4l1.8 0.3M944 925.5l1.8 0.9M719.6 816.6l0.4 2.6M899.7 829.7l-0.3 2.4M814.3 870.8l-2.8 2.5M825.5 752.8l-0.7 1.3M881.3 693l-1.4 3.5M744.5 756.8l-1.2 1.2M751.3 549.9l-0.2 3.3M988.5 912.1l0.5 0.4M743.4 687.3l2.9 2.5M782.2 916.4l1.1 0.2M1030.7 727.4l3.3 1.4M926.4 674.5l-0.5 0.8M997.7 805.4l-0.7 1.4M923.6 896l1.1 1M1032.1 899.4l1.8 1M797 726.2l0.2 2.1M893.1 710.4l0.3 0.6M957.9 709.7l0.8 0.2M750.2 732.6l-2.3 0.6M1033.6 873.6l-1.6 0.9M950 700.2l1.5 1.2M871.1 689.6l1.3 2.8M880.5 825.8l1.3 1.3M741.6 617.9l-0.1 1.5M845.2 647.9l1 2.3M801 749.8l-1 2M865.6 829.5l2 1.2M916.2 688.8l0 3.1M991.6 867.3l-0.3 1.2M891.8 881.3l-1.2 2.1M789.4 805.3l-1.1 0.9M808.7 802.1l-2.3 1.4M883.5 869.2l-1.7 0.4M1002.4 726l-0.3 3.6M759.9 549.1l-1.3 3.3M845.7 783.4l-1.5 0.9M847.5 625.2l1.4 0.7M1005.9 826l-0.7 1M1030.5 832.9l0.7 0.9M996.8 933.5l-2.1 2M884.5 819.1l-3.1 0.9M962.9 763.2l0.9 1.1M848.2 771.2l1.9 0.9M911.5 574.6l-2.2 1.7M886.2 687.5l1.4 0.4M875.8 922.1l0.4 3.7M1014.4 787.4l2.2 1.7M944.7 736.9l1.9 0.5M718.7 919.4l0.8 0.6M731.7 927.4l-3.1 2.3M856.7 870.1l-1.6 1.9M726.8 793.4l1.5 2.6M971.9 824.5l1.9 3.2M853.7 921.4l0.9 2.6M719.1 878.4l1.2 3.6M874.9 627l1 2.5M936.6 940.6l2.8 0.9M920.4 705.7l-1.1 1M854.1 829.6l-0.3 1.5M995.4 550.1l1.1 2.1M941.6 809.7l-0.6 1.8M737.3 905.9l-1.7 0.7M825.7 620.8l-3.8 0.6"/>
<path opacity="0.59" d="M861.3 702l1.4 0.2M1035.7 701.8l-1.9 1.7M875.1 743.5l0.3 1.7M1001.9 936.1l0.8 2.3M886.8 836.5l-2.6 1.5M725 633.3l3.4 0.6M888.8 676.6l0.7 3.2M820.6 940.5l-1.6 0.1M882.7 703.6l1.7 0.6M1016.7 826.9l-2.1 2.2M805.9 688.2l-2 2.7M933.9 805.5l-1.5 1.5M829.8 758.9l0.2 3.4M969.7 553.6l-1 1.1M999 630.8l-1.8 2.7M887.5 730.8l1.4 0.7M836.8 875.6l-1.4 2M1012.3 628.7l2.6 2M932.6 666.3l2.1 0.5M833.2 625.7l2.2 2.8M938.3 713l1 0.9M860.1 746.3l-2.5 0.3M917.7 801.2l3.1 0.6M842.8 864.2l-0.1 2.4M802.8 860.7l2 1.9M967.5 894l3.3 0.7M1028.8 651.8l1.1 1M916.3 872.8l3.4 1.3M827.3 663.5l-2 1.3M793.1 622l-1 0.7M948.9 707.4l0.8 1.2M735.5 861.2l0.3 3.5M970 717.5l1.3 0.3M965.6 912.5l3.1 1M970.6 931.2l-1.1 1.7M983.3 645.4l0.9 2.2M757.5 928.8l0.4 3.7M1016.5 886.6l2.4 1.1M813 701.8l1.1 2.7M932.3 728.9l-0.4 0.7M742.8 698.5l0.5 1.6M830.1 706.5l1.3 0.9M828.8 725.4l-0.3 1.4M898.5 605.1l-3.2 1.9M832.4 639.7l1.6 1.8M906.6 850.7l-0.7 3.3M901.6 701.4l2.8 2M992.2 927.1l-2.2 0.9M1003.6 810.4l-2.5 2.6M980 713.1l-1.7 1.3M861 568.7l-0.5 0.8M997.8 716.2l-1 0.9M893.9 920.2l0.3 1.2M805.8 871.9l-2 1.8M729.9 839.3l-3.4 0.3M739.6 727.2l-1.1 1.1M906.3 628.8l0.4 0.7M1009.2 752.7l2.8 2.4M818.6 551l0.7 3.4M979.9 758.1l1.5 0.1M796.1 694.3l-0.5 3.4M928 928l-0.1 2M968.5 831.4l-3.1 0.9M899.1 749.1l0.6 2.5M798.5 580.2l0.4 3.8M1023.4 576.5l1.6 0.1M856 717.1l1.8 1.4M936.1 793.1l-0.7 1.6M944.7 680l-2.5 0.5M779 815.3l-2.5 0.3M962.6 654.3l0.9 1.2M737.6 657.7l3 1M784.3 937l-1.4 1.1M1010.8 876l-2.4 1.7M887.9 893.7l1.3 0.6M1011.1 572.6l1.2 0.1M857.7 910.1l-1.5 1.4M1004.2 565.4l2.5 2.9M1017.5 635.3l0.5 3.8M775.2 625.6l2 2.6M953.3 900.7l-3.3 1.4M788.7 931.3l1.3 3.7M836.3 924.2l-0.3 0.6M921.6 828.1l-1 1.6M1008.2 784.4l0.3 1.4M1024.1 919.7l-0.4 1.1M781.1 767.4l0.1 1.2M926.7 694.2l-2.7 2.6M837.3 778.5l1.6 3.2M975.7 938l-1.2 2M1025.2 607.5l-2.1 2.5M910 833.2l3.3 0.1M908 885.2l0.7 2.9M924.8 575.2l-1.8 0.8M802.9 708.9l-2.3 0.7M837.4 592.8l1 0M935.8 931.2l-0.3 3.4M970.1 757.6l-1.8 1.5M1001.2 888.7l1.8 2.6M940.5 700.9l0.7 0.1M850.8 745.4l-0.2 2.2M878.9 840.4l-1.6 0.6M825 632.6l1 1.1M880.2 565l-0.2 1.6M897.4 663.8l0.4 0.8M1008.3 832.6l1.7 0.7M771.4 934l-0.4 1.5M960.1 937.1l-0.2 2.2M933.1 583.1l0.2 2.1M1014.9 862l-3.6 0.4M989 875.4l-0.9 0.5M841 561.3l3.1 1.4M985 888.8l-2.9 2.6M786.7 907.5l1.2 0.1M912.7 650.5l-1.6 1.2M795.1 938.1l0 3.4M813.6 686.1l-1.4 0.6M793.7 596.2l-1.1 1.1M956.8 855.5l-1.6 2.5M977.9 781l2.9 2.1M721.3 629l-3 0.5M856 881.1l1.1 2.6M957.5 677.7l-1.7 1M996.5 589.1l1 0.1M934.3 559.9l0.9 0.1M1006.1 730.5l1.4 2.2M855.6 553.3l0.4 1.9M839.3 882.6l-1.4 1.7M967.7 924.6l0.9 2.2M881.9 651.8l0.7 1.4M717.9 657.2l0.8 0.1M997.2 881.4l2.7 1.4M823.4 892.2l1.6 3.1M790.2 645.6l1.2 3.2M906.8 659.1l-3 0M846.2 812.9l-1 0.4M756.4 655.9l0.1 1.2M1015.7 848.2l3.5 0.6M948.1 714.6l-3.3 1.7M741.1 775.2l0.7 1.1M843.6 575.4l1.8 2.4M836.4 667.6l-1.1 0.1M970 837.8l1.4 1.2M988.2 768.8l-1.5 0.5M798.5 572.3l-2.8 2.1M846.3 590.3l0.6 2.2M786.8 567.7l-1.8 3.2M964.5 719.5l-2.7 1.5M1021.7 798.3l0.8 3.3M769.8 812.5l-2.4 1.9M856.3 676.5l-2 0.3M920.8 731.2l3.6 0.6M856.4 563.6l0.1 0.9M795.2 860.6l1.8 0.6M879.4 873.1l-2.4 1.5M838.7 698.4l-3.1 2.3M988.1 686.6l0.1 2"/>
<path opacity="0.73" d="M998 612.7l-3 0.9M853.5 778.2l-1.2 1.6M904.3 650.7l0.4 3.2M943.2 893.5l0.4 1.1M965.4 860.2l-0.7 0.9M878.8 765.4l-0.4 1.5M915.8 557.6l-0.2 0.7M873.7 831.9l-0.3 2.2M917.3 847.2l-0.5 1.7M981.8 927.4l-1.7 2.7M969 872.9l-0.7 0.5M888.4 908.2l-2.7 0.8M899.2 941.8l1.8 2.6M823 679l-0.4 2.4M768.7 684.3l3.1 2.3M895.4 693.9l0.8 0.1M936.2 852.6l-3.5 1M812 600.7l-1.8 1.1M972.3 619l-0.3 0.8M1033.9 583.1l-0.9 1M998.1 908.7l-0.7 0.8M934.1 673.3l2.1 0.5M756.4 666.3l-1.2 0.3M1026.1 631l-1.9 0.4M824.8 863.8l-0 2.2M831 746.3l0.7 2.4M1000.8 864.1l-2.6 1.9M790.8 659.5l-0.7 0.6M871.8 701l-0.2 1.5M917.8 569.8l0.4 1.4M731.7 654.6l-2 1.4M883.2 860.4l0.1 2.4M873.5 788.6l1.6 0.9M967.7 670.8l-2.1 1.3M1010.5 925.1l0 1.5M774.8 693.9l0.5 2.6M971.2 600.8l-1.6 1.1M789.2 887.4l-3.5 0.3M918.9 711.9l-3.2 0.7M864 884.5l3.2 1M1033.7 928.3l1.9 2.2M864.5 592.6l2 2.4M949.9 724.2l2.8 0.3M865.3 866.7l-2.4 0.2M948.8 850.6l-1.7 0.1M1030.7 884.5l-2.9 1.5M920.6 815.7l3.3 1.4M936.7 566l2.5 0.6M873.1 778.4l-1.6 1.6M831.8 715.1l-1.6 2.6M787.5 898.9l1.4 1.9M956.6 645.7l1.5 3.2M844.7 750.9l-0.4 0.5M900.7 930.3l0.8 1M855 601.8l-1.1 3.6M728.2 920.9l-2.7 0.5M994.5 767.5l-1.3 3M848.1 559.2l1.7 0.8M772.4 733l-1.1 0.9M895.7 853.5l0.9 0.5M877.3 857.3l-0.6 1M989.7 630.5l-0.7 1.2M772.8 799l0.8 0.5M831.6 883.7l-3 0.5M838.7 569.2l0.3 2.6M917.7 597.6l0.1 1.2M893.8 549.9l2.4 3M925 642.4l1.7 1.1M852.3 862.7l-1.3 0.6M928.6 564.1l-0.9 0.6M865.6 710.7l0.4 0.7M820 689.8l2.2 0M798.9 842.9l0.6 1.2M824.1 705.8l1.9 3.4M803.8 732.2l-2.5 2M1032.8 825.2l0.8 0.6M727 911.9l-1 0.7M977.4 893.1l-0.6 3M755 634l1.3 0.5M725.8 899.7l-0.2 0.9M1015.6 605.4l1.5 1M870.2 738.1l-0.8 1.6M761.5 788l1.2 2.9M795.5 549.2l-0.2 1.4M963.2 562.6l3.4 0.4M744.3 918.1l-1.7 2.3M932.9 683.3l-2.8 2.2M799.4 621.6l-0.8 0.1M894 912.5l2.4 2M913.4 799.6l-2.8 2.2M976.8 700l-0.4 2.3M786.2 551.9l-0.9 0.2M772.4 789.9l-2.1 2.7M749 763.9l-0.7 2.9M947.6 859.2l-0.4 1.7M898.1 672.6l0.3 1M900.5 879.2l-1.6 3.1M982.1 942.2l0 1.3M1007.2 882.7l-1 1.6M903.1 858.6l-1.2 2.1M812.8 693.3l-3 0.3M881.2 601.6l-0.8 1.3"/>
<path opacity="0.87" d="M948.1 940.4l-2.5 0.4M861.6 643.8l3.5 1.2M855.5 792.7l1.2 1.5M846.9 821.6l1.3 3M999.3 691.8l-2.8 1M854.3 802.5l-0.6 0.4M787.9 819.2l-1.1 0.8M748.2 628.6l0.2 1.7M721.6 668.8l-0.8 0.1M780.9 744.1l-0.5 2.4M917.3 658.2l0.2 0.7M986.4 884.1l0.7 0.1M947.9 563.7l-2 0.3M888 645.5l-2.2 2.9M762.5 763.7l-0.4 2.3M827.1 697.1l0.3 0.6M870.1 807.6l-0.2 0.8M918.7 628.4l2.4 0.8M871.6 869.6l2.1 2.9M781.5 837.5l0.5 3.1M847 916.7l-0.2 0.6M779.7 822.7l1.4 1.3M897.9 558.5l0 3.3M734.8 900.5l-2.8 0M1006.9 634.6l-3.1 1.5M751.8 713l2.3 0.5M893.1 811.3l0.7 1.2M881.6 684.3l-3.3 0.1M899.3 679.3l-0.7 1.8M810.9 713.5l-0.4 0.7M719.4 903.6l-2.7 2.4M805.2 628.4l-1 1.2M764.3 797.8l1.7 0.5M850.7 837.3l-0.4 2.6M804.5 832.3l-1.4 1M1034 634.4l-1.5 1.1M944.9 661.9l3.4 1.6M762.8 678.5l-0.7 0.5M724.4 577.5l0.3 1.5M911.8 679.1l0.7 0.9M994.4 943.3l0 1.1M921.9 904l2.1 1.1M830.4 575.9l1.5 0.2M988.1 566.3l0.8 0.7M904.9 552.5l2.5 2.2M795.6 735.3l-0.1 1.7M1012.6 869.6l-1.2 1.6M954.1 639.3l-2.4 0.3M871.4 601.3l1.3 3.3M983.7 830.2l0.8 2.8M956.6 865l-0.3 1.8M951.9 940.2l2.2 2.9M908.7 931.1l1.1 0.4M880.8 939.1l2 1.8M874.2 821.9l-1.2 0.6M880.2 672.8l-3.5 0.2M899.5 847.3l-0.7 0.4M887.9 629.9l2 0.7M769.8 662.7l1.9 3M861.2 843.3l-0.2 1.9M1017.7 614l-1.6 1.9M763.4 736.8l3.5 0.6"/>
</g>
<g fill="none" stroke="#1f9c92" stroke-linecap="round" stroke-width="7.6">
<path opacity="0.32" d="M973.2 750.8l1.7 2.7M790.7 565.6l0.7 1.6M893.3 843.7l-1.2 1.2M895.8 794.2l-1.1 2M829.2 915.3l-0.7 0.5M829 785.7l-3.2 1.4M739.7 683.8l-0.9 0.7M1004.2 603.3l0.3 0.6M840.3 741l-1.4 0.8M941.1 631.1l-1.5 1M748.5 672l-1.5 1.5M778.1 571.7l1.7 3.5M923.4 614.4l-0.4 0.8M785.1 589.9l2.1 3M971 847.8l-2.5 0.1M834.3 889.6l3.1 2.1M992.4 680.8l1.5 2.2M937.8 739.4l0.6 0.3M984.6 606.8l1.8 0.2M911.3 843l0.5 0.5M778.4 666.7l-2.7 0.4M801.6 814.9l0.4 1.5M1014.4 798.3l0.3 1.9M852.5 571.7l1 0M782.7 615.7l1.8 1.9M895.6 781l-2.6 1.6M987.8 704.1l1.4 0.4M887.2 801l-1 0.9M992.4 833.1l1.6 3M909.5 725l-2.5 2.2M755.4 724.6l-0.6 1.6M856.9 662.2l-1.4 0M847.2 875.4l2.7 1.9M860.3 690l0.6 1.9M959.3 912l-0.6 1.3M787.1 574.4l1.1 3.3M945.3 729.7l1.5 1.5M908 586.4l-3.2 0.9M789.6 582.5l-1.1 1M741.4 648.6l-1.5 2.3M866 622.7l0.9 2.5M735.3 913.3l-2.6 0.4M882.2 614.1l-0.7 1.8M756.3 616.8l2.5 0.4M820.1 573.6l-1.3 1.4M957.8 694.1l-1.7 1.9M964.4 878l-2.6 2.7M1011.8 843.3l1.1 0.8M783.7 809.3l0.6 3.9M914.3 579.6l1.5 1.2M748.8 794.4l1.8 2.1M928.8 706.8l-2.3 2.5M838 718.3l-1 2.3M926.8 918.1l0.5 1.5M908.8 768l1.6 1.6M1011.5 811.6l0.5 0.4M1009.5 847.4l-1.3 3.6M836.3 910.2l2.4 1.2M789.9 769.7l2.1 3.2M737.7 783.5l1.6 2.7M1009.5 803.3l-3.2 1.6M1001.7 556.5l0.8 0.5M812.6 936l-1 0.2M1010.1 653.7l-3.6 0.6M1018.3 743.6l0.3 2.6M720.8 638.9l0.9 2M747.4 748l-0.8 0.2M850.1 793.8l-1.2 0.3M739.8 882.9l-3.5 0M921.2 942.2l0.1 2.4M744.1 563.4l-0.6 1.4M970.8 816.8l0.8 0.4M792.3 797.5l-2.6 2.8M866.1 719.4l1.4 1.3M941.6 853.5l-1.3 3.2M841.3 712.7l0.7 2.2M960.5 833l-0.4 1.5M780.4 854.9l0.7 0.2M903.4 692.7l1.5 0.8M790.4 875.5l2.6 1.4M841.3 763.9l-2.2 1M1015.7 777.8l-3.4 0.1M804.9 789.7l-0.9 2.7M727.7 943.7l-2.5 0.7M803.9 931.1l0.6 0.2M1034.2 759.9l1.4 0.4M853.9 767.1l1.4 1.7M938.1 687.1l-1.8 3.1M907.9 892.4l1.1 2.9M817.9 780.4l-1 0.2M774.4 852.8l-2.1 2.7M918 818.4l-0.9 0.5M960.4 790.3l0.7 0.8M918.3 891.7l-1.7 1M826.5 776.1l0.6 3.7M759.5 710.2l0.9 0.2M804.2 781.7l-2.8 0.9M1024.3 942.2l-1.8 1.2M909.6 593l1.1 0.8M912.1 735l-2.3 2.6M895.4 897.4l2.6 0.3M807.7 921.6l-2.3 2.5M889.8 931.2l-1.3 3.3M785.3 624.5l-1 1.2M732.4 876.5l-3.3 1M912.2 549.7l-0.9 2.2M855.6 610.3l1.7 1.6M889.5 763.9l-0.6 1.4M960.2 929.3l-1.7 0.3M1036.3 671.2l-3 2.1M877.5 723.8l-2.2 0.7M860.9 627.5l1 1.5M834.5 735.8l-2.7 0.7M1029.6 934.6l-2.3 0.4M867.8 770.9l3.2 0.7M1021.8 828.2l-1.1 3.3"/>
<path opacity="0.46" d="M771.1 820.4l-2.7 2.8M727.8 679l2.8 0.9M964.8 630.5l0.9 2.1M903.9 837.5l-3.8 0.3M736.8 869.7l2.4 0.7M965.6 696.9l-0.6 0.8M1023.2 782.2l-1.5 0.8M851.7 616.1l0.7 0.4M935.5 925.9l2.1 0.7M727.6 724.8l-1.6 2.1M720.8 731.5l-0.6 1.2M1002.8 667l1.6 0.5M1019.7 588.3l-2 2M735.4 720.6l-0.8 0.1M1001.4 857.2l-0.8 0.5M1031.7 552.6l0.5 0.7M934.3 652.7l1.7 0.6M805.2 697.3l2 2.8M932.9 623.7l3 1.8M804.1 573.5l-0.1 1.4M963.6 905.4l3.3 1.6M963.4 839.8l0.9 0.9M727.7 811.6l-0.3 2.5M1001.6 752.4l1.8 2.4M918.9 605.3l1.3 2.9M901 621l3 1.5M1012.1 580.4l-0.2 1.4M765.1 671.4l-0.8 0.5M905.1 876.3l1.1 0.4M751.4 751.3l2.6 0.6M941.2 876.8l1.5 2.5M899.1 769.2l1.9 0.7M799.4 635.2l-2.1 0.6M967.3 623.9l0.6 1.5M755 866.2l1.5 1.3M959.5 637.6l1 1.6M985.3 807.9l-1.4 1.4M918.2 914.4l-0.8 1.2M947.7 655.5l-0.7 0.3M947.5 813.8l0.4 2.7M745.3 927.5l-1.4 0.4M825.6 595.2l-0.6 2.2M891.9 861.9l0.2 0.9M951.1 569.1l-0.5 0.8M802.6 565.5l-2.3 2.3M902.1 710.7l1 0.7M869.3 933.6l-0.9 3.2M940.5 913l-2.5 2.2M991 578.9l-2.8 1.8M778.7 791.9l0.5 0.5M932.7 824.9l-0.3 1.4M897 886.8l2.1 1.8M899.8 758.4l-1 1.3M719 866.7l1.1 0.2M1012.7 723.8l3.5 1.6M843.5 896l0.4 0.6M735.6 673.4l-2 2.7M983.7 776.1l-2.4 0.2M796.1 703.8l-0 1.2M1010.6 941l1.6 0.2M904.6 719.2l1.9 0.3M995.5 918.7l2.2 1.8M972.3 567.1l2.2 0.3M964.3 823.3l-0.3 1M912.6 791l-3.2 0.1M728 697.3l-0.4 0.8M717.2 771.5l2.8 2.5M783.8 602.9l-3.3 1.2M1037.2 920l-3.6 0.4M975.4 649.1l-0.9 2.8M823.8 606.2l2.5 2.5M1006 739l-0.5 3.3M794 606.7l-3.2 1.8M856.7 639.4l-0.4 0.9M830 832.9l3.1 0.5M1003.1 791.7l-0.1 1.8M776.3 843.7l0.2 1.6M929.7 898.7l3.5 0.8M850.1 685.2l-0.7 1.9M745.4 851.3l0.4 3.1M917.5 695.3l-1.4 2.6M772.5 676l2.3 3.1M872.8 897.8l0.2 1.1M865 749.7l2 1.6M1024.7 835.6l-0.8 0.4M725.4 561.6l3.8 0.8M946.3 673l-0.6 0.5M924.9 857.2l1.1 1.8M952.1 553.1l0.3 2.1M927.5 552.4l0.7 1.1M962.6 869.2l-1.3 3.6M1011.5 682.4l-0.5 0.9M992.1 664.2l0.6 3.7M815 753.4l-0.3 1.4M855.8 848.5l-0.5 2M860.3 735.9l0.8 2.4M865.7 792.7l-1.1 0.1M773 776.3l1.5 0.9M959.8 626.5l-2.3 2.9M967.5 573.7l-3.5 1M928.9 718.8l-1.6 2.1M815 882.6l2.8 0.4M796.6 836.6l-0.9 0.3M857.8 620.6l-1.2 0.6M818.7 867.6l1.5 0.9M956.8 776l3.8 0.7M987.7 937.3l1.1 0.3M808.6 575.6l3.5 1.7M790 750.6l1.2 1.9M1016.9 702.1l-1.6 2.8M970.3 794.8l-2.6 0.1M765.2 610.8l0.7 2M874.6 663.6l0.5 2.5M892.5 737.6l-0.1 1.7M981.5 868.4l-1.4 1.5M800 903.3l-0.9 0.1M980.3 842.2l1.8 1.8M783.5 660.7l-0.5 1.7M763.5 687.5l-1.4 0.7M816.1 719.2l0.6 0.3M893.3 685.6l1.8 1.3M733.3 732.5l-1.2 0.4M1026 793.2l-0.4 3.5M773.8 704.5l-2 0.4M891.8 832.4l-2.9 1.2M940.9 899.5l-1.9 0.5M723.2 874l0.2 1.1M1036.1 607.1l-3.4 0.6M778.4 942.2l-3 1.5M953.7 561.5l0.2 0.9M840.3 633.3l0.9 1.7M775.7 754.4l-1.5 1.4M879.9 900.8l1.8 1.4M782.2 892.9l1.2 3.3M909.9 943.7l0.9 1.1M934.4 646.2l-3.3 0.7M1017.1 567.2l1.3 0.9M966 689.1l0.5 0.9M849.1 736.9l-0.4 1.3M944.5 870l-2.1 2.5M814.4 928.3l-2.3 2M782.6 714.8l2.5 1.9M755.7 573.3l0.1 1.4M754.8 935.4l-1.2 0.4M924.2 623l0.9 2.5M919.7 551.5l1.7 0.7M953 729.9l-0.1 1.9M927 629.2l1 3.5M965 812.2l-1.4 3.1"/>
<path opacity="0.59" d="M901.9 576.6l2.1 1M990.2 641.6l3.6 1.2M756.5 737.7l0.6 0.2M1010.5 899.6l3 1.5M951 928.2l0.5 3.5M923.4 722.7l-1 1.4M979.2 834l-1.8 1.6M919.7 927.7l-0.9 1.4M798.8 882l-1.2 0.4M730.8 789.3l-0.8 0.9M999.4 576.3l1.5 3.2M935.6 636.6l-1.3 0.9M745.2 710.9l-1.7 0.4M780.2 639.4l-0.6 0.3M735 663.1l0.3 1.9M948.4 645.6l0.5 3.3M871.3 905.9l2 3.1M738.6 924.4l0.6 0.1M1004.7 588l3 1M801.3 890.5l-3.6 0.9M931.3 939.5l-2.1 2.6M903.9 901.7l-1.2 0.1M732.6 613.1l-0.5 3.2M826.5 813.9l-0.4 3.6M958.9 662.2l0.1 1.1M859.9 926.9l-1.4 1.8M1012.7 819.6l-2.2 2.1M943.4 907.8l-1.6 2.8M868 858.3l0.2 0.7M921.9 807.7l-1 0.6M828.1 767.5l-0.9 0.5M996 653.5l-1.9 2M723.6 646.2l-1.3 3.2M881.5 932.3l-3.2 1.7M963.1 889.2l-1.5 0.1M893.7 940.8l-1.4 0.9M898.1 870.9l2.6 2.8M834.5 816.8l2.9 0.2M893.8 726.7l1.6 1.1M1010.3 610.4l-2 0.8M917.2 640.6l0.4 1.9M1023.9 549.7l0.4 2.7M884.4 665.8l-0.3 2.7M979.3 560.1l1.1 0.5M864.8 941.6l-2 1M881.7 885l-1.5 1.7M986.6 717.2l-0.7 0.1M783.5 722.8l-0.7 0.2M940.1 578.2l0.3 2.7M977.9 767.3l3.2 0M992.8 761.1l-0.8 0.6M901.3 596.2l-0.2 2.6M957.9 920.4l0.2 1.7M809.7 636.2l0.2 1.4M791.5 679.7l1.4 0.1M984.8 823.1l-0.8 2M806.4 820.6l2.5 2.6M851.3 905.9l-2.2 1.1M850.9 729.8l0.3 1.5M1023.2 846.9l1.8 3.1M831.7 649l-3.3 1.1M812.8 836.3l0.1 1.4M876.6 754.9l-2.3 1.5M885.9 558.7l2.7 1.6M966.2 942l-3.6 0.3M844.1 885.5l1 2.4M827.3 839.5l-1.7 2.4M725 855.9l-3.6 1.3M821.5 627.1l-0.8 0.8M895.4 904.8l1.5 2.9M1022.4 815.7l0.3 1.4M807.4 755.7l0.7 2.2M892.4 624.8l1.9 2.9M756.6 700.9l-0.5 1.2M824.4 564.7l0.6 0.9M896.5 656.5l-2 0.4M737.1 938.1l1.4 1.4M794.4 614.8l-0.6 0.2M830.9 656.8l2.5 1M752.6 942.1l1.1 1.5M874.1 849l-1 1.4M817 709.4l0.6 0.2M1010 697.9l-3.2 0.8M1023.4 893.1l-0.2 2M809.2 735.4l-0.4 1.5M1032.4 593.6l0.1 1.1M786.3 672.4l0.6 0.2M865.9 555.5l-2.6 0.6M809.8 811.2l0.1 1M804.6 610.7l3.8 0.6M812.2 585.2l0.7 0.5M826.5 849.5l-0.8 1.4M911.5 918l-1.3 0.6M886.6 924.1l2.3 3.1M721.3 714.6l1.8 2.3M735 626.2l-2.2 0.9M804.3 644l-2 2.1M766.9 805.1l1.5 0.4M906.7 810.7l-0.6 0.1M994.7 623.7l0.2 0.9M760.3 745.2l-2.7 1.1M734.5 636.7l3.5 0.5M788.2 845.5l-0.7 0.1M955.2 813.4l-2.2 2.9M873.6 619.8l0.1 0.8M825.6 876.1l1.9 2.4M763.6 663.3l-2.5 1.2M922.8 793.6l0.6 1.7M1021.3 617.6l-0 3.1M815.6 770.3l2.8 1.5M884.4 709.3l0.8 3.7M1012.3 618.2l-0.3 1.7M914.2 625.5l-0.6 0.1M758.2 881.1l-0 3.2M785 650.2l0.9 1.5M849.6 757.7l-2.2 2.4M897.3 774l0.8 1M888.1 916.9l-1.6 0.7M932.4 701l0.9 0.2M798.5 866.6l-0.8 3.5M816.3 804.3l-0.1 0.9M938.8 885.7l-1.4 0.6M935.2 872.4l2.6 0.7M974.6 631.6l0.7 2.3M826.5 688.8l3.3 0.5M821.7 731.8l2.2 0.1M776.4 646.8l1.8 1.6M1001.5 773.1l-0.8 0.4M820.4 602.7l2.1 0.3M820.9 747.6l-0.9 0.1M915.3 881l-2.4 0.6M784.4 732.9l-2 1.4M864.8 892.4l1.3 0.8M959.9 807.2l-0.7 0.6M769.1 631.4l2.5 1.3M875.7 608.1l1.3 1.3M741.2 718.6l-1.3 0.3M833.6 866l1.5 1.1M887.2 851.5l0.7 0.6M930.4 616.9l1.9 0.2M964.8 663.4l3.3 2M838.8 843l1.1 2.6M781.1 882.9l-1.7 3.5M890.7 668.4l-0.9 1.2M927.4 799l0.1 1.4M836.3 942.8l1.4 0.5M1002.4 617.1l2 0M936.3 830.8l2 2.8M716.9 781.9l1.4 2.3M910.8 699.7l-0.5 0.6M898.9 633.7l0.5 1.2M848.8 566.2l-1.7 0.6M756.9 623.7l-2 0.8M918.2 861.2l-0.4 0.6M810.9 878.7l1.5 0.3"/>
<path opacity="0.73" d="M813.9 589.2l3.3 1.2M962 552.6l1.5 1.4M875.7 637.3l-1.8 0.9M846.6 637.5l-2.6 2.1M864.2 902.1l-3.5 0.3M834.9 602.8l1.4 1.4M974.1 692.2l2.9 2.1M834 686.4l2.9 2.6M797.6 785.8l-3.9 0.4M852.7 626.6l1 2.8M1001.5 874.1l-1.2 1.8M1025.6 806.7l-1.6 1.1M855.6 811.5l-2 2.3M811 725.4l-0.1 0.9M819.6 653.2l-1.9 1.6M747.9 657l-1.4 2.3M855.5 935.7l-0.5 1.4M833.5 727.8l0.4 1.9M802.5 681.5l3.2 0.4M1007.1 912.5l2 1.8M993.4 896.3l2.1 0.8M981.6 684.7l-0.9 0.3M979.3 637.5l0.1 2.2M861.4 600.9l2.1 3.1M908.8 636.8l-2.5 2.4M878.3 915.8l-2.9 2.5M889.9 752l-0.3 1.8M839.8 621.7l0.6 0.6M723.4 622.4l2.9 0.5M991.2 798.2l-1.3 2.2M836.8 693.2l2.8 1.2M976.5 801.3l-0.8 3.2M816.4 813.8l-1.4 0.6M870 836.5l-0.8 0.2M1032.8 803.8l0.8 0.8M820.2 615.2l0.6 0.7M729.6 688l0.5 1.8M803.5 850.3l-0.3 2.5M749.9 880.1l1.4 0.1M854.5 592.9l-0.3 2.5M863.1 807.5l-1.7 0M828.7 673l-1.6 0.8M1020.2 866.4l2 2.9M869.2 922.7l-1.7 2.7M758.8 874.1l1.1 1.8M910.3 565.5l1.4 0.8M808.9 774.2l0.6 0M768.1 695.6l-1.7 2.8M816.1 858.8l-2.3 1.1M1014.3 904.1l2.3 2M826.5 826.5l0.4 0.9M1022.8 879.7l1.4 1.9M996 570.1l2.7 0.9M926.9 935.1l-1.4 3.6M794.8 811.7l-0.9 0.7M729.3 670.1l1.1 0.3M867.1 686.4l-1.8 3.3M797.5 684.9l0.1 1.4M900.8 818.3l-0.8 1.8M866.9 800.2l3.2 1.5M885.6 738.8l1.2 1.7M912.8 807l-0.8 0.8M957.7 898.8l1.5 1M741.6 668.3l-1.5 0.2M967.9 778.5l3.2 2.1M836.1 752.2l1.1 0.2M818.5 843.6l0.5 2M978.3 816.6l-1 1.5M898.4 645.7l1.1 0.3M879.3 750.7l2.7 0.2M992.7 710.2l0.7 1.2M821 700.2l-3 0.4M809.5 647.2l0.3 2.6M799.5 795.6l-0.4 0.6M750.9 801.6l-0.5 0.4M943.6 932.1l-1.8 1.2M1009.1 745.7l1.5 1.6M791.3 697l-3.2 1.6M854.2 786.4l-0.7 0.3"/>
<path opacity="0.87" d="M719.7 693.6l0.2 3.3M969.1 640.7l1.9 1.6M998.8 743.7l-2.4 1.8M988.1 669.7l1.4 2M889.1 658.7l-2.4 2.4M753.1 926.3l0.3 1.2M939.6 645.8l-0.5 0.6M978.6 789.6l-2 0M952.4 835.4l-0.7 3M952.6 869.9l-0.7 2M983.4 654.2l-1.3 0M924.3 558l1.9 2.9M1026.4 855.4l-3.6 0.8M822.3 900.4l1 3.2M1030.4 746.8l-1.4 0.3M1017.2 689.2l-2.4 1.9M875.6 712.9l0.1 1.3M856.1 822.6l3.1 1.8M836.8 580.2l0.8 2.1M892.5 719.7l1.6 0.8M804.2 766.2l2.1 0.8M723.4 889.7l-2.7 2.3M785.4 682.7l-3.5 0.2M1023.7 559.9l-0.6 0.8M721.4 926.8l0.3 2.4M861.3 835.5l-2.5 1.4M787.8 831.4l-0.5 0.5M1025.5 821.7l1 0M1007.3 890.1l2.4 1.9M901.8 565.7l0.2 0.8M973.4 862l-1 0.6M902 798.6l-0.8 0.7M797.5 672l-0.6 0.3M876.7 814.9l-3 0.7M725.1 935l-0.7 1.3M973.8 587.5l1.6 0.4M877.7 802l0.2 1.7M752.7 777l3 2M1017.1 807.2l0.1 3.7M778.4 729.7l-1.2 1.8M956.9 823.3l-0.6 2.1M763.4 776.7l3.5 1.3M945.6 691.1l-2.7 1.6M785.9 760.3l-0.1 0.8M844.1 598l0.9 3.7M735 561.3l-1.5 1.8M949.4 886.4l-0.7 0.3M1032.3 940.7l1.8 1M718 829.3l3.1 0.5M988.3 661.7l1.7 0.5M961 579.8l0.5 3.5M925.9 664.5l1.1 2.5M892.8 701.1l-3 0.9M984.5 918l1 1.1M897.3 616l-2.2 1.9M985.9 594.5l3.1 0.1M746 934.9l0.7 3.2M862.9 776.2l-3.2 1.7M777.6 805.4l0.6 1.2M1014.7 560.6l0.3 2.2M808.5 745.9l2.4 2.2M860.4 681.8l-2.4 1.3M832.8 564.7l1.2 1M842 684.4l-0.1 1.1M792.6 895.2l3.2 2M861.9 919.7l-2.3 2.9M1005.6 761.7l-0.1 0.8M930.3 860.9l0.3 3.8M977.2 550l3.4 1.1M841.7 903.5l1.5 0.2M963.9 852.2l2.1 0.2M743.4 875.4l-1.9 3.3"/>
</g>
<g fill="#f02a2a">
<ellipse cx="964.1" cy="565.1" rx="5.7" ry="4.4" opacity="0.68" transform="rotate(138 964.1 565.1)"/>
<ellipse cx="970.4" cy="566.6" rx="6.2" ry="4.2" opacity="0.68" transform="rotate(104 970.4 566.6)"/>
<ellipse cx="964.1" cy="564.8" rx="5.2" ry="4.7" opacity="0.68" transform="rotate(179 964.1 564.8)"/>
<ellipse cx="980.8" cy="578.4" rx="5.6" ry="4.6" opacity="0.64" transform="rotate(160 980.8 578.4)"/>
<ellipse cx="975.9" cy="577.2" rx="5.3" ry="3.7" opacity="0.64" transform="rotate(47 975.9 577.2)"/>
<ellipse cx="979.3" cy="581.5" rx="5" ry="3.4" opacity="0.64" transform="rotate(65 979.3 581.5)"/>
<ellipse cx="800.1" cy="616.7" rx="4.2" ry="2.8" opacity="0.64" transform="rotate(27 800.1 616.7)"/>
<ellipse cx="799.8" cy="613.7" rx="3.2" ry="2.2" opacity="0.64" transform="rotate(57 799.8 613.7)"/>
<ellipse cx="905.7" cy="620.5" rx="4.7" ry="3.5" opacity="0.64" transform="rotate(16 905.7 620.5)"/>
<ellipse cx="907" cy="617.6" rx="4.5" ry="2.7" opacity="0.64" transform="rotate(14 907 617.6)"/>
<ellipse cx="906" cy="618.6" rx="3.5" ry="3.3" opacity="0.64" transform="rotate(2 906 618.6)"/>
<ellipse cx="829.1" cy="641.3" rx="3.7" ry="2.5" opacity="0.64" transform="rotate(53 829.1 641.3)"/>
<ellipse cx="830.2" cy="641.4" rx="4.9" ry="3.4" opacity="0.64" transform="rotate(78 830.2 641.4)"/>
<ellipse cx="831.7" cy="646.4" rx="3.8" ry="3.6" opacity="0.64" transform="rotate(30 831.7 646.4)"/>
<ellipse cx="894.2" cy="638.4" rx="4.2" ry="3.7" opacity="0.6" transform="rotate(83 894.2 638.4)"/>
<ellipse cx="892.9" cy="642.8" rx="4.1" ry="2.8" opacity="0.6" transform="rotate(175 892.9 642.8)"/>
<ellipse cx="812.6" cy="658.2" rx="4.3" ry="3.5" opacity="0.68" transform="rotate(30 812.6 658.2)"/>
<ellipse cx="811.7" cy="656.5" rx="4.2" ry="2.9" opacity="0.68" transform="rotate(158 811.7 656.5)"/>
<ellipse cx="753.6" cy="657.5" rx="5.2" ry="3.2" opacity="0.4" transform="rotate(171 753.6 657.5)"/>
<ellipse cx="755.7" cy="659.1" rx="5.2" ry="3.6" opacity="0.4" transform="rotate(125 755.7 659.1)"/>
<ellipse cx="757.5" cy="654.5" rx="4.8" ry="3.1" opacity="0.4" transform="rotate(140 757.5 654.5)"/>
<ellipse cx="990.7" cy="648.5" rx="4.6" ry="3.3" opacity="0.6" transform="rotate(137 990.7 648.5)"/>
<ellipse cx="987.2" cy="648.5" rx="4.9" ry="3.3" opacity="0.6" transform="rotate(99 987.2 648.5)"/>
<ellipse cx="990.3" cy="648.5" rx="4.1" ry="3.4" opacity="0.6" transform="rotate(120 990.3 648.5)"/>
<ellipse cx="730.3" cy="691.4" rx="4.7" ry="3.9" opacity="0.76" transform="rotate(26 730.3 691.4)"/>
<ellipse cx="732.2" cy="695.7" rx="5.1" ry="4.1" opacity="0.76" transform="rotate(167 732.2 695.7)"/>
<ellipse cx="732.3" cy="692.8" rx="4.2" ry="3.3" opacity="0.76" transform="rotate(116 732.3 692.8)"/>
<ellipse cx="745.1" cy="693.1" rx="3.5" ry="2.2" opacity="0.64" transform="rotate(69 745.1 693.1)"/>
<ellipse cx="743.1" cy="692.4" rx="3" ry="2.7" opacity="0.64" transform="rotate(124 743.1 692.4)"/>
<ellipse cx="769.8" cy="705.1" rx="3.8" ry="2.4" opacity="0.36" transform="rotate(144 769.8 705.1)"/>
<ellipse cx="768.1" cy="705.3" rx="2.9" ry="2.6" opacity="0.36" transform="rotate(37 768.1 705.3)"/>
<ellipse cx="897.6" cy="727.3" rx="4.9" ry="3.7" opacity="0.8" transform="rotate(133 897.6 727.3)"/>
<ellipse cx="895.4" cy="731.9" rx="4.1" ry="2.8" opacity="0.8" transform="rotate(42 895.4 731.9)"/>
<ellipse cx="897.2" cy="729" rx="4.2" ry="3.3" opacity="0.8" transform="rotate(45 897.2 729)"/>
<ellipse cx="875.4" cy="733.2" rx="3.8" ry="3.5" opacity="0.6" transform="rotate(173 875.4 733.2)"/>
<ellipse cx="877.3" cy="732.5" rx="3.7" ry="2.9" opacity="0.6" transform="rotate(10 877.3 732.5)"/>
<ellipse cx="852.6" cy="754.6" rx="4.5" ry="3" opacity="0.56" transform="rotate(92 852.6 754.6)"/>
<ellipse cx="852.6" cy="751" rx="4.6" ry="4.4" opacity="0.56" transform="rotate(77 852.6 751)"/>
<ellipse cx="888.2" cy="753" rx="3.3" ry="2.5" opacity="0.36" transform="rotate(150 888.2 753)"/>
<ellipse cx="891.1" cy="750.9" rx="3.3" ry="2.5" opacity="0.36" transform="rotate(120 891.1 750.9)"/>
<ellipse cx="841" cy="767.9" rx="3.4" ry="2.1" opacity="0.64" transform="rotate(126 841 767.9)"/>
<ellipse cx="841.3" cy="771.5" rx="4" ry="2.5" opacity="0.64" transform="rotate(57 841.3 771.5)"/>
<ellipse cx="831.5" cy="789.7" rx="5.5" ry="4.6" opacity="0.4" transform="rotate(6 831.5 789.7)"/>
<ellipse cx="831.5" cy="785.7" rx="6.3" ry="4" opacity="0.4" transform="rotate(91 831.5 785.7)"/>
<ellipse cx="834.3" cy="789.3" rx="6" ry="3.9" opacity="0.4" transform="rotate(54 834.3 789.3)"/>
<ellipse cx="983.8" cy="789.7" rx="5.1" ry="4.1" opacity="0.72" transform="rotate(113 983.8 789.7)"/>
<ellipse cx="983.2" cy="789.6" rx="5.3" ry="4.5" opacity="0.72" transform="rotate(102 983.2 789.6)"/>
<ellipse cx="979.2" cy="788.7" rx="5.3" ry="3.3" opacity="0.72" transform="rotate(125 979.2 788.7)"/>
<ellipse cx="727.2" cy="793.3" rx="3.9" ry="3.5" opacity="0.56" transform="rotate(74 727.2 793.3)"/>
<ellipse cx="727.6" cy="793.5" rx="3.7" ry="2.3" opacity="0.56" transform="rotate(168 727.6 793.5)"/>
<ellipse cx="804.8" cy="797.1" rx="3.4" ry="2.7" opacity="0.52" transform="rotate(17 804.8 797.1)"/>
<ellipse cx="808.2" cy="794.8" rx="2.8" ry="2.2" opacity="0.52" transform="rotate(79 808.2 794.8)"/>
<ellipse cx="878.4" cy="832" rx="4.3" ry="3.4" opacity="0.8" transform="rotate(124 878.4 832)"/>
<ellipse cx="875.1" cy="829.3" rx="4.3" ry="3.1" opacity="0.8" transform="rotate(101 875.1 829.3)"/>
<ellipse cx="879.2" cy="831.7" rx="4" ry="3.5" opacity="0.8" transform="rotate(166 879.2 831.7)"/>
<ellipse cx="1003.4" cy="840.3" rx="4.1" ry="3.7" opacity="0.64" transform="rotate(120 1003.4 840.3)"/>
<ellipse cx="1007.8" cy="840.4" rx="3.9" ry="3.6" opacity="0.64" transform="rotate(11 1007.8 840.4)"/>
<ellipse cx="739.7" cy="854.3" rx="4.2" ry="3.9" opacity="0.76" transform="rotate(160 739.7 854.3)"/>
<ellipse cx="736.2" cy="857.7" rx="4.8" ry="3.6" opacity="0.76" transform="rotate(59 736.2 857.7)"/>
<ellipse cx="738.6" cy="857" rx="3.7" ry="3.4" opacity="0.76" transform="rotate(39 738.6 857)"/>
<ellipse cx="920.4" cy="861.6" rx="4.3" ry="3.2" opacity="0.4" transform="rotate(123 920.4 861.6)"/>
<ellipse cx="918" cy="863.4" rx="4.6" ry="4.3" opacity="0.4" transform="rotate(32 918 863.4)"/>
<ellipse cx="935.3" cy="865.3" rx="3.6" ry="3.2" opacity="0.64" transform="rotate(95 935.3 865.3)"/>
<ellipse cx="938.1" cy="862.7" rx="3.4" ry="2.3" opacity="0.64" transform="rotate(23 938.1 862.7)"/>
<ellipse cx="832.6" cy="876.1" rx="5.1" ry="4.8" opacity="0.4" transform="rotate(52 832.6 876.1)"/>
<ellipse cx="833.5" cy="877.6" rx="4.6" ry="2.8" opacity="0.4" transform="rotate(80 833.5 877.6)"/>
<ellipse cx="833.6" cy="873.2" rx="5.1" ry="4.3" opacity="0.4" transform="rotate(88 833.6 873.2)"/>
<ellipse cx="1009.7" cy="891.5" rx="5.6" ry="3.3" opacity="0.72" transform="rotate(14 1009.7 891.5)"/>
<ellipse cx="1015.1" cy="895.7" rx="5.7" ry="3.5" opacity="0.72" transform="rotate(143 1015.1 895.7)"/>
<ellipse cx="1008.8" cy="896" rx="6.3" ry="4.7" opacity="0.72" transform="rotate(99 1008.8 896)"/>
<ellipse cx="993.7" cy="917.7" rx="6.7" ry="4.8" opacity="0.72" transform="rotate(140 993.7 917.7)"/>
<ellipse cx="997.3" cy="910.6" rx="7" ry="4.7" opacity="0.72" transform="rotate(166 997.3 910.6)"/>
<ellipse cx="994.1" cy="917.3" rx="5.6" ry="4.6" opacity="0.72" transform="rotate(118 994.1 917.3)"/>
<ellipse cx="830.8" cy="900.3" rx="4.3" ry="3.6" opacity="0.32" transform="rotate(104 830.8 900.3)"/>
<ellipse cx="833.7" cy="898" rx="4.5" ry="3.5" opacity="0.32" transform="rotate(146 833.7 898)"/>
<ellipse cx="833.1" cy="903.5" rx="4.1" ry="2.9" opacity="0.32" transform="rotate(47 833.1 903.5)"/>
<ellipse cx="872.9" cy="916.5" rx="4.7" ry="4.3" opacity="0.56" transform="rotate(42 872.9 916.5)"/>
<ellipse cx="871" cy="915.8" rx="4.1" ry="2.6" opacity="0.56" transform="rotate(4 871 915.8)"/>
<ellipse cx="870.4" cy="915.2" rx="4.8" ry="3.4" opacity="0.56" transform="rotate(77 870.4 915.2)"/>
<ellipse cx="738.4" cy="927.3" rx="4" ry="2.4" opacity="0.76" transform="rotate(167 738.4 927.3)"/>
<ellipse cx="734.8" cy="931.3" rx="4.2" ry="3.6" opacity="0.76" transform="rotate(80 734.8 931.3)"/>
<ellipse cx="734.4" cy="930.8" rx="4.9" ry="3.2" opacity="0.76" transform="rotate(158 734.4 930.8)"/>
<ellipse cx="844.9" cy="933.4" rx="3.7" ry="3.2" opacity="0.64" transform="rotate(152 844.9 933.4)"/>
<ellipse cx="846.2" cy="931.8" rx="4.5" ry="3.9" opacity="0.64" transform="rotate(72 846.2 931.8)"/>
<ellipse cx="843.3" cy="931.8" rx="3.6" ry="2.2" opacity="0.64" transform="rotate(170 843.3 931.8)"/>
<ellipse cx="999.8" cy="716.2" rx="4.6" ry="3.5" opacity="0.32" transform="rotate(124 999.8 716.2)"/>
<ellipse cx="999.9" cy="714.1" rx="4.8" ry="4.3" opacity="0.32" transform="rotate(84 999.9 714.1)"/>
<ellipse cx="1004.9" cy="711.9" rx="4.1" ry="2.9" opacity="0.32" transform="rotate(39 1004.9 711.9)"/>
<ellipse cx="897.8" cy="813.1" rx="2.9" ry="1.7" opacity="0.32" transform="rotate(71 897.8 813.1)"/>
<ellipse cx="899.8" cy="812.4" rx="4" ry="2.8" opacity="0.32" transform="rotate(95 899.8 812.4)"/>
<ellipse cx="918.5" cy="826" rx="3.6" ry="3.2" opacity="0.32" transform="rotate(47 918.5 826)"/>
<ellipse cx="918.1" cy="822.9" rx="3" ry="1.8" opacity="0.32" transform="rotate(63 918.1 822.9)"/>
<ellipse cx="731.4" cy="630.8" rx="3.5" ry="2.1" opacity="0.32" transform="rotate(120 731.4 630.8)"/>
<ellipse cx="733.9" cy="629.7" rx="3.8" ry="3" opacity="0.32" transform="rotate(49 733.9 629.7)"/>
<ellipse cx="814.8" cy="568.4" rx="3.5" ry="3.1" opacity="0.24" transform="rotate(148 814.8 568.4)"/>
<ellipse cx="818.6" cy="565.9" rx="3.6" ry="2.5" opacity="0.24" transform="rotate(81 818.6 565.9)"/>
<ellipse cx="893.7" cy="561.8" rx="3.4" ry="3.1" opacity="0.24" transform="rotate(72 893.7 561.8)"/>
<ellipse cx="893.7" cy="560.6" rx="3" ry="2.4" opacity="0.24" transform="rotate(20 893.7 560.6)"/>
<ellipse cx="1027.5" cy="634.1" rx="3.2" ry="2.4" opacity="0.4" transform="rotate(22 1027.5 634.1)"/>
<ellipse cx="1025.1" cy="635.2" rx="3.2" ry="2.6" opacity="0.4" transform="rotate(55 1025.1 635.2)"/>
</g>
<ellipse cx="901" cy="791.4" rx="3.3" ry="2.6" fill="#40e0e0" opacity="0.95"/>
<ellipse cx="940.1" cy="915.3" rx="3.3" ry="2.6" fill="#40e0e0" opacity="0.9"/>
<ellipse cx="744.6" cy="814.5" rx="2.7" ry="2.1" fill="#40e0e0" opacity="0.6"/>
<ellipse cx="952" cy="867.9" rx="3.6" ry="2.8" fill="#40e0e0" opacity="0.6"/>
<ellipse cx="741.7" cy="716.8" rx="3.6" ry="2.8" fill="#40e0e0" opacity="0.6"/>
<ellipse cx="784.6" cy="690.1" rx="3.6" ry="2.8" fill="#40e0e0" opacity="0.6"/>
<ellipse cx="990.5" cy="873.8" rx="3" ry="2.4" fill="#40e0e0" opacity="0.7"/>
</g>
</g>
<text x="746.2" y="590.4" font-size="24.6" font-weight="normal" text-anchor="start" fill="#fff" letter-spacing="0.5">WT</text>
<rect x="750.5" y="892" width="96.9" height="2" fill="#f2f2f2"/>
<text x="762.4" y="921.1" font-size="24.4" font-weight="normal" text-anchor="start" fill="#fff" letter-spacing="0.5">100 µm</text>
<clipPath id="cdmda"><rect x="1042.9" y="553.6" width="311" height="386.2"/></clipPath>
<rect x="1042.9" y="553.6" width="311" height="386.2" fill="#190c0d"/>
<g clip-path="url(#cdmda)">
<g filter="url(#f90)"><rect x="1012.9" y="523.6" width="1" height="1" fill="#190c0d"/><rect x="1383.9" y="969.8" width="1" height="1" fill="#190c0d"/>
<circle cx="1079.4" cy="633.9" r="30" fill="#7a1010" opacity="0.3"/>
<circle cx="1301.6" cy="633.9" r="30" fill="#7a1010" opacity="0.3"/>
<circle cx="1079.4" cy="811.6" r="34" fill="#7a1010" opacity="0.3"/>
<circle cx="1286.8" cy="885.6" r="34" fill="#7a1010" opacity="0.3"/>
<circle cx="1183.1" cy="604.2" r="28" fill="#7a1010" opacity="0.22"/>
<circle cx="1301.6" cy="826.4" r="28" fill="#7a1010" opacity="0.25"/>
<circle cx="1197.9" cy="722.7" r="26" fill="#7a1010" opacity="0.18"/>
</g>
<g filter="url(#f22)"><rect x="1012.9" y="523.6" width="1" height="1" fill="#190c0d"/><rect x="1383.9" y="969.8" width="1" height="1" fill="#190c0d"/>
<g fill="none" stroke="#256a6a" stroke-linecap="round" stroke-width="6.4">
<path opacity="0.24" d="M1344.2 602.8l-0.2 3.7M1343.5 770.7l2.5 2.7M1262.1 788.5l-1.1 0.8M1051.4 910.8l-0.8 1.1M1167.5 913.9l0.8 1.1M1171.9 873.2l-1.1 1.5M1298.2 554.1l0.7 0.5M1153.2 661l0.3 3.2M1122 891.5l-1.5 1.4M1223.8 637.4l-1.3 3.6M1111 601.6l3.1 0.8M1061.7 872.8l0.5 1M1168.9 565.7l0.6 0.3M1165.5 577.9l0.6 3.9M1296.8 754.6l1.3 2.7M1048 609.8l-2.3 2.8M1106.2 613.8l1.1 0.2M1224.8 594.8l-0.3 0.8M1141.7 568.4l-3.3 0.4M1224.7 560.9l0.6 1.1M1309.4 889.2l-2 1.6M1151.2 739.9l-0.5 0.9M1339.3 827.9l3.2 1.1M1238.9 756.5l-1.6 2M1268.1 612.9l-2.8 0M1281.1 668.7l-0.8 0.3M1171.2 668.6l0.9 0.9M1043.4 858.5l1 0.4M1226.3 861.4l1.5 0.1M1050.2 770.2l-0.9 1.8M1253.6 882.1l-1.9 2.5M1318.2 561.7l-1.5 1.3M1298.8 700.7l2.1 2.7M1086.3 845.8l-1.3 1.2M1063.4 708.1l2.2 3.2M1342.5 843.9l0.3 1.6M1082.5 587.5l2.5 2M1152.7 925.2l-1.3 0.4M1299.6 637.5l-2.9 1.1M1314.7 634.4l-2 1M1240.4 921.8l-1.5 2.3M1048.2 891l2.8 1.5M1131.7 650.3l-1.8 3.4M1216.7 851.1l0.8 0.9M1206.3 712.9l0 0.7M1267.8 631.3l0.9 0.1M1190.2 758.9l0.9 2M1206.1 884.1l0.4 1.5M1282.5 643.5l-2.1 1.4M1063.5 605.1l-0.5 2M1183.4 899.4l-0.2 2.5M1164.4 626.9l1 3.1M1248.5 731.2l-2.8 2.7M1317.4 575.5l1.2 0.1M1066.7 884.4l1.7 2.5M1107.9 814.8l0.9 0.5M1054.7 717.5l-2 0M1145 817.8l-2.5 2.6M1342.5 687.9l2.7 0.1M1075.4 810.9l-0.4 3.8M1044.7 891.4l-1.9 3.3M1115.3 783.7l-3 0.4M1129.8 762l-2.6 2.2M1037.6 719l1.8 0.7M1041.5 676.9l1.3 0.5M1299.8 789.2l0.1 1.5M1296.9 741l0.7 3.5M1109.6 666.6l-0.1 1.6M1214.8 667.9l0.1 1M1090.2 560.9l-2.1 0.5M1052.5 786.1l0.2 0.8M1080.3 655.5l1.7 0.1M1085.7 734.8l-2.6 0.7M1051.3 679.9l-0.8 0M1100.6 937.4l-3.3 0.3M1051.2 724.8l0.4 1.4M1166 550.9l-1.9 0.9M1271.4 793.8l0.7 0.4M1277.8 617.5l-1.7 1.5M1100 651.9l-3.7 0.3M1204 770.2l-0.5 0.9M1038 771.3l1.5 2.6M1215.6 704.7l2.3 2.7M1289 773.9l-1.1 1.6M1050.7 709.3l1.6 1.4M1283.4 609.2l-0.5 1.3M1283 567.4l-0.3 0.7M1126.3 730.2l-2.1 1.2"/>
<path opacity="0.34" d="M1337.6 852.1l-2.5 1.2M1331 670l-0.4 0.9M1255.5 757.8l-1.3 0M1166.9 588.8l-3.2 0.2M1207.2 778.6l1.1 2.6M1179.8 655.7l-0.9 2.3M1322.6 802.4l2.3 1.7M1283.5 551.6l-0.4 0.9M1241.7 938.6l-0.7 0.1M1203.5 932.7l-1 0.3M1299.7 588.4l0.6 0.3M1136.1 559.1l0.5 1.2M1178.4 678.9l1.2 2.5M1172.6 689.2l0.9 0M1080.5 644.3l0.6 0.5M1055.3 818.4l2 0.5M1217.2 619.8l0.7 1.1M1203.3 614.1l-0.5 1.5M1121.6 721.9l-1.9 1.8M1311.6 701l1.6 2.8M1136.2 812.6l0.5 0.9M1270.8 692.3l0.5 0.9M1138 883.6l1.6 3.6M1136.8 705.9l-0.1 1.5M1328.9 627.1l1.6 1.2M1192.8 733.1l2.6 0.2M1209.9 644.4l-0.1 2M1074.8 595.7l-3.7 0.6M1202.9 570.6l3.2 0.1M1064.5 584.1l3.3 2.2M1228.7 769.6l-2.5 2.3M1047.7 670.1l0.7 0.3M1071 653.3l-1.1 1.8M1132.5 712.2l-1.9 2M1352.1 936.8l-1.8 2.3M1158.1 694l-1.3 1.4M1294.6 855l-1.8 2.2M1133.1 549.9l1.1 3.7M1054 852.5l3.5 1.7M1097.8 703.4l2.7 0.7M1298.7 821l-2.7 1.4M1197.6 742l-1 1.3M1103.8 796l0.1 2.5M1137.9 937.5l-1 3.6M1312 821.7l1.2 1.8M1354.5 613.4l0.1 3.7M1093.6 616.8l1.4 1.4M1317.5 838.1l-2.4 1.7M1078.2 626.8l-2.3 0M1215.3 654.1l-1.3 0.7M1228.2 782.1l0.3 1.4M1087.5 606.5l-0.7 0.3M1320.4 675.6l0.6 0.7M1308.9 855.1l-1 0M1052.4 575.6l2.4 0.5M1350.6 812.8l1.3 0.5M1067.9 570.4l1.3 0.4M1255.4 671.4l-1.9 1.2M1247.5 749.2l1.8 3M1226.7 869.6l-0 3.5M1327 691.7l-1.7 0.6M1057.1 778.1l0.2 0.7M1298.1 778.7l-3.6 0.5M1268.6 819.2l0.6 2.9M1191.7 551.6l-1.4 0.9M1346.5 884l2 0.7M1261.7 899l0.1 3.5M1272.8 913.4l-1.5 3.1M1204.3 556.9l1.4 0.2M1160.2 596.3l-0 2.5M1060.2 558.2l0.7 0.4M1084.3 553.2l1.5 0.7M1214.6 774.5l0.9 0.7M1126.3 918.3l3.3 2.1M1258.2 593.7l-1.2 0.2M1317.2 813.4l-1.3 0.1M1047.1 934.4l-3.8 0.8M1263.9 760.9l-3.3 0.4M1198.2 684.3l1.2 0.2M1188.7 891.6l-1.3 1M1201.4 697.7l-0.9 0.6M1246.8 863.5l-3.3 0.1M1090.6 670.9l-2.5 2.7M1208.1 699.1l0.2 1.3M1197.3 652.6l-1.2 1M1308.9 711.2l0.7 1.3M1326.9 703.1l0.3 0.6M1350.6 803.7l2.9 0.4M1148.9 673.5l-2.4 0.3M1081.9 912.6l-1.1 1.1M1260.5 616.3l-1.9 1.1M1096.6 841.9l1.3 0.1M1040.1 603.5l3.1 0.2M1226.4 941l-1.2 2.3M1102 577.1l2 3.2M1261.9 663.5l2.6 2.3M1319.4 942.6l2.4 0.9M1284.5 830l0.2 3.7M1117.1 818.7l0.2 1.3M1204.5 737.2l0.5 1.4M1217.8 915.3l3.2 1.9M1042.6 873.1l0.9 1M1228.1 577.7l-1.8 0.5M1082 778.5l-1 1M1209.6 754.1l0.1 2.4M1220.2 930l-0.3 2M1119 936.3l1.3 2.3M1270.7 659.9l2.2 2.2M1299.4 572.2l-0.8 0.5M1278.7 850.3l-1.4 0.7M1315.7 654.3l-0.3 1.3M1185.1 622.1l-0.7 1.1M1287.4 932.2l-3.1 0.3M1184.1 711.3l-0.7 2.8M1297.7 861.4l-2.7 2.7M1202.2 825.6l0.8 0.7M1155.1 751l0.6 0.8M1213.6 904.7l0 1.9M1221.8 795.8l3.2 1.2M1342.3 784.4l-2 2.6"/>
<path opacity="0.45" d="M1247.1 683.1l-1 1.9M1123.1 924.7l-1.5 2.3M1168.9 807.5l-2.7 2.7M1066 939.2l1 2M1245.5 628l-0.9 3.5M1331.8 729.5l0.3 0.6M1129.2 586.7l-1 1.6M1312.4 560.3l-3 2.3M1121 641.8l-0.4 1.7M1125.9 574.6l-1.2 0.8M1147.3 885.6l1.9 3.4M1247.9 677.7l0.7 0.4M1193 863.6l2.6 1.2M1298.1 813.9l-0.2 0.9M1287.1 635.4l-2.7 1.7M1274.7 568.6l-0.8 1.6M1285.7 600.8l2.3 2.7M1191.7 620.6l0.3 1.3M1047.5 593.5l-0.4 1.3M1293.3 796.7l0.1 0.8M1112.5 687.8l-1 1.6M1063.3 838.9l0.9 3.8M1207.9 939l3.1 0.8M1220.6 695.1l-3.3 1.1M1079.2 857.8l3.4 0.9M1211.2 831.9l-0.2 2.5M1074 770.4l-2 1.3M1174.9 615.2l-1.4 1.6M1347.2 615.2l1.8 1M1292.1 563.1l-1.6 0.3M1328.7 851.5l-2 0.1M1251.9 898.8l-1.7 2.7M1081.8 831.3l-1 0.4M1238.8 643.7l1 2.4M1117.8 707.7l-3.2 1.4M1047 824.5l-2.1 0.4M1082.9 885.5l-0.5 0.3M1109.1 701.1l-1.5 1.5M1270.1 853.1l0.6 1.2M1233.8 609.3l0.3 2.1M1068.2 801.1l0.8 0.4M1042.6 732.3l2.6 2.1M1237.5 905.6l2 1.3M1095.7 677.9l-0.7 0.6M1356.5 551l-0.1 1.3M1263.7 806.1l-1.5 0.1M1074.4 557.9l2.6 2.5M1310.7 720.2l3.4 2.1M1247.9 912.7l-1.4 3M1198.9 711l-1.1 2.7M1126.8 769.7l0.5 1.1M1141.9 911.7l2.4 0.5M1316.9 900.5l-0.5 3.9M1161.9 615.1l-1.8 1.1M1350.7 712.1l-1.6 0.6M1124 814.5l-0.4 3.3M1338.6 565.2l1.7 0.5M1311.8 658.5l0.4 1.4M1281.7 780.2l-0.1 0.7M1104.4 876l2.1 1.2M1286.5 574.2l-1.1 2.9M1308.9 762.1l0.2 1.1M1281.4 798.9l0.9 1.9M1042.6 689.5l0.2 3.1M1088.3 656l4 0.2M1110.3 938.6l-2.4 1.8M1091.4 644.1l-0.5 3.2M1326.6 831l3.2 1.1M1325.3 904.9l3.3 1.7M1080.4 570.4l-0.4 0.7M1289.3 689.5l0.8 3.5M1306.4 689.1l-1.7 2.9M1174.9 746l-1.7 1.8M1131 912.9l-2.3 0.2M1305.2 895.9l0.9 0.6M1111.5 830l2.3 3.2M1341.1 653.4l-3 2.6M1059 660l-0.1 1.2M1055.3 829.7l-0.6 2.2M1211.8 841.3l2.6 0.5M1187.9 935.9l-1.6 3.4M1294.6 932.5l-0.3 3.5M1095.2 697.1l1.3 0.5M1059.8 903.6l2.7 1.4M1125.6 791.4l1.6 0M1118.9 618.4l0.4 2.1M1177.3 763.2l1.8 2.6M1259.9 724.9l-1.7 0.5M1135.4 575.9l-1.2 3.1M1100.1 929.4l1.4 1.7M1219 826.4l2.2 3.2M1098.8 763.6l-1.1 1.6M1318.2 878l0 0.8M1172.6 641.6l-0.9 1.5M1261.1 849.1l-2.9 0.4M1339 818.2l1.1 1M1189.8 746.6l-1.6 0.4M1183.6 813.2l-0.6 0.6M1287.7 905.9l-0.7 0.8M1183.2 602.4l0.3 3.1M1055.9 586.1l-0.6 0.9M1274.7 760.4l-1.5 0.5M1083.2 941.6l-1.1 0.5M1124 781l1.5 0.3M1321.6 892.9l-3 2.6M1110.3 719.2l2.3 1.8M1057.4 768l2.7 1M1148.8 708.7l-0.7 2.6M1182.3 691.5l-0.7 0.1M1157.3 572l-2.7 1.6M1346.1 738.7l-3.1 0.6M1147.4 941.5l3.1 0.2M1325.6 579.9l2.3 1.6M1101.1 643.7l1.7 0.9M1308.6 927.7l3.6 0.6M1041 612.9l-0.3 1.6M1171 627.8l0.8 1.9"/>
<path opacity="0.55" d="M1231.4 916.4l0.1 1.3M1140.3 855.1l1.2 2.7M1151.4 718.2l1.3 1.1M1207.5 861.6l0.9 1.3M1092.8 819.3l0.4 2.3M1103.5 743.2l-2.4 0.6M1194.6 559.6l-0.1 2.4M1323.4 864.2l1.2 0.9M1202.1 633.6l-0.2 1.2M1331.3 780.2l1.2 0.2M1121.2 551.9l-1 1M1050.3 871.7l1.5 2.3M1042.7 900.9l-0.2 1.5M1321.6 735.6l-0.3 1.2M1257.9 858.7l-0.1 2M1166.4 731.5l-0.4 3.8M1208.4 585.5l0.6 0.7M1288.5 723.7l0.8 2.4M1244.5 853.6l-3 2.3M1175.3 790.4l-2.7 1M1294.8 898.1l-1.4 1.1M1297.2 603l-0.9 0.1M1193.6 646.5l-1.1 2.2M1312.4 865.3l-0.6 2.1M1188.7 568.2l-1.2 0.1M1277.2 900.3l3 1.1M1131.7 855.4l0.3 1.1M1251.8 551.7l-1.3 0.9M1086 720.2l-1.5 1.5M1087.1 804l-1 0.2M1092.7 791l-2.9 0.5M1172.6 774.8l-0.6 3.3M1077.9 865.9l0.2 2.1M1333.1 934.3l1.7 0.3M1044.1 623.6l-2.8 2.4M1273.9 939.8l-0.6 0.8M1320.2 587.9l0.1 1.3M1211 594.9l3.1 0.2M1123.5 699.4l-2.9 0.7M1132.2 895.7l0.4 0.8M1300.4 678.1l-2.7 1.5M1238.2 589.5l-2.4 1.5M1090.6 661.7l3.2 1M1312.7 585.7l-1.7 1M1140.5 759.6l0.8 1.9M1338.2 569.9l-1.9 2.9M1325.8 650.5l-0.8 0.5M1124.2 600.8l3.8 0.3M1176.3 940.5l-2.4 1.5M1146 746.8l-0.9 0.4M1232.6 927.2l-2.5 0.2M1260.4 939.2l-0.4 3.6M1334.2 889.4l1.6 0.4M1317.8 929.8l-0.9 2.2M1053.2 738.6l-1 3.1M1333.5 603.8l2 1.3M1202.6 834.7l0.9 0.4M1353.8 774.9l-1.8 1.4M1286.3 681l-0.9 1.2M1201.4 643.6l-0.4 0.8M1052.4 900.9l-1.4 1.3M1181.9 589.8l2.7 0.7M1354.5 646l-1.9 0.1M1234.3 848.2l1 0.5M1271.5 813.4l1.1 0.3M1222.1 600.5l1.5 1.1M1160.9 668.9l-0.3 0.9"/>
<path opacity="0.65" d="M1255.7 912.4l1.2 2.9M1333.5 879.3l2 0.1M1053.7 698.3l0.8 0.2M1239.1 838.8l-0.2 0.6M1202.1 577.1l-1.1 3.6M1230.7 671l3.2 1.3M1230 815.3l1.6 0.1M1335 863.2l2.5 3M1111 775.7l-0.4 2.3M1310.6 937.6l0.8 0.5M1125.3 674.4l0.5 3.4M1268.3 650.6l0.9 0.8M1221.4 882.6l0.4 2.6M1224.8 664.3l0.2 2.6M1195.3 586.7l-0.2 0.8M1266.5 674.6l-1 2.4M1205.6 594.4l-2.3 3M1120.4 827.1l-0.5 1.9M1084.4 696.7l-2.9 2.3M1253.9 715.3l0.3 0.9M1343 550.9l1.5 1.8M1304.5 669.5l1.9 1.9M1067.2 551.3l1 0.6M1266.2 597.4l-2.1 1.5M1188.4 665.8l1.1 2.3M1207.4 797.8l-1.5 2.2M1139 615.8l0.5 1.4"/>
</g>
<g fill="none" stroke="#256a6a" stroke-linecap="round" stroke-width="7.8">
<path opacity="0.24" d="M1050.1 942.9l-1.3 0.2M1264.5 569.6l-0.1 0.8M1320.9 782.6l-0.7 0.2M1323.3 617.2l1.9 0.1M1046 746.8l0.7 3.5M1314.1 619.6l0.6 3.9M1206.8 606l1.6 2.2M1260.3 869.5l1 1.5M1207.2 849.9l1.1 2.3M1198 920l-0.2 0.8M1345.6 695.6l-3.7 0.4M1139.8 603.9l-1.7 1.2M1088.2 726.8l-1.5 3.3M1117.9 767.2l-0.3 2.2M1211.5 914.1l-1.9 0.2M1174.8 838.2l0.8 1.3M1146.2 769.9l3.4 0.1M1078.2 663.8l3.7 1.6M1198.7 891.4l2.5 2.9M1197.8 941l0.6 3.9M1158 870.6l-0.7 3.8M1272.2 929.3l0.5 3.9M1351.4 871.1l0.1 0.7M1145.4 609.6l-0.3 1.2M1158.1 707.6l-0.9 0.2M1290.3 745.3l0.1 3.6M1182.9 664.9l0.2 3.2M1053.7 800.3l1 0.7M1314.9 686l-0.8 1.8M1094.5 905l0.3 1M1285.6 814l-1.7 1.6M1314.6 756.6l-0.9 1M1234.1 704l0.5 0.6M1271 552.8l-1.7 0.6M1280.6 625.4l-1.8 3.2M1163.5 722.1l-1.1 3.4M1336.3 767.4l-1.3 1.9M1224.7 851.7l1.9 0.1M1303.8 929.9l2.8 0.3M1111.4 926.6l-0 1.7M1164.6 857.5l1.4 0.4M1041 707.6l1.4 0.1M1355 763.1l-1.2 0.6M1174.6 698.4l0.4 3.7M1329.4 898.6l2 2.9M1070.6 924.4l0.2 0.8M1244.8 696l0.3 1.5M1071.9 612.7l3.5 0.6M1357.7 888.7l-1.5 0.7M1093.8 780.3l2.8 2.1M1250.7 939.1l0 1.8M1053.8 881.6l0.1 3.1M1178.4 885.4l0.6 1.1M1302.9 648.1l-1.3 3M1272.2 834l-0.1 3.4M1252.8 598l-0.9 2.8M1072.5 786.2l0.7 2.1M1343.6 708.8l-1.1 1.5M1115 900.6l-0.9 0.5M1147 580.3l0.7 3.2M1141.9 847.5l2.3 0.7M1193.8 854.7l0.6 0.5M1156.7 770.2l2.7 2.1M1155.5 653.9l1.2 0.8M1145.3 790l-2.1 2.8M1171.1 608.9l3.9 0.6M1097.2 853.1l3.3 2.2M1157 833.4l-1.8 2.1M1118 749.8l0.3 1.1M1140 775.1l-0.9 3.6M1284.3 763.9l-0.2 0.7M1138.6 862.2l0.7 3.7M1320.8 747.3l-0.3 3.6M1138.5 924.6l-1.8 1.7M1331.7 798.1l0.3 1.5M1218.7 582.3l-1.3 0.3M1041.2 841.3l1.2 0.5M1284.5 791.5l-1.7 3.5M1245.5 663.6l1.6 3.3M1318.2 858.2l-0.4 0.8M1185.5 579.1l1.1 0.6M1185.3 844l0.7 0.6M1353.2 853.8l-2.6 1.6M1156.7 584.9l0.7 3.3M1314.7 693.9l2.8 2.6M1238 743.7l-2.2 0.3M1316.2 772.9l-2.3 0.8M1155.1 633l-0.6 0.9M1215.2 816.1l1.5 0.6M1302.7 941l-1.1 0.6M1292.3 645.6l-2.7 2.3M1223.5 652l0.8 0M1236.1 787.1l1.6 0.8M1086.8 687.9l1.6 0M1323.5 593.5l-1.4 2.4M1139 667.3l-2.4 0.1M1059.5 940.3l-1 2M1127.7 879.9l0.2 0.7M1119.7 594.6l-0.5 2M1050.6 618.8l1.9 0.1M1150.7 617.2l-0.7 2.2M1218.1 674.5l2.3 1.9M1267.4 864.7l0.7 0.2M1334 697.1l2.5 2.2"/>
<path opacity="0.34" d="M1099.7 598.6l-0.2 1.4M1344.6 673.9l-1.6 0.3M1139 625l0.4 1.8M1198.1 754.5l3.7 0.7M1158.7 778.9l0.7 2.4M1356.1 840.7l-0.9 1.6M1056.1 930.7l-2.5 1.5M1251.4 614l2.6 0.6M1057.3 747.5l1.2 1.7M1232.9 567l-2.2 2.4M1310.4 643.2l-0.4 0.6M1096.5 865l-1.1 1.3M1320.9 766.2l0.7 0.5M1160.7 642l1.7 0.3M1138.1 589.2l2.5 2.1M1096.5 737.6l-0.7 1.2M1149.3 698.6l-2.9 1.8M1150.6 863.3l0.2 2.5M1169.8 600.1l0.2 2.3M1180.6 869l1.5 0.2M1180.3 821.9l1 3.9M1290 617.5l0.1 3.5M1119.1 846.5l3.3 1.6M1149.5 826l3.1 1.9M1040.9 830.8l0.3 0.6M1345.8 863.3l0.8 0.1M1281.3 838.9l-1.7 3.4M1195.7 818.6l-1.7 1M1164.4 714.1l2.4 0.5M1043.4 810.1l1.7 2.7M1274.6 890.8l2.9 2.2M1080.8 706.5l0.5 0.8M1190.4 808.8l2.1 1M1225.6 723.1l2.2 2.3M1261.4 839.8l1.1 0M1096.2 807.8l1.4 2.5M1168.1 935.9l2.5 1M1239.5 876.3l-1.4 2.8M1204.5 901.7l0.5 0.6M1100.8 718.5l0.8 0.9M1155.4 894.3l1.2 2.1M1102.2 670.7l-1.5 1.5M1124.3 562.5l3.8 1M1176.9 714.1l-1.2 1.3M1148.7 624.3l-1.9 3M1260.5 685.2l0.8 1.6M1298 766.7l-0.7 0.5M1256.2 564.7l-3 1.7M1310.1 598.6l0.7 2.6M1356.4 733l-0.7 1M1088.9 932.2l-0.6 0.2M1247.4 788.3l3.8 0.3M1174.6 552.9l0 3.4M1054.1 843.3l-3.5 0.7M1125.8 933.9l1.8 0.7M1273 870.3l0.9 0.7M1330.8 759.2l-2.3 0.6M1223.1 900.4l0.8 1.5M1296.7 888.7l1.2 0.6M1291.7 841.8l0.4 2.7M1056.4 639.5l-1.4 3.7M1105.9 889l3 1.4M1079.6 746.7l1.2 0.9M1190.1 718.5l-0.8 0.5M1235.6 678.4l-3.3 1.1M1118.7 570.3l-1.1 1.5M1333.2 915.8l-0.5 1.9M1058.7 723.5l1.1 1M1212.6 733.4l1.7 1.1M1231.7 638.2l2.7 0.7M1249.2 841.9l-2 0.2M1141.1 833.5l0.3 0.7M1042.5 645.4l1.6 2.5M1092.2 899.7l-0.4 0.8M1272.2 705.9l2.5 2.5M1116.5 668.2l0.6 0.8M1141.9 679.5l2.6 1.7M1215.6 631.6l-0.3 0.8M1332.2 551.1l0.4 1.7M1354.7 918.6l-1 1.4M1339.3 665.1l0.8 0.1M1276.2 677.8l2 0.6M1126.5 739.3l3.7 0.7M1225.8 743.3l-0.2 0.8M1325.5 719.5l-0.3 1.4M1246.6 893.1l1.2 0.2M1260.8 642.9l-0.4 1.4M1154.8 555.9l1.5 2.1M1345.7 780.9l1.5 0M1095.2 872.1l-0.6 2.5M1077.3 725l-1.3 3.8M1168.1 752.8l2.4 1.3M1277 770.9l-1.1 3M1302.6 735.9l0.4 0.8M1349.5 902.4l0.4 1.7M1280.8 878.5l0.5 3.2M1315.4 729.1l-0.2 1.3M1210 807.9l-1.4 0.5M1195.7 789.6l0.5 0.8M1116.6 810.2l2.6 0.4M1242.4 619.3l-3.3 0M1251.5 635l3.4 0.7M1270.3 783.6l0.2 2.6M1062 930.6l1 0.5M1174.8 754.1l1.3 1.3M1130.9 679.3l3.3 1.9M1060.5 699.9l-1 0.1M1081.3 930.1l-2.8 2.8M1062.3 894.5l-1.8 0.7M1066 828.7l-0.7 1.6M1087.4 633.9l-3.1 1.4M1295.3 658.4l-1.6 2.9M1184.5 771l-2.6 1.2M1041.4 699.6l-3.5 1.7M1270.3 880.1l-1.2 1.8M1105 784.5l-0.4 2.4M1056.1 689.6l1.7 0.8M1047.6 654.1l1.6 1.6M1153.7 874.3l-3.4 1.8M1163.3 902.1l-0.1 1.1M1069 720.3l-1.1 0.7M1335.7 717.4l0.9 0.1M1072.3 679.9l-0.7 0.1M1321.5 552.8l0.3 0.9M1352.6 580.6l0.8 1.1M1247.2 921.9l-0.5 0.6M1280.7 688.9l0.3 3.9M1326.6 884.5l1.5 1.3M1041.3 799.3l-1.3 2.3M1264.3 932.9l-2 1.8M1123.9 757.7l-2.5 2.3M1240.9 812.3l-0.8 1.3"/>
<path opacity="0.45" d="M1084.5 875l-0.5 2.2M1251.3 623.9l-1.3 1.8M1053.4 756.5l3 1.1M1211.3 717.5l0.2 3.6M1190 630.5l-3 0.2M1159.4 841.8l-0.4 2M1126.4 612.8l-1 0.3M1350.9 626.8l-0.9 0.8M1165.6 891.2l1.5 2.4M1279.1 700.2l3.7 0.1M1328.8 710.9l1.3 2.2M1143.1 928.5l3 1.1M1299 668.8l1.2 1.9M1187.5 795.5l-0.6 1.7M1042.6 581l3.3 1.1M1256.1 829.8l0.7 0.6M1091.7 919.9l-0.7 2.7M1073 696.8l-0 1M1058.3 596.3l-0.6 3.1M1064.8 791l0.5 1.4M1140.7 874.8l-0.3 0.6M1108.9 625.2l-0.7 2.4M1322.7 660.4l-0.6 3.3M1149 652.1l-2.4 1.7M1213.6 748.2l1 0.4M1256.1 657.3l-1.9 3.2M1332.6 811.2l0.5 0.7M1198.7 844.2l1.1 2M1075.8 754.4l-1.5 0.7M1192.5 596.7l-0.6 0.1M1233.9 713.2l3 0.6M1065.6 820l0.9 3.3M1073.2 907l-0.5 2M1348.7 577.1l0.2 0.9M1326.3 567.9l-0.8 2.1M1180.9 739.8l-0.8 0.6M1059.9 628.4l-3.6 1.2M1295.6 919.8l-3.1 2.1M1222.8 758.8l-1.1 1.1M1067.5 681.5l-2.8 2M1332.9 562.2l-3 0.7M1223.1 627.1l-0.6 1.8M1103.1 831.8l-1.6 0.6M1350.4 561.5l0.5 0.5M1040.9 659.8l-2.5 1.8M1116.7 795.2l1 1.1M1118.4 657.7l2 0.7M1138.9 902.4l-1.5 2.1M1194.4 879.9l-1.9 2.3M1254.6 930.4l1.3 2.4M1174.7 575.5l0.1 1.1M1344.7 922.4l-1.8 0.4M1164.3 818.9l0.5 1M1095.3 633.6l0.5 1M1104.8 919.6l0.6 2.8M1358.2 574.1l-2.1 0.1M1250.7 768.7l-0.8 0.5M1193.6 902.7l-1.8 1.4M1125.1 632.4l3.4 0.7M1309.2 799.7l-0.5 2.6M1230.7 749.4l3.6 1.4M1268.2 774.8l1.2 0.8M1354.8 668.4l-0 1.4M1248 805.7l-2.4 1.3M1182.4 924.2l0.4 0.7M1194.8 929.9l-0.5 0.7M1044.9 778.5l-1.7 0.6M1132.5 825.2l2.4 2.1M1226.6 832.2l1.8 3.4M1144.1 660.8l1.6 1.3M1145.6 560.5l0.6 0.5M1274.5 638.6l1.3 1.7M1275.4 592.9l2.8 0.1M1086 622.1l1.8 0.9M1213 674.8l0.8 1.5M1069 915.9l-2.2 2.6M1337.4 737.1l1.2 3.7M1336.3 619.5l-2.2 1.1M1113.1 805l1.4 1.3M1222.8 711.1l-1 0.5M1276.9 577l-3.3 0.2M1169 721.7l2.9 0.8M1282.4 940.7l1.3 0M1234.4 888.4l-1.1 2.6M1295.2 594.8l0.2 1.1M1162.7 790.1l0.8 1.3M1356 792.1l-0.8 0.4M1215.4 929.6l-2.3 2.7M1112 730l1.7 3.6M1193.7 770.6l3 1.1M1081.1 796.8l-2.8 1.6M1319.2 710.4l-0.3 3M1333.7 942.9l-1.6 0.1M1076.9 840.5l2.2 1.2M1287.8 889.5l-1 0.4M1081.3 603.9l-2.3 1.1M1060.3 860.9l2.2 1.1M1134.7 599.9l-2.3 0.3M1182.7 782.8l-2.5 1.5M1106.7 840.8l-1 1.6M1260.9 767.3l-0.4 3.3M1230.8 791.9l-1.9 0.8M1352.9 604.1l-0.8 1.2M1339.7 935.6l3 0.4M1277.7 558.6l0 1M1257.2 813.2l0.4 1.3M1291.6 735.7l-1 0.3M1232.7 804l-3 1.5M1305.6 818.1l-1.9 2M1294.1 578.1l2.7 2.9M1344.2 649.8l-2.1 0.7M1343.6 870.8l-0.1 2M1279.2 601.1l-1.6 3.1M1087.3 814.2l-0.9 0.5M1146.5 759.4l3.6 0.1M1166.9 765l1.1 0.7M1060.1 809.7l2.2 1.7M1179.1 931.8l0.5 2.4M1135.1 692.6l2.6 2.8M1159.4 605.3l0.9 2.7M1248.8 874.9l-0.9 0.7M1098.4 607.2l-0.1 2.4M1162.3 921.7l1.2 0.2M1116.3 631l-1.3 3M1357.3 721.1l0.3 1.2M1331.4 747.1l-1.6 0.6M1088.3 829.4l3.4 1.9M1184 879l0.7 0.5M1233.5 627.6l1.4 0.7M1108.1 590l-1.8 1M1066.9 756.2l-1.2 0.3M1321.1 791.7l-1.8 2.2M1155.5 729.7l-1.8 0.4M1111.9 755.8l0.7 2.4M1122.8 900.8l3 1.1M1173.5 818.3l-0.4 1.8M1102.3 626.6l1.4 0.3M1292.6 834.1l3 1.2M1137.4 736.2l0.6 2.7"/>
<path opacity="0.55" d="M1321.8 640.6l1.5 0.1M1307.2 776.7l0.4 0.8M1343.4 804.2l1.7 2.2M1137.3 785.3l-2 1.2M1215 686.5l-1.8 1.8M1189.4 835.9l-0.5 1M1149.6 597.7l1.1 0.2M1235.5 557.6l3.9 0.5M1208.7 815.9l-1.6 2M1159.2 934l-2.4 2.6M1095.7 883.7l-0.6 3.2M1085.6 905.4l-1.4 0.5M1343.6 908.3l-0.5 3.4M1323.2 838.9l1.4 1.2M1113.9 840.2l1.9 1.4M1348.3 654.2l0.5 2.3M1177.8 585.8l0.6 0.5M1106.7 634.4l0 1.4M1145.8 799.6l-0.2 1.6M1073.1 853.7l-0.2 0.9M1083.6 898.6l-1.3 0.7M1343.3 722.7l1 0.9M1305.4 833.7l-1.6 1.5M1351.3 746.9l1.2 0.4M1297.6 720.3l3.9 0.5M1080.6 820.3l-1.2 1.8M1177.5 906.5l-0.1 2.6M1114.6 739.3l0.9 0.7M1129.1 869.3l1.5 0.7M1302.9 870.5l-3.4 1.9M1179.5 802.9l-0.1 3.5M1345.2 793.1l1.9 0.2M1358.4 686.7l-4 0.4M1248.1 656.2l-2.9 1.2M1200.7 666.3l0.9 0.9M1254.7 776.5l0.9 3.5M1217.4 805.8l0.3 2.3M1170.4 863.1l1.9 1.1M1122.1 881.8l-2.5 2.4M1105.1 767.5l-0.5 1.5M1358.9 929.2l-2.9 1.6M1111.2 559.2l0.1 1.5M1314.4 786l-1.6 3.1M1106.1 688.1l-2.2 2.6M1116.6 915.2l0.6 1.5M1285 861.9l0.3 1M1240.9 768.3l-0.5 3.7M1303.7 919.4l-0.7 1.8M1161 887.5l0.1 0.8M1167.4 829.6l0.4 3M1091 712.6l3.1 1.1M1357 630.2l-2.1 1.9M1354.5 703.8l-0.6 0.5M1240.5 824.4l-2.6 1.8M1243.9 566.2l0.9 0.3M1192.7 658.9l-2.5 0.9M1096.7 728.6l1.6 2.1M1071.5 745.5l1.3 0.9M1236.7 580.1l-0.7 0.3M1244.1 777.3l0.6 3.1M1148.7 638.9l-1.4 0.5M1160.8 740.6l3.4 1.6M1070.4 896.7l0.2 3.1M1050.7 552.9l0.2 2.2M1143.3 896.8l0.7 0.9M1187.5 913.6l-1.2 1.7M1170.1 800.4l0.9 0.5M1279.8 820.8l-1.5 3.7M1294 790.7l-3.7 0.4M1288.3 755.2l-0.7 2.3M1201.1 808.9l0.7 1.4M1169.7 783.7l-1.4 0.7"/>
<path opacity="0.65" d="M1150 838.2l0.1 2.3M1158.7 798.2l0.8 3.2M1199.8 624.9l1.5 1.7M1116.1 865.3l-1.8 2.9M1328.3 821.5l0.4 2.2M1064.7 732.4l-0.7 0.4M1163.9 658l3.6 0.7M1313.9 609l0.2 2.6M1301.4 904.7l-0.2 3.3M1190 692.9l0.7 0.9M1043.6 793.3l-3 0.9M1301.2 729.4l-2.6 1.7M1236.2 859.7l-0.9 1.2M1094.4 585.4l-1 1.3M1340.8 760l-0.9 2.3M1300.4 614.6l1.4 2.9M1176.4 634.4l0.3 2.9M1204.8 869.4l-0.7 0.1M1229.4 551.9l-1.6 0.3M1333.1 790.1l-0.2 1M1260.7 888.8l0.7 0.2M1259.8 604.8l1.1 1.8M1257.2 694.4l0.5 3.7M1271.9 621l-1 0.5M1132.5 841.7l2.9 1.3M1118.6 610.8l-2.2 1.1M1241.1 595.7l-1.7 2.8"/>
</g>
<g fill="#dc2424">
<ellipse cx="1184.5" cy="564.7" rx="4.2" ry="3.1" opacity="0.72" transform="rotate(125 1184.5 564.7)"/>
<ellipse cx="1185.7" cy="563.7" rx="4.2" ry="3.2" opacity="0.72" transform="rotate(110 1185.7 563.7)"/>
<ellipse cx="1182.5" cy="567.8" rx="4.2" ry="3.1" opacity="0.72" transform="rotate(0 1182.5 567.8)"/>
<ellipse cx="1049.8" cy="593.1" rx="3.7" ry="3.1" opacity="0.64" transform="rotate(173 1049.8 593.1)"/>
<ellipse cx="1046.4" cy="590.6" rx="3.3" ry="2.2" opacity="0.64" transform="rotate(129 1046.4 590.6)"/>
<ellipse cx="1109.5" cy="612.9" rx="3.4" ry="2.9" opacity="0.4" transform="rotate(52 1109.5 612.9)"/>
<ellipse cx="1110.1" cy="613.8" rx="3.2" ry="2.5" opacity="0.4" transform="rotate(34 1110.1 613.8)"/>
<ellipse cx="1073.9" cy="635.8" rx="3.2" ry="2.2" opacity="0.76" transform="rotate(145 1073.9 635.8)"/>
<ellipse cx="1070" cy="632.9" rx="4" ry="3.5" opacity="0.76" transform="rotate(101 1070 632.9)"/>
<ellipse cx="1087.3" cy="638.5" rx="2.4" ry="2.3" opacity="0.56" transform="rotate(22 1087.3 638.5)"/>
<ellipse cx="1085.7" cy="639.2" rx="3.1" ry="2.5" opacity="0.56" transform="rotate(43 1085.7 639.2)"/>
<ellipse cx="1193.8" cy="636.6" rx="4.5" ry="3.8" opacity="0.76" transform="rotate(67 1193.8 636.6)"/>
<ellipse cx="1189.9" cy="636.6" rx="5" ry="3.1" opacity="0.76" transform="rotate(74 1189.9 636.6)"/>
<ellipse cx="1195.2" cy="635" rx="4.9" ry="4.6" opacity="0.76" transform="rotate(128 1195.2 635)"/>
<ellipse cx="1287.1" cy="613.1" rx="3.8" ry="2.7" opacity="0.64" transform="rotate(15 1287.1 613.1)"/>
<ellipse cx="1290.6" cy="614.8" rx="3.2" ry="2.7" opacity="0.64" transform="rotate(141 1290.6 614.8)"/>
<ellipse cx="1304.4" cy="644.8" rx="5.6" ry="3.9" opacity="0.72" transform="rotate(80 1304.4 644.8)"/>
<ellipse cx="1306.8" cy="644.8" rx="5.4" ry="3.8" opacity="0.72" transform="rotate(63 1306.8 644.8)"/>
<ellipse cx="1304.7" cy="640.7" rx="6.5" ry="5.7" opacity="0.72" transform="rotate(136 1304.7 640.7)"/>
<ellipse cx="1165.5" cy="638.7" rx="3.1" ry="2" opacity="0.36" transform="rotate(57 1165.5 638.7)"/>
<ellipse cx="1163.2" cy="637.6" rx="3.1" ry="2.2" opacity="0.36" transform="rotate(4 1163.2 637.6)"/>
<ellipse cx="1058.1" cy="674" rx="3.3" ry="2.5" opacity="0.72" transform="rotate(94 1058.1 674)"/>
<ellipse cx="1059.7" cy="673.9" rx="3.7" ry="3.2" opacity="0.72" transform="rotate(131 1059.7 673.9)"/>
<ellipse cx="1220.1" cy="705.4" rx="4.5" ry="3.7" opacity="0.72" transform="rotate(124 1220.1 705.4)"/>
<ellipse cx="1218.6" cy="706" rx="4.4" ry="3.5" opacity="0.72" transform="rotate(26 1218.6 706)"/>
<ellipse cx="1220.2" cy="704.1" rx="3.9" ry="3.5" opacity="0.72" transform="rotate(33 1220.2 704.1)"/>
<ellipse cx="1140.8" cy="709.5" rx="3.9" ry="2.6" opacity="0.4" transform="rotate(172 1140.8 709.5)"/>
<ellipse cx="1136.3" cy="708" rx="4" ry="2.8" opacity="0.4" transform="rotate(43 1136.3 708)"/>
<ellipse cx="1350.2" cy="658.6" rx="4" ry="3.2" opacity="0.36" transform="rotate(70 1350.2 658.6)"/>
<ellipse cx="1347.8" cy="658.6" rx="3.1" ry="2.8" opacity="0.36" transform="rotate(164 1347.8 658.6)"/>
<ellipse cx="1289.5" cy="750" rx="4.5" ry="2.8" opacity="0.4" transform="rotate(119 1289.5 750)"/>
<ellipse cx="1287.6" cy="750.6" rx="4.4" ry="3.7" opacity="0.4" transform="rotate(32 1287.6 750.6)"/>
<ellipse cx="1124.9" cy="756.8" rx="4.4" ry="3.3" opacity="0.32" transform="rotate(174 1124.9 756.8)"/>
<ellipse cx="1126.6" cy="756.7" rx="4.5" ry="4.1" opacity="0.32" transform="rotate(101 1126.6 756.7)"/>
<ellipse cx="1064.5" cy="801.9" rx="5.2" ry="4.3" opacity="0.44" transform="rotate(110 1064.5 801.9)"/>
<ellipse cx="1069.6" cy="803.5" rx="4.5" ry="3.3" opacity="0.44" transform="rotate(64 1069.6 803.5)"/>
<ellipse cx="1063.9" cy="803.9" rx="4.9" ry="3.8" opacity="0.44" transform="rotate(30 1063.9 803.9)"/>
<ellipse cx="1089.7" cy="808.5" rx="3" ry="1.8" opacity="0.4" transform="rotate(4 1089.7 808.5)"/>
<ellipse cx="1092.8" cy="808.5" rx="3.9" ry="2.9" opacity="0.4" transform="rotate(163 1092.8 808.5)"/>
<ellipse cx="1267.8" cy="803.2" rx="3.2" ry="2.5" opacity="0.36" transform="rotate(59 1267.8 803.2)"/>
<ellipse cx="1267.4" cy="801" rx="3.5" ry="2.4" opacity="0.36" transform="rotate(46 1267.4 801)"/>
<ellipse cx="1298.3" cy="831.2" rx="3.1" ry="2.4" opacity="0.6" transform="rotate(83 1298.3 831.2)"/>
<ellipse cx="1301" cy="832.4" rx="3.7" ry="2.4" opacity="0.6" transform="rotate(45 1301 832.4)"/>
<ellipse cx="1322.6" cy="835.1" rx="2.9" ry="2.4" opacity="0.6" transform="rotate(6 1322.6 835.1)"/>
<ellipse cx="1323.1" cy="835.6" rx="3.4" ry="2.4" opacity="0.6" transform="rotate(117 1323.1 835.6)"/>
<ellipse cx="1239.7" cy="837.1" rx="3.2" ry="3" opacity="0.4" transform="rotate(50 1239.7 837.1)"/>
<ellipse cx="1239.1" cy="836.7" rx="3" ry="2.1" opacity="0.4" transform="rotate(162 1239.1 836.7)"/>
<ellipse cx="1075.3" cy="856.9" rx="3.9" ry="3.2" opacity="0.76" transform="rotate(12 1075.3 856.9)"/>
<ellipse cx="1074.3" cy="857.4" rx="4" ry="3.1" opacity="0.76" transform="rotate(123 1074.3 857.4)"/>
<ellipse cx="1284.7" cy="883.1" rx="2.7" ry="1.8" opacity="0.64" transform="rotate(119 1284.7 883.1)"/>
<ellipse cx="1280.7" cy="883" rx="3.3" ry="2.4" opacity="0.64" transform="rotate(158 1280.7 883)"/>
<ellipse cx="1347.6" cy="896.7" rx="3.8" ry="2.3" opacity="0.68" transform="rotate(21 1347.6 896.7)"/>
<ellipse cx="1345.5" cy="897.4" rx="3.2" ry="2.7" opacity="0.68" transform="rotate(46 1345.5 897.4)"/>
<ellipse cx="1287.4" cy="902.7" rx="3.4" ry="2.2" opacity="0.6" transform="rotate(178 1287.4 902.7)"/>
<ellipse cx="1288" cy="899.7" rx="3.7" ry="3" opacity="0.6" transform="rotate(47 1288 899.7)"/>
<ellipse cx="1267.2" cy="901" rx="3.6" ry="2.6" opacity="0.4" transform="rotate(113 1267.2 901)"/>
<ellipse cx="1269.8" cy="901.7" rx="3.6" ry="2.7" opacity="0.4" transform="rotate(94 1269.8 901.7)"/>
<ellipse cx="1154.1" cy="930.3" rx="3.2" ry="2.1" opacity="0.64" transform="rotate(74 1154.1 930.3)"/>
<ellipse cx="1158.2" cy="932.4" rx="3.7" ry="3.5" opacity="0.64" transform="rotate(94 1158.2 932.4)"/>
<ellipse cx="1093.9" cy="932.8" rx="3.6" ry="2.4" opacity="0.4" transform="rotate(143 1093.9 932.8)"/>
<ellipse cx="1095.2" cy="930.4" rx="3.4" ry="2.8" opacity="0.4" transform="rotate(92 1095.2 930.4)"/>
<ellipse cx="1214.1" cy="559" rx="2.9" ry="2.4" opacity="0.36" transform="rotate(153 1214.1 559)"/>
<ellipse cx="1214.3" cy="558.7" rx="3.1" ry="2" opacity="0.36" transform="rotate(60 1214.3 558.7)"/>
<ellipse cx="1310.9" cy="559.2" rx="3.6" ry="2.4" opacity="0.36" transform="rotate(44 1310.9 559.2)"/>
<ellipse cx="1311.9" cy="558.6" rx="3.6" ry="2.5" opacity="0.36" transform="rotate(86 1311.9 558.6)"/>
<ellipse cx="1262" cy="574" rx="3.3" ry="3" opacity="0.36" transform="rotate(159 1262 574)"/>
<ellipse cx="1262.4" cy="576.7" rx="2.8" ry="1.9" opacity="0.36" transform="rotate(165 1262.4 576.7)"/>
<ellipse cx="1320.4" cy="597.4" rx="2.6" ry="1.8" opacity="0.36" transform="rotate(167 1320.4 597.4)"/>
<ellipse cx="1321.1" cy="597.3" rx="2.7" ry="2.5" opacity="0.36" transform="rotate(93 1321.1 597.3)"/>
<ellipse cx="1051.2" cy="620.1" rx="2.6" ry="1.8" opacity="0.32" transform="rotate(177 1051.2 620.1)"/>
<ellipse cx="1051.4" cy="620.1" rx="3" ry="2" opacity="0.32" transform="rotate(119 1051.4 620.1)"/>
<ellipse cx="1242.3" cy="669.4" rx="3.8" ry="2.7" opacity="0.35" transform="rotate(165 1242.3 669.4)"/>
<ellipse cx="1109.1" cy="841.2" rx="4" ry="2.6" opacity="0.35" transform="rotate(143 1109.1 841.2)"/>
<ellipse cx="1200.9" cy="870.8" rx="3.7" ry="2.8" opacity="0.3" transform="rotate(127 1200.9 870.8)"/>
</g>
<ellipse cx="1132.7" cy="749.4" rx="3" ry="2.4" fill="#30d8d8" opacity="0.5"/>
<ellipse cx="1103.1" cy="873.8" rx="3" ry="2.4" fill="#30d8d8" opacity="0.4"/>
</g>
</g>
<text x="1065.2" y="586.7" font-size="24.6" font-weight="normal" text-anchor="start" fill="#fff" letter-spacing="0.5">-/- MDA5</text>
<rect x="1083.9" y="891.2" width="97.1" height="2" fill="#f2f2f2"/>
<text x="1094.2" y="921.6" font-size="24.4" font-weight="normal" text-anchor="start" fill="#fff" letter-spacing="0.5">100 µm</text>
<clipPath id="cdrig"><rect x="721.7" y="951.3" width="313.2" height="377.8"/></clipPath>
<rect x="721.7" y="951.3" width="313.2" height="377.8" fill="#0d0b0b"/>
<g clip-path="url(#cdrig)">
<g filter="url(#f90)"><rect x="691.7" y="921.3" width="1" height="1" fill="#0d0b0b"/><rect x="1064.9" y="1359.1" width="1" height="1" fill="#0d0b0b"/>
<circle cx="738.7" cy="1014.1" r="18" fill="#8a1414" opacity="0.45"/>
<circle cx="732.8" cy="1182.9" r="22" fill="#8a1414" opacity="0.4"/>
<circle cx="972.7" cy="1215.5" r="20" fill="#8a1414" opacity="0.4"/>
<circle cx="972.7" cy="978.5" r="18" fill="#8a1414" opacity="0.35"/>
<circle cx="904.6" cy="1141.4" r="20" fill="#8a1414" opacity="0.45"/>
<circle cx="1023.1" cy="1117.7" r="22" fill="#8a1414" opacity="0.4"/>
<circle cx="747.6" cy="1132.5" r="16" fill="#8a1414" opacity="0.4"/>
<circle cx="940.1" cy="1064.4" r="16" fill="#8a1414" opacity="0.4"/>
</g>
<g filter="url(#f25)"><rect x="691.7" y="921.3" width="1" height="1" fill="#0d0b0b"/><rect x="1064.9" y="1359.1" width="1" height="1" fill="#0d0b0b"/>
<g fill="none" stroke="#1f8886" stroke-linecap="round" stroke-width="9.3">
<path opacity="0.38" d="M1011.9 1309.6l-2.8 2M725.4 979.5l0.3 4.1M806.8 1064.3l3.7 1.8M727.1 1256.4l0.6 4.3M889.4 1325.1l-0.8 0.9M940.2 1131.1l-0.2 0.9M947.9 1236.7l-1.3 2.6M970.1 1060.5l-1.1 5.5M909.5 1330.2l2.6 0.2M923.3 1240.7l-2.1 4.4M821.4 1251.2l-0.8 0.7M952.9 1020.7l-2.9 3.1M996.6 953.2l-2.1 0.2M904.3 1122.4l-4.1 0.1M823.5 1038.2l-3 2.7M776.3 1252.1l-2.2 0.4M727.5 1125.3l0.4 5.5M1038.8 1074.2l1.8 2.9M772.4 1182.7l-1.7 2.1M725.2 1322.9l-1.8 4.9M1008.2 1098.1l0.3 2.4M836.9 990l2.2 0.7M882.4 1119.6l3.6 1.3M798.9 1226.5l0.5 0.8M931.4 1164.4l-2.3 3.1M767.2 965.9l-4.2 2.7M744.2 1245.8l-1 2.1M920.6 1299.8l-0.7 3.1M896.2 1217.4l1.8 0.2M959.9 1281.7l-4.1 0.3M728.8 1275.7l3.3 4.6M738.8 1318l2.7 2.7M852.6 1314.9l1.2 5.4M1005.9 1221.4l-2.8 2.7M859.4 1008.5l4.4 2M846.4 963.6l1.1 2.4M1036.6 972.5l-3.5 1.2M833.3 1108.9l-3.3 2.9M815.7 1017l-0.5 3.4M735.9 1182.6l0.7 5.4"/>
<path opacity="0.5" d="M831.5 966.8l-0.6 2.1M972.3 1169.3l-2.7 3.9M1027.5 1084.9l-3.4 2.9M898.5 1202.1l1.3 0.5M921.2 1018.5l1.3 3.5M757.7 987.8l-2.7 1.3M799.1 988.4l0.4 2.1M935.7 1317.7l2.1 4.6M753.7 1189.9l1.7 0.9M865.2 1117.3l4.7 2.7M838.1 1248.1l-0.1 3.5M851 1257.8l-3.1 2.1M1034 1191.4l2.4 2.7M899.7 1242.4l1 1.3M855.7 1070.1l2 2.9M821.1 1207.2l2.3 0.8M831.2 1322.4l-1 0.7M948 974.7l4.8 0M976.1 1240.3l1.9 0.7M965 985l0.3 2.1M1014.6 1047.3l-4.4 3.5M1015.8 1248.4l-2.8 0.5M996.9 1170.7l2.2 1.3M790 1040.2l-4.9 2.5M774.6 1022.3l1.7 2M716.5 1140.8l4.7 0.4M963.7 1007.3l1.5 3.5M997.6 1202.5l-4.9 2.9M805.8 1205.5l0.3 3M905.3 1024.1l1.9 4.4M810.5 963.4l-0.4 1.1M738.2 1304l1.5 0.7M957.8 1072.4l0.9 2.3M989.9 1066.8l1 3.6M964.3 1129.3l3.9 3.2M948.2 1150.7l4.2 1.1M880.1 961.6l-1.6 1.2M1010 1168l3.9 2.2M830.9 1305.7l-0.9 3.2M758.2 1079.5l-2.5 0M1032.2 1139.3l3.4 1M901.6 958.1l1.6 1.7M971.3 968.2l-3.3 0.9M761.7 1058.5l-3.7 4.2M832.8 1053l-2.4 0.3M1011.6 1144l-0.7 4.4M790.3 1188.5l1.7 2.5M778.5 1129.7l1.1 4.1M910.8 994.4l1 2.5M791.9 1258.5l1.1 0.2M745 1009.6l-2.5 2.5M983.4 1001.5l-0.7 1.3M770.7 945.2l-5.7 0.5M952.1 1254.3l-0.1 5M740.3 1213l-1.8 2.7M909.5 1163.6l1 2.5M849.9 1055.8l-3.7 0.5M934.4 953.9l-2.5 1.5"/>
<path opacity="0.61" d="M944.8 1110.4l-2.2 3.9M826.1 1087.1l-0.9 2M895.6 1302.4l1 0.6M907.5 1313.9l-1.4 0.8M938.9 1152.7l-3.6 0.3M809.7 1089.7l-1.1 0.4M943.2 1201.9l-1.5 1M912.9 967.2l-2.1 5.1M751.1 1265.8l2.2 3.1M942.3 1043l-2.7 4.8M992 967.7l-1.9 2.2M834.9 1065l3.7 4.3M732.9 988.6l4.3 2.5M1006.8 1231.9l2.5 4.1M1011.4 1273.1l-1.6 1.8M779 964.4l-0.9 2.9M728.8 1236.1l0.3 3.4M902.6 1139.7l-2.1 0.2M909.5 1088.2l-1.8 0.1M1019.9 1183.5l-2.4 4.2M865.9 961.6l-4.7 1.4M914.7 1008.8l-3.6 2.5M719.8 1317.1l-1.4 1.3M885.8 1208l-0.4 1M738.3 1170.2l0.5 2.4M986.2 1217.8l-1.4 2.1M840 1134.5l-1.4 2.4M984.5 1171l0.7 3.3M942.7 1083.9l-0.9 2M813.7 1274.5l5.4 0.3M855.1 1279.3l-3.7 2.4M830.5 952.7l0.6 3M971.9 1098.5l0.2 4.2M919.5 1315.3l1.3 2M940.1 1249.6l0.7 1M1018.1 1117.1l1 4.7M824 1232.5l0.6 0.8"/>
<path opacity="0.72" d="M928.9 1186.3l2.3 2.1M985.9 1037.9l0.7 1.2M980.3 1287.4l0.5 2.9M824.2 1162.2l1.8 1.1M909.5 1060.7l-1.9 0.7M865 1218.9l3.9 3.2M781.5 1226.8l-3.1 2.1M769.4 1160.4l-2.8 4.6M792.7 958.6l4.1 2.2M755.4 1113l-4.2 2.9M755.4 1328.6l2.3 1.1M1007.6 963.9l2 3.8M973.7 1076.4l3.9 4.2M840.9 1174.2l-2 4.7M847.6 1111l-0.4 4.9M737.3 1041l-3.5 1.9M841.1 1008.7l0.9 1.2M921.5 1074l-1.8 1.3M1030.3 1259.3l-3.8 0.9M939.3 1307.5l-0.9 1.5M794.6 1021.6l1.4 0.9M753.9 1160.9l1.1 0M993 1016.7l0.9 4.9M903.1 1290.1l2.2 1.4M935.6 967.9l0.9 2.8M768.3 1106.9l1.5 0M801.1 1309.9l-2 1M1025.8 1063.8l1.3 1.8M817.5 997.5l-3 1.9M1036.8 1289.8l2.1 1.4M799.1 947.6l-4.4 0.6"/>
<path opacity="0.83" d="M1009.8 1114l-1.5 3.4M791.7 1160.7l2.6 2.2M864 991.7l3.2 1.6M854.2 1039.5l-0.6 2.1M805.3 1014.8l1.4 3.3M878.1 1049.9l2.9 2.7M828.4 1003.9l-2.7 4.6M950.5 1185.2l5.1 0M1027.9 1203.3l-0.6 4.2M747.2 954.9l2 2.5M741.5 1148.2l-1.9 2.3M1028.7 986.6l3.6 3.7M872.4 1039.4l1 0.3M943.6 1288.2l1.6 0.5M1022.3 1104l-3.4 1.1M717.6 1035l0.8 5.1"/>
</g>
<g fill="none" stroke="#1f8886" stroke-linecap="round" stroke-width="11.4">
<path opacity="0.38" d="M801 1106.8l-3.6 4.1M894.8 1155.6l2.9 4.6M948.6 948.2l0.1 1.9M782.8 1208.3l4 0.3M748.5 1227.1l2.4 2.7M842.3 1207.7l1.8 0.9M919.6 1150.7l-1.1 2M891 1028.1l-1.8 3.6M816.7 1186.1l-1.7 3.5M1025.4 956.9l4.8 2.5M760.6 1142.9l2 3.4M838.3 1230.1l2.7 4.2M944.8 1072.2l-2 0.5M894.7 976.7l-0.1 2.9M719.7 1215l4.7 2.2M920.7 1127.8l1.5 2.4M860 1151.1l2 2.1M927.5 1212.7l4.9 1.1M979.8 952.9l2.7 2M805.2 1252.2l1.6 3.6M790.5 1064.9l-0.2 1.5M941.8 1002.4l4.4 2.7M859.3 1130.5l4.9 2.3M875.6 1325.5l-2.3 1.3M866.4 1057.3l-2.9 1.7M894 1043.9l2.1 1.6M872 945.8l1.6 4.9M760 1174.7l-2.9 0.3M942.1 1099.3l-4.6 1.7M951.6 1168.6l1.8 1.3M965 1205.1l-2.3 2.5"/>
<path opacity="0.5" d="M889.5 997.5l0.6 3.1M783.4 1120.8l-2.7 3M880.6 1226.7l-0.5 1.8M978.7 1019.4l0.3 2.4M729 1055.3l4.7 2.5M885.2 1009.6l-1.1 3.4M830.8 1287.4l-3.3 2.1M767 1282.6l-0.7 1.5M994.5 1139.4l3.9 1.5M811.5 1318.4l3.8 2.2M795.6 1054l5.4 1.1M803.4 1272.4l1.8 3.8M722.2 1182l2.5 0.1M758.7 1095.3l-4 2.8M1024.5 1156.1l1.3 2.7M976 1192.1l-3.4 0.9M765.7 1252.5l-5.7 0.4M744.2 1075.6l-2.1 2.1M966.2 1251.3l-1.4 0.2M874.7 1145.9l1.9 1.4M732.3 1201l3.2 4.4M980.8 1118.8l-1.9 0.8M866.8 1191.5l-2.5 4.2M999.3 1183.3l4.2 0.9M785.1 1153.2l-3.7 0.7M846.2 1327.4l0 1.9M923.7 1097.8l0.5 3M840.3 1095.4l1.1 3.9M916 1224.5l1.7 2.3M776.9 995.3l2.4 1.6M990.4 1274.5l1.8 4.8M939.9 1223.1l-1.4 5.2M770.3 1209.2l-1.1 0.3M729.7 1006.9l-4.3 3.3M852.1 1181.7l-1.7 3.8M785.9 1006.6l1 0.8M840.5 1147l-4.5 2.9M891.7 1189.7l0.7 4.1M844.9 950.8l3.2 2.6M860.5 1106.7l1.5 0.4M1007.6 1325.7l-0.7 2.2M1036 1173l-1.4 1.6M719.2 1291.3l3 0.3M893.3 947.9l-2.9 3.5M978.1 1324.4l3.9 1.6M851.2 1081.8l0.2 5.3M924 1058l-1.2 0.8M1030 1248.6l4.4 2M1002.6 1258.5l2.4 1.4M974.4 1278.8l2 2.6M807.6 1237l1.7 4M993.7 1148.9l1.4 3.6"/>
<path opacity="0.61" d="M905.8 1112.7l-1 0.8M897.5 1263.1l5.4 1.3M776.3 1319.9l-2.8 3M779.7 975.7l-0.9 0.9M864 1020.5l1.8 2.4M1024.8 974.3l1.4 2.9M852.4 979.3l0 2.4M1014 1202.3l-1 0.6M959.4 1304.6l-5.3 1.9M967.8 1266.6l1.1 0.8M823 1113.1l-0.5 2M984.4 1097.1l1.5 0.1M1029 1229.2l2 4.3M737.7 1130l3.6 1.1M931.8 990.6l-1.8 2M922.9 1286.8l1.8 1.2M805.1 1176.9l2.7 1.4M1025.4 1295.9l-1.7 2.6M987.8 1245.7l4.7 0.1M1011.9 998.9l-0.1 3.2M816.4 1147.6l-0.7 3M885.6 1313.6l3.5 0.6M721.7 1073.8l1.3 0.3M1033.4 1111.5l2.2 4.8M1000.9 1039.3l-3.8 2.3M977.9 1155.3l2.5 4.5M784.4 1097.1l-1.9 2.6M986.9 1258.9l-2.4 4.5M866.7 1302.1l1.3 3.2M806.1 1035.3l0.3 4M832.3 1263.5l4.8 0.4M933.6 1138.3l-1.1 1.4M795.8 1238.1l-0.2 1.6M807.9 1118.5l1.9 0.7M865.8 1273.9l-2.1 2.7M878.4 1099.2l3.5 0.9M810.7 948.2l-2.3 2.7M964.8 1329.2l-0.9 1.2M789.4 1295.2l1.9 3.5M814.9 1221.7l4.7 2.4M797.8 1142.1l-2 2.5M918 1269.1l1.5 2.2M853.1 994.2l-0.9 5.1M742.3 1088.3l-1.5 1.7M955.6 1052.2l2.2 2.5M897.4 1056l-1.4 0.9M720.6 991.5l-3.4 1M1036.2 1304.5l-0.9 1.1M778.1 1304.7l-3 4.2M978.6 1205.5l-1.2 4.7M790.7 1082.4l-2.6 0.9"/>
<path opacity="0.72" d="M967.5 1158.4l0.7 1.6M737.1 1103.9l2.5 3.9M742.6 1286.8l2 2.6M869.4 1161.6l2.8 4.5M767.9 1001.1l-1.5 3.2M881.1 1259.6l-0.8 3.3M1033.9 1005l-4.3 1.2M992.3 1081.9l0.6 0.9M721.1 1101.3l-0.3 1.9M915.8 954.6l-3.7 2.9M875.1 1181.7l2.3 0.7M861.5 1238.9l1 0.3M996 1303.3l3.5 2.6M718.7 1164.1l0.5 2M926 1117.9l5 0.2M857.7 1169.8l0.7 3.3M723.6 949.6l0.9 2.3M957.9 1219.9l-1.4 0.8M743.2 1049.8l1 1.9M874.9 1283.3l-1.1 0.9M828.2 1076l-3.2 3M1038.7 1052.5l-4.4 2.4M1006.1 1290.8l0.6 0.7M992.9 1111.7l-5.6 0.5"/>
<path opacity="0.83" d="M813.5 1289.8l1.8 2.5M751.6 1028.8l-2.5 1.3M1008.1 1019.2l2.5 1M751.9 1204.9l0.8 1.7M1030.9 1281.5l-4.3 1.1M790.7 1326.4l-1.8 1.3M775.1 1044.7l1.5 5M780.3 1287.7l-1.3 2.3M769.8 1124.1l-1.3 3.6M1025.6 1015.8l1.4 3.9M763.4 1295.2l0.1 2M757.3 1042.4l-1.5 1.2M814.5 1331.7l-2.7 4.6M758.1 1310.9l1.4 2.6M914.4 1196.8l-1.5 2.9"/>
</g>
<g fill="#e82a2a">
<ellipse cx="737.5" cy="1007.8" rx="7.4" ry="4.9" opacity="0.48" transform="rotate(120 737.5 1007.8)"/>
<ellipse cx="736.5" cy="1017.4" rx="7.3" ry="6.9" opacity="0.48" transform="rotate(52 736.5 1017.4)"/>
<ellipse cx="737.4" cy="1017" rx="7.7" ry="4.8" opacity="0.48" transform="rotate(103 737.4 1017)"/>
<ellipse cx="726.7" cy="1055.1" rx="5.2" ry="4.4" opacity="0.24" transform="rotate(26 726.7 1055.1)"/>
<ellipse cx="727.9" cy="1055" rx="5" ry="3.5" opacity="0.24" transform="rotate(79 727.9 1055)"/>
<ellipse cx="726.4" cy="1055.4" rx="6.5" ry="5.7" opacity="0.24" transform="rotate(12 726.4 1055.4)"/>
<ellipse cx="795.2" cy="999.9" rx="5.3" ry="4" opacity="0.24" transform="rotate(83 795.2 999.9)"/>
<ellipse cx="790.8" cy="1003.6" rx="5.2" ry="3.4" opacity="0.24" transform="rotate(2 790.8 1003.6)"/>
<ellipse cx="790.9" cy="1003.9" rx="6.3" ry="5.7" opacity="0.24" transform="rotate(157 790.9 1003.9)"/>
<ellipse cx="865.8" cy="1006.7" rx="5.5" ry="4.4" opacity="0.24" transform="rotate(65 865.8 1006.7)"/>
<ellipse cx="864.3" cy="1002.1" rx="4.5" ry="4.1" opacity="0.24" transform="rotate(90 864.3 1002.1)"/>
<ellipse cx="861.3" cy="1004.3" rx="5.8" ry="4.1" opacity="0.24" transform="rotate(105 861.3 1004.3)"/>
<ellipse cx="873.3" cy="1046.3" rx="5.7" ry="4.7" opacity="0.8" transform="rotate(36 873.3 1046.3)"/>
<ellipse cx="873.2" cy="1047.5" rx="6" ry="4.5" opacity="0.8" transform="rotate(37 873.2 1047.5)"/>
<ellipse cx="878.7" cy="1048.7" rx="5.6" ry="4.4" opacity="0.8" transform="rotate(58 878.7 1048.7)"/>
<ellipse cx="936.4" cy="1061.5" rx="7" ry="4.4" opacity="0.48" transform="rotate(14 936.4 1061.5)"/>
<ellipse cx="936.9" cy="1066.1" rx="6.6" ry="4.1" opacity="0.48" transform="rotate(73 936.9 1066.1)"/>
<ellipse cx="942.6" cy="1060.4" rx="7.8" ry="7.1" opacity="0.48" transform="rotate(28 942.6 1060.4)"/>
<ellipse cx="970.5" cy="982.1" rx="8" ry="7.2" opacity="0.24" transform="rotate(166 970.5 982.1)"/>
<ellipse cx="972.6" cy="982.6" rx="8" ry="6.4" opacity="0.24" transform="rotate(115 972.6 982.6)"/>
<ellipse cx="970" cy="977.2" rx="6.2" ry="4.9" opacity="0.24" transform="rotate(19 970 977.2)"/>
<ellipse cx="1024.4" cy="1076.5" rx="6.3" ry="5.9" opacity="0.48" transform="rotate(168 1024.4 1076.5)"/>
<ellipse cx="1026.2" cy="1076.3" rx="5.8" ry="5.1" opacity="0.48" transform="rotate(106 1026.2 1076.3)"/>
<ellipse cx="1022.4" cy="1070.7" rx="4.7" ry="3.5" opacity="0.48" transform="rotate(66 1022.4 1070.7)"/>
<ellipse cx="1022.5" cy="1097.5" rx="5.4" ry="4.4" opacity="0.44" transform="rotate(11 1022.5 1097.5)"/>
<ellipse cx="1028.5" cy="1098.2" rx="4.9" ry="4" opacity="0.44" transform="rotate(151 1028.5 1098.2)"/>
<ellipse cx="1029.3" cy="1097.8" rx="4.7" ry="3.8" opacity="0.44" transform="rotate(123 1029.3 1097.8)"/>
<ellipse cx="748.1" cy="1135.3" rx="8.5" ry="7.1" opacity="0.48" transform="rotate(11 748.1 1135.3)"/>
<ellipse cx="750.5" cy="1132.7" rx="7.2" ry="5.9" opacity="0.48" transform="rotate(104 750.5 1132.7)"/>
<ellipse cx="751.4" cy="1135.5" rx="7.2" ry="6.9" opacity="0.48" transform="rotate(173 751.4 1135.5)"/>
<ellipse cx="903" cy="1139" rx="7.7" ry="6.1" opacity="0.44" transform="rotate(151 903 1139)"/>
<ellipse cx="903.3" cy="1139.4" rx="8.2" ry="7.6" opacity="0.44" transform="rotate(50 903.3 1139.4)"/>
<ellipse cx="900.3" cy="1133.5" rx="6.8" ry="4.3" opacity="0.44" transform="rotate(34 900.3 1133.5)"/>
<ellipse cx="897.1" cy="1153.5" rx="4.4" ry="4" opacity="0.48" transform="rotate(161 897.1 1153.5)"/>
<ellipse cx="901.7" cy="1150.7" rx="4.4" ry="2.9" opacity="0.48" transform="rotate(55 901.7 1150.7)"/>
<ellipse cx="898.3" cy="1152.1" rx="5.6" ry="5.3" opacity="0.48" transform="rotate(85 898.3 1152.1)"/>
<ellipse cx="978" cy="1158.9" rx="5" ry="3.2" opacity="0.68" transform="rotate(31 978 1158.9)"/>
<ellipse cx="979.6" cy="1158.5" rx="6.1" ry="4.5" opacity="0.68" transform="rotate(68 979.6 1158.5)"/>
<ellipse cx="975.5" cy="1159.6" rx="6.3" ry="5.5" opacity="0.68" transform="rotate(55 975.5 1159.6)"/>
<ellipse cx="1024" cy="1133.6" rx="7" ry="6.5" opacity="0.48" transform="rotate(171 1024 1133.6)"/>
<ellipse cx="1020.7" cy="1142" rx="6" ry="5.2" opacity="0.48" transform="rotate(153 1020.7 1142)"/>
<ellipse cx="1021.6" cy="1141.1" rx="6.8" ry="4.5" opacity="0.48" transform="rotate(86 1021.6 1141.1)"/>
<ellipse cx="727.7" cy="1186.2" rx="9.1" ry="6.7" opacity="0.28" transform="rotate(18 727.7 1186.2)"/>
<ellipse cx="734.5" cy="1186.4" rx="9" ry="6.2" opacity="0.28" transform="rotate(57 734.5 1186.4)"/>
<ellipse cx="729.2" cy="1182.9" rx="8.9" ry="6.5" opacity="0.28" transform="rotate(84 729.2 1182.9)"/>
<ellipse cx="807.5" cy="1190.3" rx="4.8" ry="4.2" opacity="0.32" transform="rotate(34 807.5 1190.3)"/>
<ellipse cx="805.2" cy="1192.8" rx="4.8" ry="3.8" opacity="0.32" transform="rotate(20 805.2 1192.8)"/>
<ellipse cx="810" cy="1195.1" rx="4.9" ry="3.2" opacity="0.32" transform="rotate(12 810 1195.1)"/>
<ellipse cx="866" cy="1208.9" rx="6.3" ry="5.8" opacity="0.52" transform="rotate(118 866 1208.9)"/>
<ellipse cx="865" cy="1209.2" rx="6.2" ry="5.3" opacity="0.52" transform="rotate(64 865 1209.2)"/>
<ellipse cx="865.3" cy="1204" rx="5.9" ry="4.6" opacity="0.52" transform="rotate(100 865.3 1204)"/>
<ellipse cx="901.8" cy="1188.6" rx="6.5" ry="5.5" opacity="0.28" transform="rotate(102 901.8 1188.6)"/>
<ellipse cx="907.7" cy="1193.9" rx="5.4" ry="3.8" opacity="0.28" transform="rotate(70 907.7 1193.9)"/>
<ellipse cx="905.6" cy="1189.1" rx="5.5" ry="3.6" opacity="0.28" transform="rotate(82 905.6 1189.1)"/>
<ellipse cx="976.5" cy="1212.6" rx="7.3" ry="6.6" opacity="0.28" transform="rotate(118 976.5 1212.6)"/>
<ellipse cx="975" cy="1212.4" rx="7.4" ry="5.3" opacity="0.28" transform="rotate(173 975 1212.4)"/>
<ellipse cx="970" cy="1213" rx="9.6" ry="8.8" opacity="0.28" transform="rotate(38 970 1213)"/>
<ellipse cx="964.1" cy="1252.2" rx="7.2" ry="6.5" opacity="0.52" transform="rotate(32 964.1 1252.2)"/>
<ellipse cx="968.8" cy="1257.5" rx="6.7" ry="6.2" opacity="0.52" transform="rotate(137 968.8 1257.5)"/>
<ellipse cx="958.7" cy="1257.8" rx="5.6" ry="5.3" opacity="0.52" transform="rotate(112 958.7 1257.8)"/>
<ellipse cx="993.3" cy="1271.7" rx="4.6" ry="4.3" opacity="0.36" transform="rotate(159 993.3 1271.7)"/>
<ellipse cx="991.6" cy="1273.8" rx="4.4" ry="3.9" opacity="0.36" transform="rotate(4 991.6 1273.8)"/>
<ellipse cx="996.5" cy="1272.6" rx="4.6" ry="3.1" opacity="0.36" transform="rotate(102 996.5 1272.6)"/>
<ellipse cx="742.4" cy="1316.4" rx="7" ry="6.3" opacity="0.24" transform="rotate(137 742.4 1316.4)"/>
<ellipse cx="743.7" cy="1316.4" rx="6" ry="4.5" opacity="0.24" transform="rotate(157 743.7 1316.4)"/>
<ellipse cx="743.4" cy="1316.7" rx="7" ry="5" opacity="0.24" transform="rotate(134 743.4 1316.7)"/>
<ellipse cx="803" cy="1305.2" rx="5.5" ry="3.4" opacity="0.2" transform="rotate(175 803 1305.2)"/>
<ellipse cx="799" cy="1304.4" rx="4.3" ry="2.7" opacity="0.2" transform="rotate(178 799 1304.4)"/>
<ellipse cx="804.5" cy="1306.5" rx="5.7" ry="4.1" opacity="0.2" transform="rotate(140 804.5 1306.5)"/>
</g>
<ellipse cx="749.1" cy="1273.2" rx="4.1" ry="3.3" fill="#38dada" opacity="1"/>
<ellipse cx="746.1" cy="1319.1" rx="3.3" ry="2.6" fill="#38dada" opacity="0.9"/>
<ellipse cx="740.2" cy="1015.5" rx="4.1" ry="3.3" fill="#38dada" opacity="0.5"/>
<ellipse cx="1024.5" cy="1030.3" rx="4.4" ry="3.6" fill="#38dada" opacity="0.7"/>
<ellipse cx="860.1" cy="1101.4" rx="4.7" ry="3.8" fill="#38dada" opacity="0.55"/>
<ellipse cx="934.2" cy="1116.2" rx="4.7" ry="3.8" fill="#38dada" opacity="0.55"/>
<ellipse cx="960.9" cy="1132.5" rx="4.7" ry="3.8" fill="#38dada" opacity="0.5"/>
<ellipse cx="922.3" cy="1245.1" rx="5" ry="4" fill="#38dada" opacity="0.6"/>
<ellipse cx="1005.3" cy="1061.4" rx="3.9" ry="3.1" fill="#38dada" opacity="0.6"/>
<ellipse cx="889.8" cy="1073.3" rx="3.6" ry="2.8" fill="#38dada" opacity="0.55"/>
</g>
</g>
<text x="742.2" y="986" font-size="24.6" font-weight="normal" text-anchor="start" fill="#fff" letter-spacing="0.5">-/- RIG-I</text>
<rect x="750.5" y="1271.3" width="96.3" height="2" fill="#f2f2f2"/>
<text x="760.9" y="1301.3" font-size="24.4" font-weight="normal" text-anchor="start" fill="#fff" letter-spacing="0.5">100 µm</text>
<clipPath id="cdmav"><rect x="1042.9" y="948.2" width="312.1" height="380.9"/></clipPath>
<rect x="1042.9" y="948.2" width="312.1" height="380.9" fill="#190c0d"/>
<g clip-path="url(#cdmav)">
<g filter="url(#f90)"><rect x="1012.9" y="918.2" width="1" height="1" fill="#190c0d"/><rect x="1385" y="1359.1" width="1" height="1" fill="#190c0d"/>
<circle cx="1070.5" cy="1064.4" r="24" fill="#7a1010" opacity="0.3"/>
<circle cx="1227.5" cy="1182.9" r="28" fill="#7a1010" opacity="0.35"/>
<circle cx="1301.6" cy="1129.6" r="24" fill="#7a1010" opacity="0.3"/>
<circle cx="1183.1" cy="1017" r="22" fill="#7a1010" opacity="0.3"/>
<circle cx="1301.6" cy="1236.2" r="30" fill="#7a1010" opacity="0.25"/>
<circle cx="1094.2" cy="1177" r="26" fill="#7a1010" opacity="0.25"/>
</g>
<g filter="url(#f23)"><rect x="1012.9" y="918.2" width="1" height="1" fill="#190c0d"/><rect x="1385" y="1359.1" width="1" height="1" fill="#190c0d"/>
<g fill="none" stroke="#2a7e7c" stroke-linecap="round" stroke-width="7.5">
<path opacity="0.29" d="M1096.3 1327.3l2.4 3.4M1274.2 1116.8l-0.8 2.8M1144.7 1060.8l-0.9 4.1M1087.7 1000.7l1.1 1.2M1199.9 1333.2l4.1 0.4M1171.8 1097.6l-0.7 1.6M1046.4 1123.8l-3.6 2.3M1052.5 1265l1.8 3.4M1293.9 982.3l0.1 2.6M1135.9 1206.1l-1.5 2.1M1338.7 1083.8l-1.9 3.2M1074.2 1264.9l-0.5 0.9M1193.7 947.1l-2.6 1.6M1071.6 1192l-0.6 0.6M1171.8 1323.1l0.6 2.2M1188.9 1229.4l2.2 0.8M1251.3 1037.1l-1.4 1.2M1042.8 1299.5l-2.2 2.3M1312 1320.9l0.4 4.6M1207.5 1283.3l1 3.1M1116.1 1117.6l0.7 1M1319.8 1102.7l-1.3 1.5M1041.3 1204.1l1 0.1M1295.1 957l0.9 0.4M1311.3 1253.6l3.5 1.7M1157.9 1135.1l0.4 3M1156.2 1263.2l-1.3 3.5M1360.8 948.3l-1.9 3.9M1233.5 1018.3l0.6 3.1M1142.2 954l-0.6 1.4M1066.9 1280.9l0 1.1M1209.9 1302.1l-0.8 0.4M1072.5 986.6l-1.2 0.4M1119.9 1314.4l-0.3 0.7M1274.5 1273.4l4 1.2M1043.9 976.3l-0.9 1.6M1320.4 999.8l1 2.1M1320.1 1086.4l-3 3.6M1047 1174.5l1.2 0.1M1103 1312.7l1.4 1.1M1061.9 1024.4l-1 1.4M1299.9 1058.4l-3.3 1.6M1295.7 1255.2l1.5 1.6M1130.1 1034.6l-2.8 0.5M1355.4 1289.4l0.7 0.3M1175.9 954.5l-0.2 2.3M1094 1226.1l0.8 1.8M1156 1208.5l2.8 0.2M1202.1 1010.8l3.7 1.2M1255.7 1056.8l-2.1 3.3M1102.2 1016.4l-0.7 0.4M1169.8 1229.1l3.3 0.6M1302.3 964.4l2.8 1M1091.8 1025.1l-1.3 1.3M1248.1 1201.9l2 2.6M1160.6 1028.2l-1.9 2.3M1114.5 1091.1l-4 0.5M1260.4 1314.8l3.5 0.9M1076 1146.3l1.4 1.8M1333.1 1135.7l-0.6 0.5M1082.3 1044l-3.4 0.1M1233.4 1263l-3.5 1.9M1042.4 1213.9l-1.7 2.8M1257.4 1144.3l1.1 2.1M1353.4 1135.4l0.8 0M1234.6 1048l0.3 1.1M1317.4 1020.4l1 2M1124.2 955l1.5 1.1M1273.3 1007l-3.4 2.7M1189.9 1170.3l-1 0.4M1063.4 1199.6l-0.1 2.2M1101.6 1146.4l-1.3 1.1"/>
<path opacity="0.39" d="M1121 1014.7l-2.7 1M1241 1295.6l2.1 0.2M1082.9 1317.9l1.2 0.3M1123.5 1129.3l-0.3 1.7M1337.9 1272.5l3.2 1M1349.4 1105.4l0.9 0.2M1077.5 1081.4l-0.3 0.8M1228.1 1192.2l0.5 1.2M1056.7 1122.7l-1 0.3M1043.2 1273.3l1.6 0.3M1305.3 1085.4l-3.5 1.6M1247.6 1011.1l-0.5 4.2M1332.2 1105l0.6 1.5M1223.6 1158.4l-0.3 0.8M1307.4 993.5l-3.6 2.7M1077.2 1172.5l-3.2 0.4M1154.5 1251.5l-1.9 3.8M1120.4 993.1l2.2 3M1256.6 1134.6l-3 3.4M1196.1 1022.2l-3.5 0.5M1159.9 1042.5l-2.7 3.5M1261.5 1287.8l-3.8 0.4M1204.5 1035.8l3 1.9M1352.5 1172.5l0.4 1M1173.9 1046.8l-3 1.6M1168.8 1250.6l-1.9 2M1280.8 1056.7l4.2 0.7M1325.2 955.7l1.6 1.3M1155.3 1073.4l-2.7 1.9M1076.9 1330.1l1.7 2M1115.1 961.5l2 0.4M1054 1080.5l-4 0.6M1220 1048.6l0.7 2.7M1355.9 1215.1l-1.4 0.6M1075.6 1292.9l0.4 4.4M1234.1 1282.8l-3.9 0.2M1035.3 957.4l4.5 0.5M1275.4 1289.8l3 2.5M1063.3 1048.7l-2.5 1.7M1144.6 1305.7l-1.3 2.2M1326.6 1111.5l-0.2 0.8M1055.7 948.4l-1.1 3.3M1251.2 1073.1l-4 1.7M1178.8 1149.7l1.9 1M1358 1015.2l-2.1 1.9M1185.3 1328.1l-3.2 1M1109.1 1238.1l-1.3 0.1M1256.6 1084.1l-2.4 2.6M1211.8 1048.7l-1.6 0.1M1049.7 1158.3l-2.6 0.8M1122.7 1241.1l2.5 0.9M1116.5 1163.3l0.5 0.7M1187.6 1217.4l3.3 2.1M1289 1046.9l-1.3 0.8M1224.8 1241.2l-2.6 1.4M1255.6 1274l2 1.9M1088.5 1157.1l-1.2 2.4M1326.5 1067l0 2.2M1070 1117.3l0.8 1.9M1331.9 1145.7l-0.2 1.3M1240.5 1087.1l0.4 1.3M1103.1 1249.4l-0.4 1.8M1299.4 1239.4l1.8 1.9M1229.9 1145.1l-1.4 0.4M1221.1 1182.4l-0.6 0.8M1194.9 1052.3l-0.2 4.5M1317.7 962.7l-3.4 1M1115.1 1210.6l-1.1 0.9M1239.7 1187.3l-2.7 0.8M1291.6 1303.6l-1.1 3.9M1295.2 1070.5l-1.9 1.1M1081.9 1136.2l2 0.5M1284.2 1128.5l-2.1 2.6"/>
<path opacity="0.5" d="M1265.4 1266.7l-0.9 3.7M1352 991.6l4.6 0M1283.8 1150l-2.6 0.4M1119 1188.7l-4.5 0.1M1289.6 1103.2l1.3 1.3M1268.2 1257.9l-0.6 1.6M1127.5 1093.2l-1.4 0.8M1198.6 975.4l0.7 0.4M1114.1 1037.1l-2.4 0M1143 1034.4l3.5 2.8M1111.1 1261.1l-1.7 0.2M1342.7 1139.8l1 1.2M1178.7 1305l2.4 1.1M1236.3 1218.4l-4.4 0.8M1282.5 946.3l0.1 1.4M1159.6 1275.7l-1.9 1.8M1287.6 1019.1l-1.5 3.5M1270 1148.5l-1.7 0.2M1292.8 998.8l-0.2 0.8M1234.3 1140l2.9 0.5M1165.1 1004.6l-0.7 0.3M1203.7 1237.8l-1.8 1.2M1161.3 1301.2l0.2 1.1M1309 1109.4l-1.8 0.8M1074.9 1032.8l-0.8 2.8M1092.3 960.7l-0.6 2.3M1149.8 947l-1.1 1.2M1081.3 1099.8l2 1.4M1318.8 1315.5l0.4 0.7M1136.9 1043.9l-1.6 3.5M1086.6 1249l0.6 3.4M1168 1289.1l-2.5 3.4M1185.6 1311.7l3.4 2.6M1110.1 1154.3l1.8 3.8M1094.4 1032.8l0.1 1.4M1095.3 1319.8l-2.2 2.3M1295.8 1033.3l-1.4 0.9M1139.2 1018.9l-1.1 3.1M1198.7 1063.3l-1.2 2.7M1050.1 1107.2l-0.5 1M1160.1 1313.9l3.5 2.3M1140.9 1230.9l-1.5 3.3M1310.4 1067.9l0.6 1M1347.8 963.9l-2.7 0.4M1223 1207.4l1.6 3.4M1193.5 1299.6l2.3 2.2M1111.8 1132.4l-0.9 0.2M1323.1 1050.1l3.7 1.3M1284.3 1215.6l3.1 1.8M1276 1327.1l1.1 2.7M1190.7 1090.3l3.1 0M1170.5 1024.4l-0.3 1M1222.1 1262.4l0 1.4M1268.6 1198.1l1.9 2M1201.5 1082.4l-0.4 2.4M1288.9 1187.8l0.3 2.2M1304.2 1308l-1 1.1M1051.3 1020.7l-0.2 2.2M1097.8 1086.2l-1 1.3M1354.7 1093.7l-3.5 2.6M1186.3 1191l1.8 0.2M1237 1174.9l2.7 1.4M1064.5 1297l1.6 0.5M1272.6 951.1l4 1.2M1334.4 1217.5l0.2 3.6M1051.3 991.6l2 1.5M1206.8 948.5l-1.2 0M1219.7 1021.1l-2.3 0.9M1039.4 1100.9l1.2 2.1M1062.8 1163.1l3.4 3M1258.3 1121.7l-0 4.2M1175.4 1060.9l-0.8 0.2M1133.7 1123.6l3.5 1M1041.9 1136l-0.5 2.1M1353.8 1201l3.7 1.4M1143.9 1166.4l-1.1 3.6M1336.6 973.2l-4.3 0M1335.4 1260.1l2.3 2.3M1274.5 1045.9l2.8 2.3M1190.3 979.5l0.1 1.4M1118.5 1103l2.2 0.2M1180.3 1182.5l-4 1.1M1346.5 1045.3l-1 1.8M1182 1287.6l0.3 3.9M1263.5 1069.4l0.6 3M1171.1 1307l3.8 2.7"/>
<path opacity="0.6" d="M1255.3 1254.1l-2.5 0M1182.8 1061.7l0.2 4.1M1262.3 1108.2l-2.7 2M1356.8 1270.5l-2 1.4M1129.9 1279.2l-0.4 1.6M1274.2 1180.5l3 0M1149 1239.4l1.8 2.6M1277.4 1039.2l-1.9 0M1219.6 1034.4l-0.1 0.9M1092 1144l-3.4 0.9M1327.4 1228l-0.2 2.9M1109.4 1281l3.3 0.8M1333.1 1293.9l2.1 0.2M1044.9 1225.6l1.5 1.9M1319.8 1238.3l-3.3 2.5M1342.8 1209.1l2.4 1.1M1142.5 992.8l1.4 2.3M1121.5 1296.7l0.7 2.4M1167.6 982.2l-2.3 0.4M1291.4 1171.9l-0.8 2M1227.5 1324.2l-1.2 2.2M1195.4 1180.8l2.1 1.5M1095.4 1043.4l-0.3 1M1134.3 1167.6l-2.6 1.1M1284.7 1197.7l-3.9 1.8M1189.4 1248.9l0.7 2.9M1324.7 1078.7l2.5 2.1M1042.2 1031.9l-2.7 0.9M1072.3 1213.9l-2.9 1.7M1214.1 1248.9l-1.4 3.7M1166.3 1150.1l1.1 1.3M1226.7 1082l-0.7 0.8M1119 978.9l-2.4 2.1M1262.1 1229.5l0.2 3.4M1271.1 1219.8l-0.6 0.7M1130.6 980.7l3.3 0.7M1336.4 1235.5l-0.2 0.9M1235.7 1155.2l1.2 1M1253.7 1028.8l-1 0.5M1252.3 953.2l2.9 2.1M1077 1198.6l-0.8 3.7M1050 1317.9l0.2 1.8M1072.1 1056.8l3.2 0.7M1167.8 1213.5l-0.9 1.1M1097.1 1132l1.6 1.7M1159.5 1193.8l-2.4 0.1M1333.7 1281.9l1.3 2.1M1140.2 1009.7l-0.5 1.7M1242.6 1276.5l-3 1.7M1078.6 1280.1l0.8 0.9M1144.8 1278.3l-2.6 0.7M1144.6 1189.7l0 0.8M1311.7 1159.7l-2.1 1.1M1346.8 1194.4l1.6 0.6M1043.1 1017.7l0 0.9M1337.4 1248.4l0.5 4.5M1129 1255l1.4 3.4"/>
<path opacity="0.7" d="M1203.7 1315.7l-1.9 0M1136.2 1312.1l-2.5 0.4M1303 1328.4l-1.8 1.4M1276.3 1302.3l-0.8 1.2M1249.2 1096.5l-3.7 1M1125.9 1155.5l-1.7 0.6M1239 1312.6l1.2 1M1094.3 1285.6l1.5 1.3M1146 1324.7l-2.7 1.8M1115.7 1224.9l-3.9 0.6M1237.8 1064l1 0.9M1125.7 1139.3l1 0.1M1264.2 974.2l-0.4 2.7M1130.8 1303.2l0.6 2.6M1243.6 1329.4l-3.1 0.9M1064.4 966l2.5 1M1062.3 1095.4l-1.8 1.3M1150.7 1009.3l1.9 2.4M1327.1 1205.8l-2.4 1.9M1351.1 1032.6l0.4 1.1M1286.9 1089.6l3.1 1.7M1267.7 957.6l1.4 1.2M1125 1322l1.2 3.6M1073.7 1108l-1 0.1M1291.5 1117l0.7 1M1102.6 1097.9l3.3 2.8M1330.6 1168l-0.4 4.1M1234 1097.9l-3.7 2M1260.5 1219l0.5 2.4"/>
</g>
<g fill="none" stroke="#2a7e7c" stroke-linecap="round" stroke-width="9.2">
<path opacity="0.29" d="M1059.4 982l1.2 2.2M1218.8 1115.8l4.5 0.2M1214.1 1169.2l-2.1 0.7M1062 1246.8l2.9 2.5M1308 1150.6l-2.6 3.2M1264.9 1043.7l-2.6 0.3M1304.9 1076l1.2 2.6M1265 1208.6l-3 2.3M1215.2 1064.2l-3 1.8M1289.2 1294.3l-2.5 3.4M1082.8 1004.3l-1.9 3.6M1128.9 1225.8l1.5 1.5M1122 1206l0.1 1M1252.9 1192.9l2.2 0.3M1355.1 1191.6l-1 1.3M1357.6 1079.7l1.5 2M1304.8 954.4l0.8 1.9M1085 1300.6l-0.5 3.3M1198.3 1291.6l-1.5 2.9M1340.5 1074l-1.6 3.5M1349.2 1255l-1.8 0.7M1292.4 1262.6l-3.7 1.7M1337.1 1114l-0.6 1.9M1201.1 1114.1l-3.7 2.6M1220.2 989.7l0.7 0.7M1238.1 1004.4l3.2 1.3M1063.8 1314l3.4 0.2M1220.9 1287.5l0.3 2.6M1237.3 1031.6l-0.8 1.7M1073.1 950.1l-3.3 0.7M1224.1 1251.9l-2.2 1.9M1100.8 968.7l-0 0.8M1259.4 1326.3l-1.5 4.4M1288.3 1245l-3.1 1.9M1143.9 1260.4l-2.7 2.1M1279.3 1139.8l3.7 0.3M1156 1176.8l-2.5 2.5M1255.1 1176.5l-0.7 4.1M1303.1 1195.3l-0.1 1.7M1039.3 1326.7l4.2 1.9M1061.6 1273.7l-3.4 0.7M1161.6 1221.6l-0.9 0.8M1300.2 1121.9l0.6 1.2M1297.6 1182.4l2.3 0.4M1168.1 947.3l-4.4 0.8M1096.7 1241.9l-0.9 1.9M1277.5 1163.3l1.2 0.6M1066 1330.4l0.6 0.9M1210.7 1107.1l2.5 2.3M1144.2 1144.4l-3.5 2.4M1045.4 1146.2l-1.3 1.7M1223 1000.3l-0.3 1M1211.5 976.2l-1 1.5M1278.7 962.1l1.1 0.5M1359.1 962.7l-3.8 0.8M1257 1243.6l-0.3 1.6M1171.5 1127.6l-1.8 4M1042.6 1261.4l0.8 0.2M1160.5 1165.1l1.8 1.7M1167.2 958.6l2.3 1M1050.3 960.4l-0 1.2M1168.5 992l4.2 2M1153.9 1130.4l-3.4 0.4"/>
<path opacity="0.39" d="M1099.4 1205.8l0.9 2.2M1090.2 1220.9l-2.4 0M1178.8 1277l1.2 4.1M1303.9 1003.8l3.5 3M1317.6 1049.7l-4 1.7M1160.1 967.7l0 3.7M1269.4 1098.9l0.9 3.7M1216 1215.8l1.4 0.1M1338.5 1037.8l3.1 0.6M1055.8 1012.8l-4.3 0.1M1302.3 1229.3l-1.6 1.2M1340.6 1156.8l1.8 2.2M1346.2 1284l-0.7 0.6M1156.7 1017.7l0.3 4.4M1319.4 1142l2.8 1.4M1087.5 1270l4.2 1.6M1084.4 1179.6l2.5 3.2M1325.5 976.3l-2.6 0.2M1208.5 1184.2l1 0M1309.2 1242.3l-3 0.6M1088.8 1059.9l-2.5 0.6M1041 1237.2l3.7 0.2M1228.5 1294.8l-1.5 3.4M1221.6 1175l1.2 0.7M1190.5 1044.1l-3.6 0.6M1305.3 1282.9l1.8 0.8M1179.6 999.8l-0 1M1270.2 1130.1l1.4 1M1265.7 1057.9l1.5 3.6M1114.5 1002.5l3.3 3.3M1059.6 1135.1l-2.5 0.2M1212.2 1002.2l-1.7 0.1M1043.3 1089.9l0.6 1M1074.6 1019.8l2.6 1.5M1316.5 1125.7l-0.3 0.9M1176.2 1176.5l-1.1 0M1332.3 986l1.6 3.9M1335.9 998l3.8 2.4M1278.3 1254.3l1.4 0.7M1178.9 968.7l3.7 1.5M1249 1225.2l-0.8 0.6M1353.1 978.3l-1.6 1M1145.9 1199.2l-0.4 1.3M1204.5 1261.3l-0.9 2.1M1181.6 1129.9l-1.3 4.3M1146.9 1216.1l0.4 2.5M1330.8 1273.3l-1.3 0M1159.6 993.4l-2.9 3.3M1221.7 960.3l0.8 0.8M1057.6 1236l-4.5 1.4M1266.6 1183.1l-0.4 0.8M1350.1 1064.2l-1 3.8M1088 1109.5l1.2 0.2M1122.9 1059.8l2.9 2.4M1285.1 1080l2.7 1M1344.2 1022.5l-4 2.1M1211.6 1327.9l-1.1 2.3M1200.3 1224.6l0.1 2.5M1244.3 1267.6l-1 0.8M1044.8 1003.3l-0.3 0.9M1217.1 946.6l2.2 1.7M1089.9 1009.3l3.1 1.7M1274.1 995.6l-0.6 1.2M1346.9 1314.3l-1 0.3M1238.5 983.7l1.1 1.2M1137.2 1109l1.2 0.8M1292.6 1204.4l2.5 3.3M1104.5 956.9l-4.1 0.5M1200.3 963l0.2 1.8M1193.2 1074.7l-0.3 1.8M1063.8 1220.7l-0.9 0.4M1193.8 1029.8l2.2 2.4M1049.1 1064l0 1.2M1102.4 1050.3l-3 2.3M1180.8 1164.9l0.4 1.1M1190.5 1160l-3.8 1.2M1054.8 1192.5l0.6 2.6M1277.1 1263.6l3 1.6M1353.4 997.4l-2.9 3.2M1209.6 989.5l-0.6 3.7M1199 1275.4l-2.3 0.7M1232.6 1230.7l0.8 0.6M1073.1 1306.9l2.2 3.1M1202 1250l2 4M1282.9 1286.1l0.2 1.7M1085.3 989.5l-3.2 0.3M1217.6 1072.5l0.7 1.9M1084.2 1036.1l1.2 2.5"/>
<path opacity="0.5" d="M1069.2 1237.2l-0.9 4M1139.3 1287.9l-2.8 2.2M1054.6 1326.5l-0.7 4.4M1181.1 1015.7l1.9 0M1107.6 1325l-0.9 0.6M1258.5 1003.6l-1.7 0.2M1133.5 1244.7l0.1 4.2M1100 1178.7l-1.5 4M1221.4 1011.3l-0 1.6M1249.4 1109.5l0 1M1083.1 1166.3l1.4 1.8M1254.6 980.6l2.1 0.9M1068 994.1l-1 1.4M1341.2 1178.1l3.7 0.9M1229 951l-0.1 3.1M1090.7 951.3l-0.4 0.7M1164.6 1119.4l3.7 1.4M1125.1 1249.6l-2.6 0.2M1272.2 1025.7l-2.3 4.1M1097.8 1068.9l3.3 1.2M1270.2 1172.3l-2 0.2M1220.7 1233.4l-4.2 0M1041.1 1186.4l-0.4 3.1M1096.7 976.2l-3.3 0.3M1139.9 1136.1l0.2 0.8M1058.1 1145.9l-1.4 1.4M1322.2 1162.4l3 1.8M1219.8 1096.3l2.4 0.2M1134.5 967.8l1.4 0.4M1345.4 1225.9l2.3 0.4M1267 1160.7l1.7 1.3M1303.3 1211.5l-1.2 0.3M1201.2 1104.3l-1.8 1M1173.6 1263.3l2.6 3.4M1340.9 1059.8l-2.5 0.9M1100.5 1109.6l0.9 1.2M1251.1 965.5l3 2.6M1354.2 1155.8l-3.6 1M1155.1 1155.9l0.9 0.3M1056.8 1176.3l2.3 1.3M1316.3 1290.7l-3.1 3.2M1041.6 1287.9l0.7 0.9M1338.2 1323.4l-2.4 2.6M1290.6 1275.8l1.1 1.3M1294.1 1009.7l2 0.4M1218.1 1310l2.1 3.4M1081.8 1066.4l0.3 3.8M1181.1 1117.2l0.5 0.9M1207.5 1020.6l0.6 3.4M1091.6 1199.6l-1.3 1.3M1200 993.2l-1.5 0.3M1252 1283.2l-3.2 0.7M1092.7 1257.5l-1.8 2.2M1066.2 1009.9l-0.6 4.5M1250.2 1316.4l-2.7 0.2M1111.8 945.4l-0.4 2.9M1074.9 1153.2l-2 4.2M1067 1085.5l1.3 1.2M1238.3 1198l-0.8 1.1M1306.4 1269.1l-2.2 1.5M1318.9 1219.5l-1.4 3.2M1279.8 1083.4l-1.4 1.4M1125.2 1269.7l-3.1 3.4M1348.2 947.9l-0 1.4M1259.2 992.6l1.6 0.9M1101.9 1267.5l3.6 0.7M1170.6 1274.8l-0.8 0.1M1278.4 1102.3l1.5 1.5M1173.5 1036.9l0.8 1.6M1302.8 1100l-1.4 2.5M1107.7 1191l1.1 2.4M1336.7 954l-2 1.1M1358.4 1118.3l-1 2.2M1302.5 1300.4l-2.9 0.7M1104.2 1216l-1 2.6M1242.8 1132.7l1 0.4M1065.1 1254l1.1 4.4M1041.5 990.2l-2 3.5M1094.9 1190.1l3.3 1.7M1100.2 1119.7l1.9 0.5M1325.4 1192.3l-3.3 2M1291.3 1324.6l-3.7 1.8M1190.6 1322.5l2.2 2.6M1110.9 986.4l-1.3 3.4M1237.2 1255.7l3.9 0.4"/>
<path opacity="0.6" d="M1241.2 949.4l2.8 0.6M1327.7 1029.7l1.1 0.5M1248.9 1120.8l-0.9 2.4M1304.8 1169.6l3.7 1.7M1111.9 1301.7l1.8 2.4M1177.7 1137.9l-0 2.7M1075.5 955.7l1 3.7M1264.3 1082.4l-1.6 1.3M1084.4 1120.6l-1 3.2M1180.4 1214.7l-2.2 4M1059.3 1060.9l-0.8 0.2M1245.2 1054.2l-1 4.2M1260.3 1015.3l-3.5 2.3M1317.9 1205.1l-3.9 0.8M1282.9 1012l-4.4 0.8M1322.5 1279.4l1.6 3.3M1343.5 1008.8l0 1.4M1179.1 976.3l1 3.5M1291 967.3l0.5 0.9M1183.9 1026.5l-2 0.7M1162.3 1177.7l4.3 0.1M1098.5 1169.4l-3.7 0.6M1044.2 1074.1l-1.3 3.8M1130.6 1327.6l1.4 0.2M1202.4 1197.9l2.3 1.1M1310 1128.4l-0.3 1.1M1065.8 1073.6l1.3 2.7M1047.9 1295.6l3.7 0.5M1048.5 1246.4l-1.8 2M1278.4 979.5l1.2 0.4M1181.2 1054.5l0.6 0.7M1076.8 1228l2.5 0.4M1344.3 1300.3l1.7 1.8M1301.6 1046.2l2.3 1.3M1347.5 1241.9l1.2 0.8M1295.1 1314.5l1.4 2.9M1165.7 1332.6l-0.4 2.2M1297.9 1156.7l3.3 3.2M1139.1 1157.3l4.1 0.7M1319.2 949.1l-0.8 1.4M1180.7 946l1.1 2.5M1121.4 1177l1.9 0.9M1280.7 1206.5l-1.4 4.2M1148.8 965.9l-1.5 2.5M1342.4 991.1l-1.6 2.7M1161.2 1262.5l0.1 1M1042.4 1311.3l-1 0.5"/>
<path opacity="0.7" d="M1271.8 1241.6l-1.9 1.7M1211.8 1085.5l-1.3 0.5M1188 1265.1l-0.8 1.3M1059.1 1308.4l-0.4 0.8M1134.7 996.5l-1.8 0.9M1320.6 1329.2l-1.7 0.9M1247.1 1215l-3.1 2.6M1356.4 1046.2l0.5 0.5M1157.6 952.9l-1.7 0.3M1319.8 985.2l-1.4 2.5M1132.8 1180.8l-0.2 2.1M1224.8 1066.8l2.6 0.1M1317.1 1264.1l1.1 4.4M1334.6 1196.5l0.8 0.5M1322.7 1014.7l1.5 0.5M1169.9 1202.5l1.6 3.7M1347.4 1124.1l-1.1 1.9M1078.7 1242.9l-1 0.3M1132.8 1268.9l4.3 0.4M1252.4 1303.2l0.3 1.2M1154.1 1288.9l0.9 0.3M1077 971.7l2.4 2.1M1053.9 1285.3l-2.4 0M1221 1203.2l-3.5 2.6M1192.7 1008.6l-4.7 0.1M1040.1 1161.2l2.2 3.9M1108.6 1105.9l1.1 1.6M1274.7 984l-2.1 4.1"/>
</g>
<g fill="#dc2424">
<ellipse cx="1300" cy="979.6" rx="3.9" ry="3.1" opacity="0.64" transform="rotate(141 1300 979.6)"/>
<ellipse cx="1300.7" cy="977.5" rx="3.9" ry="2.6" opacity="0.64" transform="rotate(95 1300.7 977.5)"/>
<ellipse cx="1153.6" cy="993" rx="3.8" ry="3.2" opacity="0.4" transform="rotate(90 1153.6 993)"/>
<ellipse cx="1154.5" cy="991.9" rx="4.2" ry="3.8" opacity="0.4" transform="rotate(33 1154.5 991.9)"/>
<ellipse cx="1194.1" cy="1004.3" rx="3.6" ry="2.6" opacity="0.72" transform="rotate(122 1194.1 1004.3)"/>
<ellipse cx="1196.5" cy="1004.4" rx="3.6" ry="2.6" opacity="0.72" transform="rotate(153 1196.5 1004.4)"/>
<ellipse cx="1197.7" cy="1005.5" rx="4.6" ry="2.9" opacity="0.72" transform="rotate(168 1197.7 1005.5)"/>
<ellipse cx="1175.6" cy="1034.3" rx="3.4" ry="2.1" opacity="0.64" transform="rotate(159 1175.6 1034.3)"/>
<ellipse cx="1173.4" cy="1032.8" rx="3.5" ry="2.9" opacity="0.64" transform="rotate(115 1173.4 1032.8)"/>
<ellipse cx="1144.5" cy="1034.8" rx="3" ry="2.6" opacity="0.4" transform="rotate(95 1144.5 1034.8)"/>
<ellipse cx="1142.2" cy="1037.7" rx="3.5" ry="3.3" opacity="0.4" transform="rotate(82 1142.2 1037.7)"/>
<ellipse cx="1065.4" cy="1058.3" rx="3.7" ry="3.5" opacity="0.76" transform="rotate(14 1065.4 1058.3)"/>
<ellipse cx="1066.5" cy="1057.3" rx="4.3" ry="2.9" opacity="0.76" transform="rotate(102 1066.5 1057.3)"/>
<ellipse cx="1077.3" cy="1069.9" rx="2.9" ry="2.3" opacity="0.6" transform="rotate(52 1077.3 1069.9)"/>
<ellipse cx="1076.4" cy="1070.3" rx="3.8" ry="3.2" opacity="0.6" transform="rotate(109 1076.4 1070.3)"/>
<ellipse cx="1205.8" cy="1061.8" rx="3.7" ry="3" opacity="0.68" transform="rotate(170 1205.8 1061.8)"/>
<ellipse cx="1202.9" cy="1058.7" rx="3.2" ry="2.5" opacity="0.68" transform="rotate(18 1202.9 1058.7)"/>
<ellipse cx="1223.3" cy="1065.2" rx="2.9" ry="2.3" opacity="0.68" transform="rotate(53 1223.3 1065.2)"/>
<ellipse cx="1222.7" cy="1065.2" rx="3.3" ry="2.7" opacity="0.68" transform="rotate(160 1222.7 1065.2)"/>
<ellipse cx="1067.3" cy="1090.5" rx="3.2" ry="3" opacity="0.64" transform="rotate(148 1067.3 1090.5)"/>
<ellipse cx="1071" cy="1089.3" rx="2.7" ry="2" opacity="0.64" transform="rotate(10 1071 1089.3)"/>
<ellipse cx="1192.8" cy="1095.4" rx="4" ry="2.7" opacity="0.72" transform="rotate(38 1192.8 1095.4)"/>
<ellipse cx="1196.3" cy="1099.2" rx="5.5" ry="4" opacity="0.72" transform="rotate(97 1196.3 1099.2)"/>
<ellipse cx="1194.8" cy="1095.2" rx="4.5" ry="3.9" opacity="0.72" transform="rotate(87 1194.8 1095.2)"/>
<ellipse cx="1104" cy="1119.1" rx="6.2" ry="4.6" opacity="0.72" transform="rotate(28 1104 1119.1)"/>
<ellipse cx="1101.6" cy="1118.3" rx="6.2" ry="5.8" opacity="0.72" transform="rotate(154 1101.6 1118.3)"/>
<ellipse cx="1098.7" cy="1120.9" rx="5.1" ry="3.5" opacity="0.72" transform="rotate(32 1098.7 1120.9)"/>
<ellipse cx="1333.1" cy="1117.6" rx="3.7" ry="3.5" opacity="0.4" transform="rotate(117 1333.1 1117.6)"/>
<ellipse cx="1332" cy="1116.2" rx="4.9" ry="3.7" opacity="0.4" transform="rotate(105 1332 1116.2)"/>
<ellipse cx="1331.2" cy="1111.6" rx="4.6" ry="4.2" opacity="0.4" transform="rotate(108 1331.2 1111.6)"/>
<ellipse cx="1297.7" cy="1131.6" rx="3.3" ry="2.2" opacity="0.72" transform="rotate(92 1297.7 1131.6)"/>
<ellipse cx="1300.4" cy="1129.6" rx="3.3" ry="2.6" opacity="0.72" transform="rotate(66 1300.4 1129.6)"/>
<ellipse cx="1309" cy="1135.4" rx="3.9" ry="2.8" opacity="0.76" transform="rotate(174 1309 1135.4)"/>
<ellipse cx="1310.1" cy="1135.2" rx="3.7" ry="2.9" opacity="0.76" transform="rotate(163 1310.1 1135.2)"/>
<ellipse cx="1081.9" cy="1158.3" rx="3.7" ry="2.7" opacity="0.4" transform="rotate(174 1081.9 1158.3)"/>
<ellipse cx="1082.2" cy="1161.5" rx="2.9" ry="2" opacity="0.4" transform="rotate(114 1082.2 1161.5)"/>
<ellipse cx="1174.3" cy="1151.8" rx="3" ry="2.8" opacity="0.4" transform="rotate(129 1174.3 1151.8)"/>
<ellipse cx="1171.4" cy="1151.9" rx="3.1" ry="2.7" opacity="0.4" transform="rotate(96 1171.4 1151.9)"/>
<ellipse cx="1175.6" cy="1177" rx="4.2" ry="3.5" opacity="0.72" transform="rotate(144 1175.6 1177)"/>
<ellipse cx="1172.9" cy="1174" rx="3.7" ry="2.4" opacity="0.72" transform="rotate(16 1172.9 1174)"/>
<ellipse cx="1222.2" cy="1165.4" rx="4.9" ry="3.5" opacity="0.72" transform="rotate(63 1222.2 1165.4)"/>
<ellipse cx="1221.8" cy="1165.7" rx="4.6" ry="3.3" opacity="0.72" transform="rotate(157 1221.8 1165.7)"/>
<ellipse cx="1220.1" cy="1167.9" rx="4.9" ry="4.3" opacity="0.72" transform="rotate(153 1220.1 1167.9)"/>
<ellipse cx="1230" cy="1187.2" rx="3.6" ry="2.8" opacity="0.64" transform="rotate(28 1230 1187.2)"/>
<ellipse cx="1226.8" cy="1184.3" rx="4.7" ry="4.1" opacity="0.64" transform="rotate(114 1226.8 1184.3)"/>
<ellipse cx="1230.9" cy="1185.4" rx="3.7" ry="3.2" opacity="0.64" transform="rotate(73 1230.9 1185.4)"/>
<ellipse cx="1237.7" cy="1199" rx="3.9" ry="2.9" opacity="0.64" transform="rotate(127 1237.7 1199)"/>
<ellipse cx="1242.2" cy="1200.2" rx="3.8" ry="3.5" opacity="0.64" transform="rotate(10 1242.2 1200.2)"/>
<ellipse cx="1130" cy="1198.1" rx="3.5" ry="2.8" opacity="0.6" transform="rotate(149 1130 1198.1)"/>
<ellipse cx="1133" cy="1199.2" rx="3.2" ry="2.3" opacity="0.6" transform="rotate(154 1133 1199.2)"/>
<ellipse cx="1349.7" cy="1187.2" rx="3.4" ry="3.1" opacity="0.4" transform="rotate(72 1349.7 1187.2)"/>
<ellipse cx="1346" cy="1187.3" rx="4.3" ry="3.1" opacity="0.4" transform="rotate(69 1346 1187.3)"/>
<ellipse cx="1258.3" cy="1223.8" rx="6.2" ry="3.7" opacity="0.72" transform="rotate(39 1258.3 1223.8)"/>
<ellipse cx="1257.3" cy="1225.7" rx="6.6" ry="5" opacity="0.72" transform="rotate(144 1257.3 1225.7)"/>
<ellipse cx="1253.6" cy="1224.5" rx="6.8" ry="6.1" opacity="0.72" transform="rotate(151 1253.6 1224.5)"/>
<ellipse cx="1208.7" cy="1218.7" rx="3.6" ry="3.3" opacity="0.4" transform="rotate(22 1208.7 1218.7)"/>
<ellipse cx="1211.3" cy="1220.5" rx="4.3" ry="3.8" opacity="0.4" transform="rotate(179 1211.3 1220.5)"/>
<ellipse cx="1300.7" cy="1202" rx="2.9" ry="2.7" opacity="0.4" transform="rotate(123 1300.7 1202)"/>
<ellipse cx="1298" cy="1203" rx="3.1" ry="2.3" opacity="0.4" transform="rotate(84 1298 1203)"/>
<ellipse cx="1234" cy="1247.6" rx="3.7" ry="3.2" opacity="0.6" transform="rotate(116 1234 1247.6)"/>
<ellipse cx="1235.1" cy="1250.5" rx="3.9" ry="2.5" opacity="0.6" transform="rotate(164 1235.1 1250.5)"/>
<ellipse cx="1312.1" cy="1264" rx="4.3" ry="3.2" opacity="0.4" transform="rotate(96 1312.1 1264)"/>
<ellipse cx="1315.4" cy="1263.1" rx="4.4" ry="3.9" opacity="0.4" transform="rotate(110 1315.4 1263.1)"/>
<ellipse cx="1253.6" cy="1305.1" rx="4.2" ry="3.7" opacity="0.64" transform="rotate(44 1253.6 1305.1)"/>
<ellipse cx="1256.5" cy="1302.4" rx="3.5" ry="3.2" opacity="0.64" transform="rotate(6 1256.5 1302.4)"/>
<ellipse cx="1071.6" cy="1209.1" rx="4" ry="3.6" opacity="0.36" transform="rotate(72 1071.6 1209.1)"/>
<ellipse cx="1073.9" cy="1207.9" rx="3.8" ry="2.5" opacity="0.36" transform="rotate(3 1073.9 1207.9)"/>
<ellipse cx="1053.3" cy="1319.9" rx="3.9" ry="2.9" opacity="0.36" transform="rotate(97 1053.3 1319.9)"/>
<ellipse cx="1052.3" cy="1318" rx="4" ry="3.3" opacity="0.36" transform="rotate(64 1052.3 1318)"/>
<ellipse cx="1049.4" cy="1186.7" rx="3.1" ry="2.2" opacity="0.36" transform="rotate(8 1049.4 1186.7)"/>
<ellipse cx="1048.7" cy="1186.9" rx="3" ry="2.4" opacity="0.36" transform="rotate(67 1048.7 1186.9)"/>
<ellipse cx="1266" cy="957.8" rx="4" ry="2.9" opacity="0.5" transform="rotate(137 1266 957.8)"/>
<ellipse cx="1052.8" cy="1129.6" rx="3.7" ry="3.1" opacity="0.4" transform="rotate(32 1052.8 1129.6)"/>
</g>
<ellipse cx="1129.8" cy="1113.3" rx="2.1" ry="1.7" fill="#30d8d8" opacity="0.7"/>
<ellipse cx="1113.5" cy="1114.8" rx="1.8" ry="1.4" fill="#30d8d8" opacity="0.6"/>
<ellipse cx="1326.8" cy="1259.9" rx="2.7" ry="2.1" fill="#30d8d8" opacity="0.5"/>
</g>
</g>
<text x="1063.2" y="981.7" font-size="24.6" font-weight="normal" text-anchor="start" fill="#fff" letter-spacing="0.5">-/- MAVS</text>
<rect x="1063.1" y="1274.6" width="97.2" height="2" fill="#f2f2f2"/>
<text x="1075" y="1304.8" font-size="24.4" font-weight="normal" text-anchor="start" fill="#fff" letter-spacing="0.5">100 µm</text>
<text x="25.4" y="523" font-size="24.6" font-weight="normal" text-anchor="start" fill="#000" letter-spacing="0.9">(b)</text>
<text x="729.3" y="523" font-size="24.6" font-weight="normal" text-anchor="start" fill="#000" letter-spacing="0.9">(d)</text>
</svg>
</body>
</html>
